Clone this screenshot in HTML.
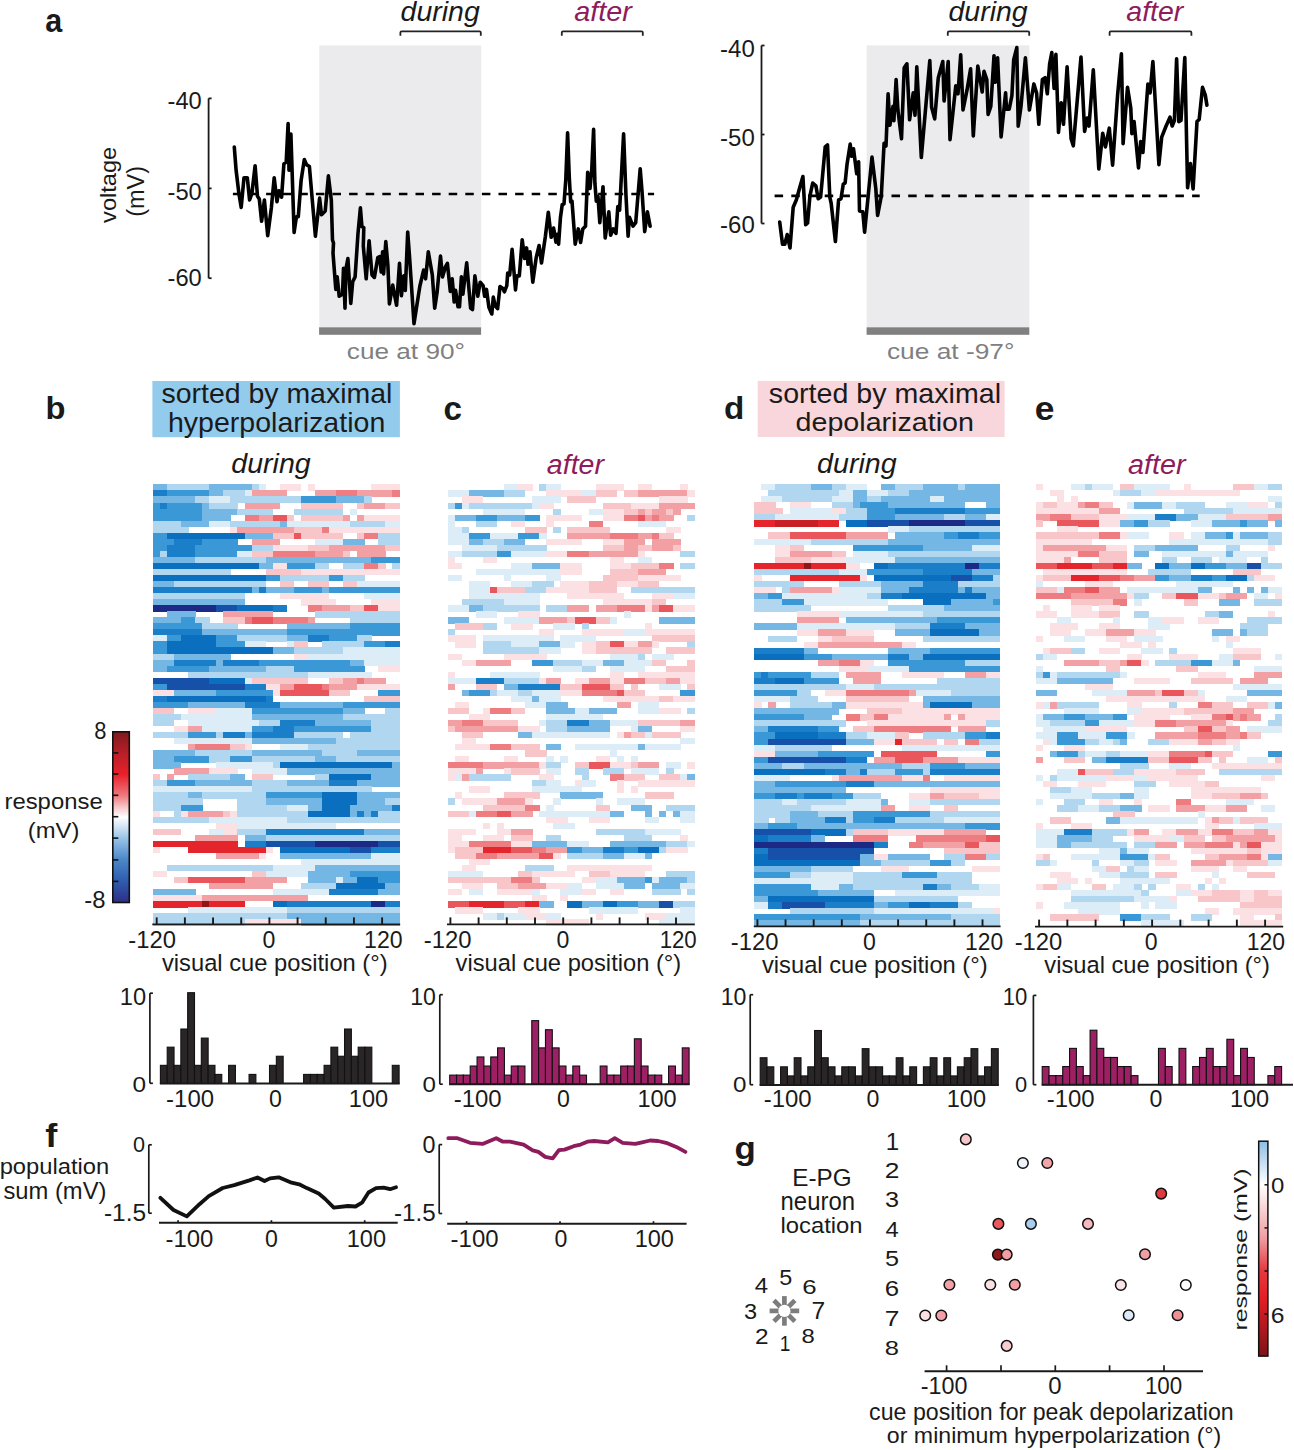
<!DOCTYPE html>
<html><head><meta charset="utf-8"><style>
html,body{margin:0;padding:0;background:#fff;}
svg{display:block;}
text{font-family:"Liberation Sans",sans-serif;fill:#1a1a1a;}
.b{font-weight:bold;} .i{font-style:italic;}
</style></head><body>
<svg width="1294" height="1450" viewBox="0 0 1294 1450">
<rect width="1294" height="1450" fill="#fff"/>
<text class="b" transform="translate(45.29,31.86) scale(0.906,1)" font-size="33.64">a</text>
<rect x="319.30" y="45.40" width="161.90" height="281.90" fill="#ebebed"/>
<rect x="319.10" y="327.30" width="162.00" height="7.50" fill="#808080"/>
<rect x="866.70" y="45.40" width="162.70" height="281.90" fill="#ebebed"/>
<rect x="866.60" y="327.30" width="162.70" height="7.50" fill="#808080"/>
<path d="M400.4,35.8 V32.6 Q400.4,31.4 401.6,31.4 H479.6 Q480.8,31.4 480.8,32.6 V35.8" fill="none" stroke="#222" stroke-width="1.8"/>
<path d="M561.8,35.8 V32.6 Q561.8,31.4 563.0,31.4 H641.6 Q642.8,31.4 642.8,32.6 V35.8" fill="none" stroke="#222" stroke-width="1.8"/>
<path d="M947.8,35.8 V32.6 Q947.8,31.4 949.0,31.4 H1028.0 Q1029.2,31.4 1029.2,32.6 V35.8" fill="none" stroke="#222" stroke-width="1.8"/>
<path d="M1109.6,35.8 V32.6 Q1109.6,31.4 1110.8,31.4 H1190.2 Q1191.4,31.4 1191.4,32.6 V35.8" fill="none" stroke="#222" stroke-width="1.8"/>
<text class="i" transform="translate(400.60,21.24) scale(1.020,1)" font-size="27.91">during</text>
<text class="i" transform="translate(574.22,20.93) scale(1.049,1)" font-size="27.48" style="fill:#8e1b5c">after</text>
<text class="i" transform="translate(948.50,21.24) scale(1.020,1)" font-size="27.91">during</text>
<text class="i" transform="translate(1126.33,20.93) scale(1.037,1)" font-size="27.48" style="fill:#8e1b5c">after</text>
<line x1="208.60" y1="98.40" x2="208.60" y2="278.20" stroke="#1a1a1a" stroke-width="1.8"/>
<line x1="208.60" y1="98.40" x2="211.60" y2="98.40" stroke="#1a1a1a" stroke-width="1.8"/>
<line x1="208.60" y1="188.40" x2="211.60" y2="188.40" stroke="#1a1a1a" stroke-width="1.8"/>
<line x1="208.60" y1="278.20" x2="211.60" y2="278.20" stroke="#1a1a1a" stroke-width="1.8"/>
<text class="r" transform="translate(167.53,109.36) scale(0.991,1)" font-size="23.94">-40</text>
<text class="r" transform="translate(167.53,199.56) scale(1.009,1)" font-size="23.52">-50</text>
<text class="r" transform="translate(167.53,286.06) scale(0.997,1)" font-size="23.80">-60</text>
<text class="r" transform="translate(116.43,222.92) rotate(-90) scale(1.062,1)" font-size="22.25">voltage</text>
<text class="r" transform="translate(143.50,216.81) rotate(-90) scale(1.009,1)" font-size="23.32">(mV)</text>
<line x1="761.50" y1="45.50" x2="761.50" y2="223.50" stroke="#1a1a1a" stroke-width="1.8"/>
<line x1="761.50" y1="45.50" x2="764.50" y2="45.50" stroke="#1a1a1a" stroke-width="1.8"/>
<line x1="761.50" y1="134.50" x2="764.50" y2="134.50" stroke="#1a1a1a" stroke-width="1.8"/>
<line x1="761.50" y1="223.50" x2="764.50" y2="223.50" stroke="#1a1a1a" stroke-width="1.8"/>
<text class="r" transform="translate(720.12,56.76) scale(1.004,1)" font-size="23.94">-40</text>
<text class="r" transform="translate(720.12,146.46) scale(1.022,1)" font-size="23.52">-50</text>
<text class="r" transform="translate(720.12,233.16) scale(1.010,1)" font-size="23.80">-60</text>
<line x1="232.9" y1="194" x2="654.1" y2="194" stroke="#000" stroke-width="2.7" stroke-dasharray="8.5 8.1"/>
<line x1="774.6" y1="195.8" x2="1199.7" y2="195.8" stroke="#000" stroke-width="2.7" stroke-dasharray="8.5 8.2"/>
<polyline points="234.3,147.1 236.1,170.3 238.9,193.5 241.2,207.4 244.0,177.7 247.3,177.7 249.6,200.0 251.9,193.5 255.1,165.7 257.5,196.3 259.3,199.0 261.6,221.3 264.4,200.0 267.7,235.7 271.4,207.4 274.2,177.7 277.0,201.8 278.8,190.7 281.6,197.2 283.9,163.8 286.2,162.0 288.1,123.5 289.0,170.3 290.9,134.1 294.1,232.4 296.4,216.7 298.3,216.7 301.1,180.5 304.3,159.6 306.6,164.7 309.4,166.6 315.4,236.2 319.6,198.1 321.5,214.8 325.2,211.1 328.4,175.9 331.3,200.0 332.5,240.0 333.5,243.0 333.0,253.0 335.8,289.4 337.2,276.9 339.2,296.2 342.5,294.2 343.5,268.2 345.0,308.2 345.9,269.2 347.9,258.5 350.8,303.4 352.7,281.7 355.1,276.9 358.0,233.4 360.4,207.9 361.9,226.7 363.8,227.6 363.3,246.0 366.2,278.8 369.1,240.7 372.0,274.9 374.4,277.4 377.8,257.6 379.7,256.6 381.2,272.0 382.6,251.8 383.6,274.0 385.8,241.6 387.9,265.3 389.4,303.9 392.7,285.1 396.6,305.3 399.5,263.4 401.4,295.7 403.8,275.9 405.3,290.4 407.7,232.0 409.6,257.6 414.0,323.7 419.8,286.5 423.6,270.1 425.6,278.8 428.3,251.8 432.3,274.9 434.7,308.2 437.1,292.3 440.5,256.1 442.5,276.9 445.3,267.2 447.4,263.4 450.3,291.4 452.2,278.8 454.2,302.0 455.6,290.4 458.0,306.8 459.5,306.8 461.4,276.9 462.9,294.2 466.7,262.9 470.6,308.2 472.5,309.7 474.9,275.9 477.8,296.2 480.2,282.2 483.1,285.6 484.6,296.2 486.5,289.4 488.9,307.3 491.8,314.0 493.3,297.1 495.2,305.8 497.6,308.7 500.0,286.5 502.9,288.5 504.4,291.8 506.8,285.6 507.7,273.0 509.7,274.9 512.1,249.4 515.5,289.9 516.9,275.9 519.3,275.9 522.2,239.7 524.6,258.5 526.6,247.9 528.0,264.3 530.0,251.8 532.8,282.2 536.2,257.6 539.1,245.5 541.5,262.9 545.4,236.3 548.3,212.2 551.2,237.3 553.6,228.1 556.0,242.1 557.5,234.4 558.6,244.1 560.4,218.1 562.2,204.7 564.0,203.8 565.8,179.6 567.6,132.9 569.3,177.8 570.7,202.0 572.0,201.1 575.2,244.1 578.3,228.9 580.6,242.4 582.8,228.9 585.5,226.2 587.7,172.4 590.0,188.5 591.8,168.8 593.6,129.3 594.9,183.2 596.3,201.1 598.0,196.6 599.8,222.6 603.0,186.7 605.2,237.9 608.8,211.9 610.6,235.2 613.3,228.9 616.0,233.4 617.8,206.5 619.6,210.1 623.6,133.8 625.9,193.9 628.1,236.1 629.4,217.2 633.0,226.2 635.7,222.6 640.2,168.8 642.0,191.2 644.7,231.6 647.4,211.9 650.1,226.2" fill="none" stroke="#000" stroke-width="3.6" stroke-linejoin="round" stroke-linecap="round"/>
<polyline points="779.7,222.0 782.5,244.3 784.8,244.3 787.2,234.6 790.0,248.0 793.2,207.2 796.4,199.8 799.2,189.6 802.9,176.6 805.7,224.8 807.6,223.0 809.9,196.1 812.7,183.1 815.9,185.9 818.2,198.8 820.6,197.0 821.9,183.1 825.2,146.9 827.5,145.0 829.8,197.0 831.2,203.5 835.4,241.5 838.6,199.8 841.0,198.8 843.3,184.0 845.1,183.1 847.0,164.5 850.2,144.1 851.6,156.2 853.5,148.8 856.7,173.8 858.6,161.7 859.5,210.9 862.8,211.8 864.6,232.2 872.0,157.1 875.8,188.6 877.6,215.5 881.3,196.1 884.1,143.2 886.0,146.0 888.1,93.8 889.9,125.2 893.0,106.4 893.9,120.7 896.1,79.5 897.9,110.0 901.5,138.7 904.2,67.8 906.9,63.8 909.6,119.8 913.2,92.9 915.0,115.3 916.8,66.9 921.3,157.5 929.8,60.6 931.6,107.3 934.7,118.9 938.3,77.7 942.8,61.5 944.1,101.0 948.2,61.5 950.0,139.6 955.8,85.7 958.0,93.8 960.7,54.8 963.0,110.0 967.0,90.2 970.6,68.7 973.3,136.0 977.8,66.0 982.2,92.0 984.0,71.4 986.8,79.5 988.1,114.4 990.8,106.4 992.2,84.8 994.0,55.7 995.3,82.2 997.6,57.9 1001.1,136.9 1005.6,92.9 1006.5,109.1 1009.2,109.1 1011.9,95.6 1013.7,59.7 1016.8,47.6 1018.2,126.1 1020.9,107.3 1025.4,57.9 1029.4,110.0 1033.9,83.9 1036.6,92.9 1038.8,124.3 1042.4,79.5 1045.1,77.7 1047.3,93.8 1049.6,64.2 1051.8,52.6 1054.1,88.4 1055.9,54.3 1058.5,132.4 1061.2,102.8 1063.5,124.3 1067.1,66.9 1071.1,138.7 1073.3,145.8 1081.0,57.0 1084.6,131.5 1087.2,118.0 1089.0,126.1 1093.3,69.8 1098.8,169.0 1102.7,133.2 1105.4,147.0 1109.3,128.2 1112.6,165.2 1117.6,95.1 1121.4,53.8 1123.1,143.7 1127.5,87.4 1130.8,108.4 1131.9,133.7 1134.1,121.6 1138.5,167.9 1140.7,141.5 1142.9,152.5 1147.9,84.1 1150.1,92.9 1152.9,61.5 1158.9,164.6 1161.7,137.1 1166.1,126.0 1170.0,117.2 1172.2,126.0 1174.4,120.5 1176.6,58.7 1178.8,121.6 1181.0,120.5 1184.8,57.6 1187.6,187.8 1190.4,163.5 1193.1,188.9 1197.0,121.6 1199.2,119.4 1202.5,87.4 1205.3,95.1 1206.9,105.1" fill="none" stroke="#000" stroke-width="3.6" stroke-linejoin="round" stroke-linecap="round"/>
<text class="r" transform="translate(346.85,358.58) scale(1.169,1)" font-size="22.39" style="fill:#808080">cue at 90°</text>
<text class="r" transform="translate(886.95,358.58) scale(1.176,1)" font-size="22.39" style="fill:#808080">cue at -97°</text>
<g shape-rendering="crispEdges"><rect x="153.00" y="484.40" width="14.38" height="6.34" fill="#74b7e4"/><rect x="167.08" y="484.40" width="42.54" height="6.34" fill="#b0d6f0"/><rect x="209.32" y="484.40" width="42.54" height="6.34" fill="#74b7e4"/><rect x="251.56" y="484.40" width="7.34" height="6.34" fill="#b0d6f0"/><rect x="258.60" y="484.40" width="7.34" height="6.34" fill="#dcedf8"/><rect x="279.72" y="484.40" width="21.42" height="6.34" fill="#fbe1e3"/><rect x="307.88" y="484.40" width="7.34" height="6.34" fill="#fbe1e3"/><rect x="371.24" y="484.40" width="28.46" height="6.34" fill="#fbe1e3"/><rect x="153.00" y="490.44" width="14.38" height="6.34" fill="#1a7fc8"/><rect x="167.08" y="490.44" width="42.54" height="6.34" fill="#3b98d6"/><rect x="209.32" y="490.44" width="14.38" height="6.34" fill="#74b7e4"/><rect x="223.40" y="490.44" width="21.42" height="6.34" fill="#b0d6f0"/><rect x="244.52" y="490.44" width="7.34" height="6.34" fill="#dcedf8"/><rect x="251.56" y="490.44" width="35.50" height="6.34" fill="#f3a0a4"/><rect x="314.92" y="490.44" width="21.42" height="6.34" fill="#f3a0a4"/><rect x="336.04" y="490.44" width="21.42" height="6.34" fill="#ee7d82"/><rect x="357.16" y="490.44" width="35.50" height="6.34" fill="#f3a0a4"/><rect x="392.36" y="490.44" width="7.34" height="6.34" fill="#ee7d82"/><rect x="153.00" y="496.48" width="42.54" height="6.34" fill="#74b7e4"/><rect x="195.24" y="496.48" width="14.38" height="6.34" fill="#b0d6f0"/><rect x="209.32" y="496.48" width="21.42" height="6.34" fill="#dcedf8"/><rect x="230.44" y="496.48" width="70.70" height="6.34" fill="#b0d6f0"/><rect x="300.84" y="496.48" width="35.50" height="6.34" fill="#3b98d6"/><rect x="336.04" y="496.48" width="28.46" height="6.34" fill="#74b7e4"/><rect x="364.20" y="496.48" width="7.34" height="6.34" fill="#b0d6f0"/><rect x="153.00" y="502.52" width="7.34" height="6.34" fill="#3b98d6"/><rect x="160.04" y="502.52" width="7.34" height="6.34" fill="#1a7fc8"/><rect x="167.08" y="502.52" width="35.50" height="6.34" fill="#3b98d6"/><rect x="202.28" y="502.52" width="7.34" height="6.34" fill="#74b7e4"/><rect x="209.32" y="502.52" width="28.46" height="6.34" fill="#b0d6f0"/><rect x="244.52" y="502.52" width="35.50" height="6.34" fill="#f3a0a4"/><rect x="300.84" y="502.52" width="42.54" height="6.34" fill="#f8c6c9"/><rect x="357.16" y="502.52" width="7.34" height="6.34" fill="#f8c6c9"/><rect x="364.20" y="502.52" width="21.42" height="6.34" fill="#f3a0a4"/><rect x="385.32" y="502.52" width="14.38" height="6.34" fill="#f8c6c9"/><rect x="153.00" y="508.56" width="49.58" height="6.34" fill="#3b98d6"/><rect x="202.28" y="508.56" width="35.50" height="6.34" fill="#74b7e4"/><rect x="237.48" y="508.56" width="35.50" height="6.34" fill="#b0d6f0"/><rect x="293.80" y="508.56" width="49.58" height="6.34" fill="#b0d6f0"/><rect x="350.12" y="508.56" width="7.34" height="6.34" fill="#dcedf8"/><rect x="153.00" y="514.60" width="49.58" height="6.34" fill="#3b98d6"/><rect x="202.28" y="514.60" width="28.46" height="6.34" fill="#74b7e4"/><rect x="244.52" y="514.60" width="14.38" height="6.34" fill="#ee7d82"/><rect x="258.60" y="514.60" width="14.38" height="6.34" fill="#f3a0a4"/><rect x="272.68" y="514.60" width="14.38" height="6.34" fill="#e9575d"/><rect x="286.76" y="514.60" width="7.34" height="6.34" fill="#f8c6c9"/><rect x="300.84" y="514.60" width="42.54" height="6.34" fill="#f8c6c9"/><rect x="343.08" y="514.60" width="7.34" height="6.34" fill="#f3a0a4"/><rect x="357.16" y="514.60" width="7.34" height="6.34" fill="#f3a0a4"/><rect x="364.20" y="514.60" width="35.50" height="6.34" fill="#fbe1e3"/><rect x="153.00" y="520.64" width="28.46" height="6.34" fill="#b0d6f0"/><rect x="181.16" y="520.64" width="28.46" height="6.34" fill="#74b7e4"/><rect x="209.32" y="520.64" width="21.42" height="6.34" fill="#dcedf8"/><rect x="230.44" y="520.64" width="49.58" height="6.34" fill="#b0d6f0"/><rect x="279.72" y="520.64" width="7.34" height="6.34" fill="#74b7e4"/><rect x="286.76" y="520.64" width="63.66" height="6.34" fill="#dcedf8"/><rect x="350.12" y="520.64" width="35.50" height="6.34" fill="#b0d6f0"/><rect x="385.32" y="520.64" width="14.38" height="6.34" fill="#dcedf8"/><rect x="153.00" y="526.68" width="35.50" height="6.34" fill="#b0d6f0"/><rect x="230.44" y="526.68" width="7.34" height="6.34" fill="#fbe1e3"/><rect x="237.48" y="526.68" width="56.62" height="6.34" fill="#f3a0a4"/><rect x="293.80" y="526.68" width="28.46" height="6.34" fill="#f8c6c9"/><rect x="321.96" y="526.68" width="7.34" height="6.34" fill="#ee7d82"/><rect x="329.00" y="526.68" width="70.70" height="6.34" fill="#fbe1e3"/><rect x="153.00" y="532.72" width="14.38" height="6.34" fill="#3b98d6"/><rect x="167.08" y="532.72" width="77.74" height="6.34" fill="#0b6fc0"/><rect x="244.52" y="532.72" width="28.46" height="6.34" fill="#74b7e4"/><rect x="272.68" y="532.72" width="21.42" height="6.34" fill="#f8c6c9"/><rect x="293.80" y="532.72" width="7.34" height="6.34" fill="#e9575d"/><rect x="300.84" y="532.72" width="42.54" height="6.34" fill="#f8c6c9"/><rect x="357.16" y="532.72" width="7.34" height="6.34" fill="#f8c6c9"/><rect x="364.20" y="532.72" width="14.38" height="6.34" fill="#ee7d82"/><rect x="378.28" y="532.72" width="21.42" height="6.34" fill="#b0d6f0"/><rect x="153.00" y="538.76" width="21.42" height="6.34" fill="#3b98d6"/><rect x="174.12" y="538.76" width="28.46" height="6.34" fill="#1a7fc8"/><rect x="202.28" y="538.76" width="35.50" height="6.34" fill="#3b98d6"/><rect x="251.56" y="538.76" width="28.46" height="6.34" fill="#f3a0a4"/><rect x="314.92" y="538.76" width="28.46" height="6.34" fill="#dcedf8"/><rect x="343.08" y="538.76" width="21.42" height="6.34" fill="#74b7e4"/><rect x="378.28" y="538.76" width="21.42" height="6.34" fill="#b0d6f0"/><rect x="153.00" y="544.80" width="14.38" height="6.34" fill="#3b98d6"/><rect x="167.08" y="544.80" width="28.46" height="6.34" fill="#1a7fc8"/><rect x="195.24" y="544.80" width="56.62" height="6.34" fill="#3b98d6"/><rect x="251.56" y="544.80" width="21.42" height="6.34" fill="#b0d6f0"/><rect x="272.68" y="544.80" width="35.50" height="6.34" fill="#fbe1e3"/><rect x="307.88" y="544.80" width="21.42" height="6.34" fill="#f8c6c9"/><rect x="329.00" y="544.80" width="56.62" height="6.34" fill="#f3a0a4"/><rect x="385.32" y="544.80" width="14.38" height="6.34" fill="#f8c6c9"/><rect x="153.00" y="550.84" width="7.34" height="6.34" fill="#3b98d6"/><rect x="160.04" y="550.84" width="7.34" height="6.34" fill="#b0d6f0"/><rect x="167.08" y="550.84" width="28.46" height="6.34" fill="#1a7fc8"/><rect x="195.24" y="550.84" width="42.54" height="6.34" fill="#3b98d6"/><rect x="237.48" y="550.84" width="14.38" height="6.34" fill="#dcedf8"/><rect x="251.56" y="550.84" width="21.42" height="6.34" fill="#f8c6c9"/><rect x="272.68" y="550.84" width="42.54" height="6.34" fill="#ee7d82"/><rect x="314.92" y="550.84" width="28.46" height="6.34" fill="#f3a0a4"/><rect x="343.08" y="550.84" width="7.34" height="6.34" fill="#f8c6c9"/><rect x="357.16" y="550.84" width="28.46" height="6.34" fill="#f3a0a4"/><rect x="153.00" y="556.88" width="42.54" height="6.34" fill="#74b7e4"/><rect x="195.24" y="556.88" width="70.70" height="6.34" fill="#b0d6f0"/><rect x="265.64" y="556.88" width="105.90" height="6.34" fill="#74b7e4"/><rect x="371.24" y="556.88" width="28.46" height="6.34" fill="#3b98d6"/><rect x="153.00" y="562.92" width="105.90" height="6.34" fill="#0b6fc0"/><rect x="258.60" y="562.92" width="14.38" height="6.34" fill="#74b7e4"/><rect x="272.68" y="562.92" width="14.38" height="6.34" fill="#fbe1e3"/><rect x="286.76" y="562.92" width="28.46" height="6.34" fill="#3b98d6"/><rect x="314.92" y="562.92" width="14.38" height="6.34" fill="#b0d6f0"/><rect x="343.08" y="562.92" width="21.42" height="6.34" fill="#b0d6f0"/><rect x="364.20" y="562.92" width="14.38" height="6.34" fill="#ee7d82"/><rect x="378.28" y="562.92" width="7.34" height="6.34" fill="#f8c6c9"/><rect x="392.36" y="562.92" width="7.34" height="6.34" fill="#b0d6f0"/><rect x="153.00" y="568.96" width="77.74" height="6.34" fill="#b0d6f0"/><rect x="265.64" y="568.96" width="35.50" height="6.34" fill="#f8c6c9"/><rect x="300.84" y="568.96" width="98.86" height="6.34" fill="#fbe1e3"/><rect x="153.00" y="575.00" width="112.94" height="6.34" fill="#0b6fc0"/><rect x="265.64" y="575.00" width="14.38" height="6.34" fill="#3b98d6"/><rect x="279.72" y="575.00" width="49.58" height="6.34" fill="#b0d6f0"/><rect x="329.00" y="575.00" width="14.38" height="6.34" fill="#3b98d6"/><rect x="343.08" y="575.00" width="21.42" height="6.34" fill="#b0d6f0"/><rect x="153.00" y="581.04" width="21.42" height="6.34" fill="#74b7e4"/><rect x="174.12" y="581.04" width="91.82" height="6.34" fill="#b0d6f0"/><rect x="279.72" y="581.04" width="14.38" height="6.34" fill="#f8c6c9"/><rect x="307.88" y="581.04" width="21.42" height="6.34" fill="#f8c6c9"/><rect x="343.08" y="581.04" width="14.38" height="6.34" fill="#f8c6c9"/><rect x="357.16" y="581.04" width="42.54" height="6.34" fill="#dcedf8"/><rect x="153.00" y="587.08" width="98.86" height="6.34" fill="#1a7fc8"/><rect x="251.56" y="587.08" width="7.34" height="6.34" fill="#74b7e4"/><rect x="258.60" y="587.08" width="7.34" height="6.34" fill="#1a7fc8"/><rect x="265.64" y="587.08" width="28.46" height="6.34" fill="#74b7e4"/><rect x="293.80" y="587.08" width="28.46" height="6.34" fill="#3b98d6"/><rect x="321.96" y="587.08" width="7.34" height="6.34" fill="#74b7e4"/><rect x="329.00" y="587.08" width="70.70" height="6.34" fill="#3b98d6"/><rect x="153.00" y="593.12" width="91.82" height="6.34" fill="#b0d6f0"/><rect x="279.72" y="593.12" width="49.58" height="6.34" fill="#fbe1e3"/><rect x="364.20" y="593.12" width="35.50" height="6.34" fill="#dcedf8"/><rect x="153.00" y="599.16" width="91.82" height="6.34" fill="#74b7e4"/><rect x="300.84" y="599.16" width="35.50" height="6.34" fill="#fbe1e3"/><rect x="371.24" y="599.16" width="28.46" height="6.34" fill="#fbe1e3"/><rect x="153.00" y="605.20" width="63.66" height="6.34" fill="#1c2a86"/><rect x="216.36" y="605.20" width="21.42" height="6.34" fill="#1750a8"/><rect x="237.48" y="605.20" width="35.50" height="6.34" fill="#0b6fc0"/><rect x="272.68" y="605.20" width="14.38" height="6.34" fill="#1a7fc8"/><rect x="307.88" y="605.20" width="14.38" height="6.34" fill="#ee7d82"/><rect x="321.96" y="605.20" width="28.46" height="6.34" fill="#f3a0a4"/><rect x="350.12" y="605.20" width="14.38" height="6.34" fill="#f8c6c9"/><rect x="364.20" y="605.20" width="14.38" height="6.34" fill="#e9575d"/><rect x="378.28" y="605.20" width="21.42" height="6.34" fill="#fbe1e3"/><rect x="167.08" y="611.24" width="28.46" height="6.34" fill="#74b7e4"/><rect x="223.40" y="611.24" width="49.58" height="6.34" fill="#f3a0a4"/><rect x="314.92" y="611.24" width="84.78" height="6.34" fill="#b0d6f0"/><rect x="153.00" y="617.28" width="28.46" height="6.34" fill="#74b7e4"/><rect x="181.16" y="617.28" width="14.38" height="6.34" fill="#3b98d6"/><rect x="195.24" y="617.28" width="14.38" height="6.34" fill="#b0d6f0"/><rect x="223.40" y="617.28" width="21.42" height="6.34" fill="#f8c6c9"/><rect x="244.52" y="617.28" width="7.34" height="6.34" fill="#ee7d82"/><rect x="251.56" y="617.28" width="21.42" height="6.34" fill="#e9575d"/><rect x="272.68" y="617.28" width="35.50" height="6.34" fill="#ee7d82"/><rect x="307.88" y="617.28" width="7.34" height="6.34" fill="#f3a0a4"/><rect x="350.12" y="617.28" width="49.58" height="6.34" fill="#b0d6f0"/><rect x="153.00" y="623.32" width="49.58" height="6.34" fill="#3b98d6"/><rect x="202.28" y="623.32" width="35.50" height="6.34" fill="#b0d6f0"/><rect x="286.76" y="623.32" width="63.66" height="6.34" fill="#74b7e4"/><rect x="350.12" y="623.32" width="49.58" height="6.34" fill="#3b98d6"/><rect x="153.00" y="629.36" width="49.58" height="6.34" fill="#1a7fc8"/><rect x="202.28" y="629.36" width="84.78" height="6.34" fill="#74b7e4"/><rect x="286.76" y="629.36" width="112.94" height="6.34" fill="#3b98d6"/><rect x="153.00" y="635.40" width="14.38" height="6.34" fill="#dcedf8"/><rect x="167.08" y="635.40" width="14.38" height="6.34" fill="#3b98d6"/><rect x="181.16" y="635.40" width="35.50" height="6.34" fill="#0b6fc0"/><rect x="216.36" y="635.40" width="21.42" height="6.34" fill="#3b98d6"/><rect x="237.48" y="635.40" width="49.58" height="6.34" fill="#b0d6f0"/><rect x="286.76" y="635.40" width="21.42" height="6.34" fill="#74b7e4"/><rect x="307.88" y="635.40" width="21.42" height="6.34" fill="#1a7fc8"/><rect x="329.00" y="635.40" width="28.46" height="6.34" fill="#3b98d6"/><rect x="357.16" y="635.40" width="14.38" height="6.34" fill="#b0d6f0"/><rect x="153.00" y="641.44" width="14.38" height="6.34" fill="#3b98d6"/><rect x="167.08" y="641.44" width="49.58" height="6.34" fill="#0b6fc0"/><rect x="216.36" y="641.44" width="28.46" height="6.34" fill="#3b98d6"/><rect x="244.52" y="641.44" width="21.42" height="6.34" fill="#dcedf8"/><rect x="286.76" y="641.44" width="7.34" height="6.34" fill="#dcedf8"/><rect x="293.80" y="641.44" width="14.38" height="6.34" fill="#f8c6c9"/><rect x="321.96" y="641.44" width="42.54" height="6.34" fill="#b0d6f0"/><rect x="364.20" y="641.44" width="21.42" height="6.34" fill="#3b98d6"/><rect x="385.32" y="641.44" width="14.38" height="6.34" fill="#1a7fc8"/><rect x="153.00" y="647.48" width="14.38" height="6.34" fill="#3b98d6"/><rect x="167.08" y="647.48" width="105.90" height="6.34" fill="#0b6fc0"/><rect x="272.68" y="647.48" width="21.42" height="6.34" fill="#74b7e4"/><rect x="293.80" y="647.48" width="49.58" height="6.34" fill="#b0d6f0"/><rect x="343.08" y="647.48" width="56.62" height="6.34" fill="#dcedf8"/><rect x="153.00" y="653.52" width="21.42" height="6.34" fill="#b0d6f0"/><rect x="174.12" y="653.52" width="56.62" height="6.34" fill="#74b7e4"/><rect x="293.80" y="653.52" width="14.38" height="6.34" fill="#fbe1e3"/><rect x="307.88" y="653.52" width="91.82" height="6.34" fill="#dcedf8"/><rect x="153.00" y="659.56" width="21.42" height="6.34" fill="#74b7e4"/><rect x="174.12" y="659.56" width="42.54" height="6.34" fill="#1a7fc8"/><rect x="216.36" y="659.56" width="7.34" height="6.34" fill="#74b7e4"/><rect x="223.40" y="659.56" width="35.50" height="6.34" fill="#1a7fc8"/><rect x="258.60" y="659.56" width="91.82" height="6.34" fill="#3b98d6"/><rect x="350.12" y="659.56" width="14.38" height="6.34" fill="#74b7e4"/><rect x="364.20" y="659.56" width="35.50" height="6.34" fill="#dcedf8"/><rect x="153.00" y="665.60" width="14.38" height="6.34" fill="#74b7e4"/><rect x="167.08" y="665.60" width="42.54" height="6.34" fill="#3b98d6"/><rect x="209.32" y="665.60" width="56.62" height="6.34" fill="#74b7e4"/><rect x="265.64" y="665.60" width="28.46" height="6.34" fill="#b0d6f0"/><rect x="293.80" y="665.60" width="70.70" height="6.34" fill="#3b98d6"/><rect x="378.28" y="665.60" width="21.42" height="6.34" fill="#fbe1e3"/><rect x="188.20" y="671.64" width="119.98" height="6.34" fill="#b0d6f0"/><rect x="307.88" y="671.64" width="63.66" height="6.34" fill="#dcedf8"/><rect x="153.00" y="677.68" width="56.62" height="6.34" fill="#1750a8"/><rect x="209.32" y="677.68" width="35.50" height="6.34" fill="#0b6fc0"/><rect x="244.52" y="677.68" width="7.34" height="6.34" fill="#dcedf8"/><rect x="251.56" y="677.68" width="56.62" height="6.34" fill="#f8c6c9"/><rect x="329.00" y="677.68" width="14.38" height="6.34" fill="#f8c6c9"/><rect x="343.08" y="677.68" width="14.38" height="6.34" fill="#f3a0a4"/><rect x="357.16" y="677.68" width="7.34" height="6.34" fill="#ee7d82"/><rect x="364.20" y="677.68" width="21.42" height="6.34" fill="#f3a0a4"/><rect x="153.00" y="683.72" width="14.38" height="6.34" fill="#3b98d6"/><rect x="167.08" y="683.72" width="77.74" height="6.34" fill="#1750a8"/><rect x="244.52" y="683.72" width="21.42" height="6.34" fill="#1a7fc8"/><rect x="265.64" y="683.72" width="14.38" height="6.34" fill="#fbe1e3"/><rect x="279.72" y="683.72" width="14.38" height="6.34" fill="#f3a0a4"/><rect x="293.80" y="683.72" width="28.46" height="6.34" fill="#e9575d"/><rect x="321.96" y="683.72" width="7.34" height="6.34" fill="#ee7d82"/><rect x="329.00" y="683.72" width="28.46" height="6.34" fill="#f3a0a4"/><rect x="357.16" y="683.72" width="42.54" height="6.34" fill="#fbe1e3"/><rect x="153.00" y="689.76" width="21.42" height="6.34" fill="#fbe1e3"/><rect x="174.12" y="689.76" width="42.54" height="6.34" fill="#74b7e4"/><rect x="216.36" y="689.76" width="56.62" height="6.34" fill="#3b98d6"/><rect x="272.68" y="689.76" width="7.34" height="6.34" fill="#fbe1e3"/><rect x="279.72" y="689.76" width="49.58" height="6.34" fill="#e9575d"/><rect x="329.00" y="689.76" width="21.42" height="6.34" fill="#f8c6c9"/><rect x="378.28" y="689.76" width="21.42" height="6.34" fill="#3b98d6"/><rect x="153.00" y="695.80" width="14.38" height="6.34" fill="#1a7fc8"/><rect x="167.08" y="695.80" width="98.86" height="6.34" fill="#0b6fc0"/><rect x="265.64" y="695.80" width="7.34" height="6.34" fill="#1a7fc8"/><rect x="364.20" y="695.80" width="35.50" height="6.34" fill="#f8c6c9"/><rect x="153.00" y="701.84" width="35.50" height="6.34" fill="#3b98d6"/><rect x="188.20" y="701.84" width="56.62" height="6.34" fill="#74b7e4"/><rect x="244.52" y="701.84" width="35.50" height="6.34" fill="#1a7fc8"/><rect x="279.72" y="701.84" width="63.66" height="6.34" fill="#74b7e4"/><rect x="343.08" y="701.84" width="56.62" height="6.34" fill="#3b98d6"/><rect x="153.00" y="707.88" width="21.42" height="6.34" fill="#f8c6c9"/><rect x="188.20" y="707.88" width="28.46" height="6.34" fill="#fbe1e3"/><rect x="216.36" y="707.88" width="35.50" height="6.34" fill="#dcedf8"/><rect x="251.56" y="707.88" width="91.82" height="6.34" fill="#3b98d6"/><rect x="343.08" y="707.88" width="21.42" height="6.34" fill="#74b7e4"/><rect x="385.32" y="707.88" width="14.38" height="6.34" fill="#b0d6f0"/><rect x="153.00" y="713.92" width="28.46" height="6.34" fill="#b0d6f0"/><rect x="181.16" y="713.92" width="70.70" height="6.34" fill="#dcedf8"/><rect x="251.56" y="713.92" width="91.82" height="6.34" fill="#74b7e4"/><rect x="343.08" y="713.92" width="56.62" height="6.34" fill="#b0d6f0"/><rect x="153.00" y="719.96" width="21.42" height="6.34" fill="#b0d6f0"/><rect x="188.20" y="719.96" width="70.70" height="6.34" fill="#dcedf8"/><rect x="258.60" y="719.96" width="21.42" height="6.34" fill="#b0d6f0"/><rect x="279.72" y="719.96" width="35.50" height="6.34" fill="#1a7fc8"/><rect x="314.92" y="719.96" width="56.62" height="6.34" fill="#74b7e4"/><rect x="371.24" y="719.96" width="28.46" height="6.34" fill="#b0d6f0"/><rect x="174.12" y="726.00" width="14.38" height="6.34" fill="#fbe1e3"/><rect x="188.20" y="726.00" width="14.38" height="6.34" fill="#f3a0a4"/><rect x="202.28" y="726.00" width="49.58" height="6.34" fill="#dcedf8"/><rect x="251.56" y="726.00" width="21.42" height="6.34" fill="#3b98d6"/><rect x="272.68" y="726.00" width="21.42" height="6.34" fill="#1a7fc8"/><rect x="293.80" y="726.00" width="77.74" height="6.34" fill="#3b98d6"/><rect x="371.24" y="726.00" width="28.46" height="6.34" fill="#b0d6f0"/><rect x="153.00" y="732.04" width="35.50" height="6.34" fill="#b0d6f0"/><rect x="188.20" y="732.04" width="28.46" height="6.34" fill="#3b98d6"/><rect x="216.36" y="732.04" width="7.34" height="6.34" fill="#b0d6f0"/><rect x="223.40" y="732.04" width="21.42" height="6.34" fill="#1a7fc8"/><rect x="244.52" y="732.04" width="7.34" height="6.34" fill="#74b7e4"/><rect x="251.56" y="732.04" width="42.54" height="6.34" fill="#1a7fc8"/><rect x="293.80" y="732.04" width="49.58" height="6.34" fill="#b0d6f0"/><rect x="350.12" y="732.04" width="49.58" height="6.34" fill="#b0d6f0"/><rect x="174.12" y="738.08" width="77.74" height="6.34" fill="#dcedf8"/><rect x="251.56" y="738.08" width="84.78" height="6.34" fill="#74b7e4"/><rect x="336.04" y="738.08" width="63.66" height="6.34" fill="#b0d6f0"/><rect x="188.20" y="744.12" width="7.34" height="6.34" fill="#f3a0a4"/><rect x="195.24" y="744.12" width="35.50" height="6.34" fill="#ee7d82"/><rect x="230.44" y="744.12" width="14.38" height="6.34" fill="#f8c6c9"/><rect x="244.52" y="744.12" width="7.34" height="6.34" fill="#fbe1e3"/><rect x="279.72" y="744.12" width="28.46" height="6.34" fill="#dcedf8"/><rect x="307.88" y="744.12" width="91.82" height="6.34" fill="#b0d6f0"/><rect x="153.00" y="750.16" width="42.54" height="6.34" fill="#74b7e4"/><rect x="195.24" y="750.16" width="56.62" height="6.34" fill="#b0d6f0"/><rect x="251.56" y="750.16" width="70.70" height="6.34" fill="#74b7e4"/><rect x="321.96" y="750.16" width="35.50" height="6.34" fill="#b0d6f0"/><rect x="357.16" y="750.16" width="42.54" height="6.34" fill="#74b7e4"/><rect x="153.00" y="756.20" width="21.42" height="6.34" fill="#74b7e4"/><rect x="174.12" y="756.20" width="35.50" height="6.34" fill="#3b98d6"/><rect x="209.32" y="756.20" width="21.42" height="6.34" fill="#b0d6f0"/><rect x="230.44" y="756.20" width="21.42" height="6.34" fill="#3b98d6"/><rect x="251.56" y="756.20" width="63.66" height="6.34" fill="#b0d6f0"/><rect x="314.92" y="756.20" width="21.42" height="6.34" fill="#74b7e4"/><rect x="336.04" y="756.20" width="63.66" height="6.34" fill="#b0d6f0"/><rect x="153.00" y="762.24" width="28.46" height="6.34" fill="#74b7e4"/><rect x="216.36" y="762.24" width="56.62" height="6.34" fill="#dcedf8"/><rect x="272.68" y="762.24" width="7.34" height="6.34" fill="#b0d6f0"/><rect x="279.72" y="762.24" width="112.94" height="6.34" fill="#0b6fc0"/><rect x="392.36" y="762.24" width="7.34" height="6.34" fill="#74b7e4"/><rect x="174.12" y="768.28" width="35.50" height="6.34" fill="#f3a0a4"/><rect x="209.32" y="768.28" width="28.46" height="6.34" fill="#fbe1e3"/><rect x="251.56" y="768.28" width="35.50" height="6.34" fill="#dcedf8"/><rect x="286.76" y="768.28" width="112.94" height="6.34" fill="#74b7e4"/><rect x="153.00" y="774.32" width="7.34" height="6.34" fill="#f8c6c9"/><rect x="167.08" y="774.32" width="7.34" height="6.34" fill="#f3a0a4"/><rect x="188.20" y="774.32" width="42.54" height="6.34" fill="#b0d6f0"/><rect x="230.44" y="774.32" width="14.38" height="6.34" fill="#74b7e4"/><rect x="251.56" y="774.32" width="21.42" height="6.34" fill="#f8c6c9"/><rect x="314.92" y="774.32" width="14.38" height="6.34" fill="#b0d6f0"/><rect x="329.00" y="774.32" width="42.54" height="6.34" fill="#0b6fc0"/><rect x="371.24" y="774.32" width="28.46" height="6.34" fill="#74b7e4"/><rect x="153.00" y="780.36" width="14.38" height="6.34" fill="#b0d6f0"/><rect x="167.08" y="780.36" width="28.46" height="6.34" fill="#3b98d6"/><rect x="195.24" y="780.36" width="56.62" height="6.34" fill="#74b7e4"/><rect x="251.56" y="780.36" width="35.50" height="6.34" fill="#b0d6f0"/><rect x="286.76" y="780.36" width="42.54" height="6.34" fill="#74b7e4"/><rect x="329.00" y="780.36" width="28.46" height="6.34" fill="#1a7fc8"/><rect x="357.16" y="780.36" width="42.54" height="6.34" fill="#74b7e4"/><rect x="153.00" y="786.40" width="98.86" height="6.34" fill="#dcedf8"/><rect x="251.56" y="786.40" width="119.98" height="6.34" fill="#b0d6f0"/><rect x="153.00" y="792.44" width="35.50" height="6.34" fill="#b0d6f0"/><rect x="188.20" y="792.44" width="14.38" height="6.34" fill="#74b7e4"/><rect x="202.28" y="792.44" width="63.66" height="6.34" fill="#b0d6f0"/><rect x="265.64" y="792.44" width="56.62" height="6.34" fill="#3b98d6"/><rect x="321.96" y="792.44" width="35.50" height="6.34" fill="#0b6fc0"/><rect x="357.16" y="792.44" width="42.54" height="6.34" fill="#74b7e4"/><rect x="153.00" y="798.48" width="49.58" height="6.34" fill="#b0d6f0"/><rect x="237.48" y="798.48" width="28.46" height="6.34" fill="#b0d6f0"/><rect x="265.64" y="798.48" width="56.62" height="6.34" fill="#74b7e4"/><rect x="321.96" y="798.48" width="35.50" height="6.34" fill="#0b6fc0"/><rect x="357.16" y="798.48" width="28.46" height="6.34" fill="#74b7e4"/><rect x="385.32" y="798.48" width="14.38" height="6.34" fill="#b0d6f0"/><rect x="153.00" y="804.52" width="28.46" height="6.34" fill="#b0d6f0"/><rect x="181.16" y="804.52" width="21.42" height="6.34" fill="#3b98d6"/><rect x="237.48" y="804.52" width="49.58" height="6.34" fill="#b0d6f0"/><rect x="286.76" y="804.52" width="21.42" height="6.34" fill="#dcedf8"/><rect x="307.88" y="804.52" width="14.38" height="6.34" fill="#74b7e4"/><rect x="321.96" y="804.52" width="28.46" height="6.34" fill="#0b6fc0"/><rect x="350.12" y="804.52" width="42.54" height="6.34" fill="#74b7e4"/><rect x="392.36" y="804.52" width="7.34" height="6.34" fill="#1a7fc8"/><rect x="153.00" y="810.56" width="7.34" height="6.34" fill="#fbe1e3"/><rect x="174.12" y="810.56" width="7.34" height="6.34" fill="#b0d6f0"/><rect x="181.16" y="810.56" width="7.34" height="6.34" fill="#fbe1e3"/><rect x="188.20" y="810.56" width="35.50" height="6.34" fill="#f3a0a4"/><rect x="223.40" y="810.56" width="7.34" height="6.34" fill="#f8c6c9"/><rect x="230.44" y="810.56" width="7.34" height="6.34" fill="#fbe1e3"/><rect x="237.48" y="810.56" width="70.70" height="6.34" fill="#b0d6f0"/><rect x="307.88" y="810.56" width="42.54" height="6.34" fill="#0b6fc0"/><rect x="350.12" y="810.56" width="7.34" height="6.34" fill="#74b7e4"/><rect x="357.16" y="810.56" width="7.34" height="6.34" fill="#1a7fc8"/><rect x="364.20" y="810.56" width="7.34" height="6.34" fill="#74b7e4"/><rect x="371.24" y="810.56" width="7.34" height="6.34" fill="#1a7fc8"/><rect x="378.28" y="810.56" width="21.42" height="6.34" fill="#b0d6f0"/><rect x="153.00" y="816.60" width="56.62" height="6.34" fill="#b0d6f0"/><rect x="209.32" y="816.60" width="77.74" height="6.34" fill="#dcedf8"/><rect x="286.76" y="816.60" width="112.94" height="6.34" fill="#b0d6f0"/><rect x="216.36" y="822.64" width="21.42" height="6.34" fill="#fbe1e3"/><rect x="237.48" y="822.64" width="98.86" height="6.34" fill="#dcedf8"/><rect x="153.00" y="828.68" width="28.46" height="6.34" fill="#f8c6c9"/><rect x="209.32" y="828.68" width="14.38" height="6.34" fill="#dcedf8"/><rect x="223.40" y="828.68" width="14.38" height="6.34" fill="#fbe1e3"/><rect x="237.48" y="828.68" width="28.46" height="6.34" fill="#b0d6f0"/><rect x="265.64" y="828.68" width="98.86" height="6.34" fill="#1a7fc8"/><rect x="364.20" y="828.68" width="35.50" height="6.34" fill="#74b7e4"/><rect x="195.24" y="834.72" width="42.54" height="6.34" fill="#f3a0a4"/><rect x="244.52" y="834.72" width="21.42" height="6.34" fill="#74b7e4"/><rect x="265.64" y="834.72" width="134.06" height="6.34" fill="#b0d6f0"/><rect x="153.00" y="840.76" width="84.78" height="6.34" fill="#e4262c"/><rect x="244.52" y="840.76" width="21.42" height="6.34" fill="#1a7fc8"/><rect x="265.64" y="840.76" width="49.58" height="6.34" fill="#1750a8"/><rect x="314.92" y="840.76" width="63.66" height="6.34" fill="#1c2a86"/><rect x="378.28" y="840.76" width="21.42" height="6.34" fill="#1750a8"/><rect x="153.00" y="846.80" width="7.34" height="6.34" fill="#fbe1e3"/><rect x="188.20" y="846.80" width="77.74" height="6.34" fill="#e4262c"/><rect x="265.64" y="846.80" width="7.34" height="6.34" fill="#fbe1e3"/><rect x="279.72" y="846.80" width="70.70" height="6.34" fill="#0b6fc0"/><rect x="350.12" y="846.80" width="21.42" height="6.34" fill="#1750a8"/><rect x="371.24" y="846.80" width="28.46" height="6.34" fill="#1a7fc8"/><rect x="216.36" y="852.84" width="42.54" height="6.34" fill="#f3a0a4"/><rect x="258.60" y="852.84" width="7.34" height="6.34" fill="#fbe1e3"/><rect x="279.72" y="852.84" width="91.82" height="6.34" fill="#74b7e4"/><rect x="371.24" y="852.84" width="28.46" height="6.34" fill="#dcedf8"/><rect x="300.84" y="858.88" width="98.86" height="6.34" fill="#dcedf8"/><rect x="167.08" y="864.92" width="105.90" height="6.34" fill="#b0d6f0"/><rect x="272.68" y="864.92" width="42.54" height="6.34" fill="#dcedf8"/><rect x="314.92" y="864.92" width="84.78" height="6.34" fill="#74b7e4"/><rect x="153.00" y="870.96" width="14.38" height="6.34" fill="#fbe1e3"/><rect x="251.56" y="870.96" width="14.38" height="6.34" fill="#f8c6c9"/><rect x="265.64" y="870.96" width="42.54" height="6.34" fill="#dcedf8"/><rect x="307.88" y="870.96" width="42.54" height="6.34" fill="#74b7e4"/><rect x="350.12" y="870.96" width="49.58" height="6.34" fill="#3b98d6"/><rect x="174.12" y="877.00" width="14.38" height="6.34" fill="#f8c6c9"/><rect x="188.20" y="877.00" width="56.62" height="6.34" fill="#e9575d"/><rect x="244.52" y="877.00" width="42.54" height="6.34" fill="#f3a0a4"/><rect x="307.88" y="877.00" width="28.46" height="6.34" fill="#74b7e4"/><rect x="336.04" y="877.00" width="7.34" height="6.34" fill="#dcedf8"/><rect x="343.08" y="877.00" width="14.38" height="6.34" fill="#74b7e4"/><rect x="357.16" y="877.00" width="21.42" height="6.34" fill="#0b6fc0"/><rect x="378.28" y="877.00" width="21.42" height="6.34" fill="#3b98d6"/><rect x="209.32" y="883.04" width="63.66" height="6.34" fill="#f3a0a4"/><rect x="300.84" y="883.04" width="35.50" height="6.34" fill="#b0d6f0"/><rect x="336.04" y="883.04" width="49.58" height="6.34" fill="#0b6fc0"/><rect x="385.32" y="883.04" width="14.38" height="6.34" fill="#74b7e4"/><rect x="153.00" y="889.08" width="42.54" height="6.34" fill="#74b7e4"/><rect x="272.68" y="889.08" width="56.62" height="6.34" fill="#dcedf8"/><rect x="329.00" y="889.08" width="49.58" height="6.34" fill="#1a7fc8"/><rect x="378.28" y="889.08" width="21.42" height="6.34" fill="#74b7e4"/><rect x="153.00" y="895.12" width="49.58" height="6.34" fill="#fbe1e3"/><rect x="202.28" y="895.12" width="105.90" height="6.34" fill="#f3a0a4"/><rect x="153.00" y="901.16" width="49.58" height="6.34" fill="#e4262c"/><rect x="202.28" y="901.16" width="7.34" height="6.34" fill="#8f1519"/><rect x="209.32" y="901.16" width="35.50" height="6.34" fill="#e4262c"/><rect x="272.68" y="901.16" width="14.38" height="6.34" fill="#0b6fc0"/><rect x="286.76" y="901.16" width="84.78" height="6.34" fill="#1a7fc8"/><rect x="371.24" y="901.16" width="14.38" height="6.34" fill="#1c2a86"/><rect x="385.32" y="901.16" width="14.38" height="6.34" fill="#1a7fc8"/><rect x="188.20" y="907.20" width="98.86" height="6.34" fill="#dcedf8"/><rect x="286.76" y="907.20" width="112.94" height="6.34" fill="#b0d6f0"/><rect x="153.00" y="913.24" width="134.06" height="6.34" fill="#b0d6f0"/><rect x="286.76" y="913.24" width="112.94" height="6.34" fill="#74b7e4"/><rect x="153.00" y="919.28" width="91.82" height="6.34" fill="#b0d6f0"/><rect x="244.52" y="919.28" width="56.62" height="6.34" fill="#fbe1e3"/><rect x="300.84" y="919.28" width="98.86" height="6.34" fill="#74b7e4"/></g>
<g shape-rendering="crispEdges"><rect x="504.00" y="484.40" width="14.40" height="6.34" fill="#dcedf8"/><rect x="518.10" y="484.40" width="14.40" height="6.34" fill="#fbe1e3"/><rect x="539.25" y="484.40" width="7.35" height="6.34" fill="#b0d6f0"/><rect x="546.30" y="484.40" width="14.40" height="6.34" fill="#dcedf8"/><rect x="595.65" y="484.40" width="28.50" height="6.34" fill="#fbe1e3"/><rect x="637.95" y="484.40" width="14.40" height="6.34" fill="#fbe1e3"/><rect x="680.25" y="484.40" width="7.35" height="6.34" fill="#fbe1e3"/><rect x="447.60" y="490.44" width="21.45" height="6.34" fill="#dcedf8"/><rect x="468.75" y="490.44" width="35.55" height="6.34" fill="#74b7e4"/><rect x="504.00" y="490.44" width="21.45" height="6.34" fill="#b0d6f0"/><rect x="546.30" y="490.44" width="35.55" height="6.34" fill="#fbe1e3"/><rect x="581.55" y="490.44" width="14.40" height="6.34" fill="#dcedf8"/><rect x="595.65" y="490.44" width="21.45" height="6.34" fill="#f8c6c9"/><rect x="623.85" y="490.44" width="14.40" height="6.34" fill="#f8c6c9"/><rect x="637.95" y="490.44" width="49.65" height="6.34" fill="#f3a0a4"/><rect x="687.30" y="490.44" width="7.35" height="6.34" fill="#fbe1e3"/><rect x="461.70" y="496.48" width="21.45" height="6.34" fill="#fbe1e3"/><rect x="532.20" y="496.48" width="28.50" height="6.34" fill="#dcedf8"/><rect x="567.45" y="496.48" width="28.50" height="6.34" fill="#f8c6c9"/><rect x="659.10" y="496.48" width="28.50" height="6.34" fill="#fbe1e3"/><rect x="447.60" y="502.52" width="7.35" height="6.34" fill="#b0d6f0"/><rect x="454.65" y="502.52" width="7.35" height="6.34" fill="#3b98d6"/><rect x="461.70" y="502.52" width="7.35" height="6.34" fill="#dcedf8"/><rect x="468.75" y="502.52" width="63.75" height="6.34" fill="#b0d6f0"/><rect x="532.20" y="502.52" width="7.35" height="6.34" fill="#dcedf8"/><rect x="539.25" y="502.52" width="14.40" height="6.34" fill="#fbe1e3"/><rect x="602.70" y="502.52" width="28.50" height="6.34" fill="#f8c6c9"/><rect x="630.90" y="502.52" width="28.50" height="6.34" fill="#fbe1e3"/><rect x="659.10" y="502.52" width="35.55" height="6.34" fill="#f3a0a4"/><rect x="482.85" y="508.56" width="42.60" height="6.34" fill="#dcedf8"/><rect x="553.35" y="508.56" width="7.35" height="6.34" fill="#b0d6f0"/><rect x="588.60" y="508.56" width="14.40" height="6.34" fill="#dcedf8"/><rect x="602.70" y="508.56" width="21.45" height="6.34" fill="#fbe1e3"/><rect x="623.85" y="508.56" width="14.40" height="6.34" fill="#f8c6c9"/><rect x="637.95" y="508.56" width="7.35" height="6.34" fill="#f3a0a4"/><rect x="645.00" y="508.56" width="7.35" height="6.34" fill="#f8c6c9"/><rect x="652.05" y="508.56" width="14.40" height="6.34" fill="#f3a0a4"/><rect x="666.15" y="508.56" width="7.35" height="6.34" fill="#f8c6c9"/><rect x="673.20" y="508.56" width="7.35" height="6.34" fill="#f3a0a4"/><rect x="447.60" y="514.60" width="7.35" height="6.34" fill="#dcedf8"/><rect x="454.65" y="514.60" width="21.45" height="6.34" fill="#74b7e4"/><rect x="475.80" y="514.60" width="21.45" height="6.34" fill="#3b98d6"/><rect x="496.95" y="514.60" width="28.50" height="6.34" fill="#74b7e4"/><rect x="525.15" y="514.60" width="14.40" height="6.34" fill="#3b98d6"/><rect x="546.30" y="514.60" width="35.55" height="6.34" fill="#fbe1e3"/><rect x="602.70" y="514.60" width="21.45" height="6.34" fill="#fbe1e3"/><rect x="623.85" y="514.60" width="14.40" height="6.34" fill="#ee7d82"/><rect x="637.95" y="514.60" width="7.35" height="6.34" fill="#e9575d"/><rect x="645.00" y="514.60" width="7.35" height="6.34" fill="#f3a0a4"/><rect x="652.05" y="514.60" width="7.35" height="6.34" fill="#ee7d82"/><rect x="659.10" y="514.60" width="14.40" height="6.34" fill="#f3a0a4"/><rect x="687.30" y="514.60" width="7.35" height="6.34" fill="#b0d6f0"/><rect x="447.60" y="520.64" width="7.35" height="6.34" fill="#dcedf8"/><rect x="475.80" y="520.64" width="21.45" height="6.34" fill="#b0d6f0"/><rect x="511.05" y="520.64" width="14.40" height="6.34" fill="#fbe1e3"/><rect x="546.30" y="520.64" width="7.35" height="6.34" fill="#fbe1e3"/><rect x="588.60" y="520.64" width="14.40" height="6.34" fill="#ee7d82"/><rect x="637.95" y="520.64" width="28.50" height="6.34" fill="#dcedf8"/><rect x="447.60" y="526.68" width="14.40" height="6.34" fill="#dcedf8"/><rect x="461.70" y="526.68" width="7.35" height="6.34" fill="#b0d6f0"/><rect x="525.15" y="526.68" width="21.45" height="6.34" fill="#f8c6c9"/><rect x="553.35" y="526.68" width="7.35" height="6.34" fill="#b0d6f0"/><rect x="567.45" y="526.68" width="42.60" height="6.34" fill="#f8c6c9"/><rect x="666.15" y="526.68" width="14.40" height="6.34" fill="#fbe1e3"/><rect x="447.60" y="532.72" width="21.45" height="6.34" fill="#dcedf8"/><rect x="468.75" y="532.72" width="21.45" height="6.34" fill="#3b98d6"/><rect x="489.90" y="532.72" width="28.50" height="6.34" fill="#dcedf8"/><rect x="518.10" y="532.72" width="21.45" height="6.34" fill="#3b98d6"/><rect x="539.25" y="532.72" width="7.35" height="6.34" fill="#dcedf8"/><rect x="567.45" y="532.72" width="42.60" height="6.34" fill="#f3a0a4"/><rect x="609.75" y="532.72" width="28.50" height="6.34" fill="#ee7d82"/><rect x="637.95" y="532.72" width="14.40" height="6.34" fill="#f3a0a4"/><rect x="652.05" y="532.72" width="7.35" height="6.34" fill="#ee7d82"/><rect x="659.10" y="532.72" width="14.40" height="6.34" fill="#f8c6c9"/><rect x="447.60" y="538.76" width="21.45" height="6.34" fill="#dcedf8"/><rect x="468.75" y="538.76" width="14.40" height="6.34" fill="#74b7e4"/><rect x="482.85" y="538.76" width="21.45" height="6.34" fill="#b0d6f0"/><rect x="504.00" y="538.76" width="21.45" height="6.34" fill="#74b7e4"/><rect x="546.30" y="538.76" width="35.55" height="6.34" fill="#fbe1e3"/><rect x="602.70" y="538.76" width="21.45" height="6.34" fill="#fbe1e3"/><rect x="623.85" y="538.76" width="21.45" height="6.34" fill="#f3a0a4"/><rect x="652.05" y="538.76" width="28.50" height="6.34" fill="#f3a0a4"/><rect x="461.70" y="544.80" width="35.55" height="6.34" fill="#dcedf8"/><rect x="496.95" y="544.80" width="49.65" height="6.34" fill="#b0d6f0"/><rect x="602.70" y="544.80" width="21.45" height="6.34" fill="#f8c6c9"/><rect x="623.85" y="544.80" width="14.40" height="6.34" fill="#f3a0a4"/><rect x="637.95" y="544.80" width="14.40" height="6.34" fill="#f8c6c9"/><rect x="652.05" y="544.80" width="21.45" height="6.34" fill="#f3a0a4"/><rect x="673.20" y="544.80" width="7.35" height="6.34" fill="#f8c6c9"/><rect x="447.60" y="550.84" width="14.40" height="6.34" fill="#dcedf8"/><rect x="461.70" y="550.84" width="35.55" height="6.34" fill="#b0d6f0"/><rect x="496.95" y="550.84" width="14.40" height="6.34" fill="#3b98d6"/><rect x="511.05" y="550.84" width="35.55" height="6.34" fill="#dcedf8"/><rect x="546.30" y="550.84" width="21.45" height="6.34" fill="#fbe1e3"/><rect x="567.45" y="550.84" width="21.45" height="6.34" fill="#ee7d82"/><rect x="588.60" y="550.84" width="49.65" height="6.34" fill="#f3a0a4"/><rect x="637.95" y="550.84" width="7.35" height="6.34" fill="#fbe1e3"/><rect x="680.25" y="550.84" width="14.40" height="6.34" fill="#b0d6f0"/><rect x="447.60" y="556.88" width="7.35" height="6.34" fill="#fbe1e3"/><rect x="482.85" y="556.88" width="14.40" height="6.34" fill="#fbe1e3"/><rect x="609.75" y="556.88" width="14.40" height="6.34" fill="#fbe1e3"/><rect x="637.95" y="556.88" width="14.40" height="6.34" fill="#dcedf8"/><rect x="447.60" y="562.92" width="14.40" height="6.34" fill="#fbe1e3"/><rect x="511.05" y="562.92" width="21.45" height="6.34" fill="#dcedf8"/><rect x="532.20" y="562.92" width="28.50" height="6.34" fill="#74b7e4"/><rect x="560.40" y="562.92" width="21.45" height="6.34" fill="#fbe1e3"/><rect x="609.75" y="562.92" width="21.45" height="6.34" fill="#fbe1e3"/><rect x="630.90" y="562.92" width="28.50" height="6.34" fill="#f8c6c9"/><rect x="659.10" y="562.92" width="14.40" height="6.34" fill="#ee7d82"/><rect x="680.25" y="562.92" width="14.40" height="6.34" fill="#b0d6f0"/><rect x="475.80" y="568.96" width="84.90" height="6.34" fill="#dcedf8"/><rect x="560.40" y="568.96" width="21.45" height="6.34" fill="#fbe1e3"/><rect x="609.75" y="568.96" width="28.50" height="6.34" fill="#f8c6c9"/><rect x="637.95" y="568.96" width="28.50" height="6.34" fill="#f3a0a4"/><rect x="447.60" y="575.00" width="14.40" height="6.34" fill="#dcedf8"/><rect x="504.00" y="575.00" width="7.35" height="6.34" fill="#dcedf8"/><rect x="546.30" y="575.00" width="14.40" height="6.34" fill="#dcedf8"/><rect x="602.70" y="575.00" width="35.55" height="6.34" fill="#f8c6c9"/><rect x="637.95" y="575.00" width="42.60" height="6.34" fill="#fbe1e3"/><rect x="468.75" y="581.04" width="21.45" height="6.34" fill="#dcedf8"/><rect x="511.05" y="581.04" width="21.45" height="6.34" fill="#dcedf8"/><rect x="532.20" y="581.04" width="21.45" height="6.34" fill="#b0d6f0"/><rect x="560.40" y="581.04" width="28.50" height="6.34" fill="#fbe1e3"/><rect x="588.60" y="581.04" width="28.50" height="6.34" fill="#f8c6c9"/><rect x="616.80" y="581.04" width="21.45" height="6.34" fill="#fbe1e3"/><rect x="637.95" y="581.04" width="21.45" height="6.34" fill="#f8c6c9"/><rect x="468.75" y="587.08" width="21.45" height="6.34" fill="#dcedf8"/><rect x="489.90" y="587.08" width="7.35" height="6.34" fill="#e9575d"/><rect x="496.95" y="587.08" width="28.50" height="6.34" fill="#f8c6c9"/><rect x="525.15" y="587.08" width="21.45" height="6.34" fill="#b0d6f0"/><rect x="546.30" y="587.08" width="42.60" height="6.34" fill="#fbe1e3"/><rect x="588.60" y="587.08" width="28.50" height="6.34" fill="#f8c6c9"/><rect x="630.90" y="587.08" width="63.75" height="6.34" fill="#b0d6f0"/><rect x="468.75" y="593.12" width="70.80" height="6.34" fill="#dcedf8"/><rect x="567.45" y="593.12" width="56.70" height="6.34" fill="#fbe1e3"/><rect x="652.05" y="593.12" width="21.45" height="6.34" fill="#fbe1e3"/><rect x="673.20" y="593.12" width="21.45" height="6.34" fill="#dcedf8"/><rect x="461.70" y="599.16" width="42.60" height="6.34" fill="#b0d6f0"/><rect x="504.00" y="599.16" width="35.55" height="6.34" fill="#dcedf8"/><rect x="602.70" y="599.16" width="49.65" height="6.34" fill="#fbe1e3"/><rect x="652.05" y="599.16" width="14.40" height="6.34" fill="#f8c6c9"/><rect x="447.60" y="605.20" width="21.45" height="6.34" fill="#dcedf8"/><rect x="468.75" y="605.20" width="14.40" height="6.34" fill="#74b7e4"/><rect x="482.85" y="605.20" width="56.70" height="6.34" fill="#b0d6f0"/><rect x="546.30" y="605.20" width="21.45" height="6.34" fill="#b0d6f0"/><rect x="567.45" y="605.20" width="21.45" height="6.34" fill="#f3a0a4"/><rect x="595.65" y="605.20" width="21.45" height="6.34" fill="#f3a0a4"/><rect x="616.80" y="605.20" width="28.50" height="6.34" fill="#ee7d82"/><rect x="645.00" y="605.20" width="7.35" height="6.34" fill="#fbe1e3"/><rect x="652.05" y="605.20" width="7.35" height="6.34" fill="#f3a0a4"/><rect x="659.10" y="605.20" width="14.40" height="6.34" fill="#e9575d"/><rect x="673.20" y="605.20" width="21.45" height="6.34" fill="#fbe1e3"/><rect x="475.80" y="611.24" width="21.45" height="6.34" fill="#dcedf8"/><rect x="518.10" y="611.24" width="21.45" height="6.34" fill="#fbe1e3"/><rect x="623.85" y="611.24" width="7.35" height="6.34" fill="#dcedf8"/><rect x="447.60" y="617.28" width="21.45" height="6.34" fill="#74b7e4"/><rect x="504.00" y="617.28" width="35.55" height="6.34" fill="#dcedf8"/><rect x="539.25" y="617.28" width="28.50" height="6.34" fill="#f3a0a4"/><rect x="567.45" y="617.28" width="7.35" height="6.34" fill="#f8c6c9"/><rect x="574.50" y="617.28" width="21.45" height="6.34" fill="#e9575d"/><rect x="595.65" y="617.28" width="14.40" height="6.34" fill="#f8c6c9"/><rect x="609.75" y="617.28" width="7.35" height="6.34" fill="#dcedf8"/><rect x="659.10" y="617.28" width="35.55" height="6.34" fill="#74b7e4"/><rect x="454.65" y="623.32" width="28.50" height="6.34" fill="#f8c6c9"/><rect x="482.85" y="623.32" width="14.40" height="6.34" fill="#b0d6f0"/><rect x="511.05" y="623.32" width="21.45" height="6.34" fill="#fbe1e3"/><rect x="553.35" y="623.32" width="21.45" height="6.34" fill="#dcedf8"/><rect x="581.55" y="623.32" width="7.35" height="6.34" fill="#b0d6f0"/><rect x="645.00" y="623.32" width="7.35" height="6.34" fill="#fbe1e3"/><rect x="447.60" y="629.36" width="7.35" height="6.34" fill="#b0d6f0"/><rect x="539.25" y="629.36" width="14.40" height="6.34" fill="#fbe1e3"/><rect x="581.55" y="629.36" width="42.60" height="6.34" fill="#fbe1e3"/><rect x="623.85" y="629.36" width="21.45" height="6.34" fill="#dcedf8"/><rect x="645.00" y="629.36" width="49.65" height="6.34" fill="#fbe1e3"/><rect x="447.60" y="635.40" width="28.50" height="6.34" fill="#fbe1e3"/><rect x="482.85" y="635.40" width="70.80" height="6.34" fill="#dcedf8"/><rect x="560.40" y="635.40" width="35.55" height="6.34" fill="#dcedf8"/><rect x="652.05" y="635.40" width="42.60" height="6.34" fill="#f8c6c9"/><rect x="454.65" y="641.44" width="21.45" height="6.34" fill="#fbe1e3"/><rect x="482.85" y="641.44" width="28.50" height="6.34" fill="#b0d6f0"/><rect x="511.05" y="641.44" width="28.50" height="6.34" fill="#dcedf8"/><rect x="539.25" y="641.44" width="21.45" height="6.34" fill="#74b7e4"/><rect x="560.40" y="641.44" width="14.40" height="6.34" fill="#dcedf8"/><rect x="581.55" y="641.44" width="14.40" height="6.34" fill="#fbe1e3"/><rect x="595.65" y="641.44" width="14.40" height="6.34" fill="#f8c6c9"/><rect x="609.75" y="641.44" width="14.40" height="6.34" fill="#e9575d"/><rect x="623.85" y="641.44" width="14.40" height="6.34" fill="#fbe1e3"/><rect x="637.95" y="641.44" width="14.40" height="6.34" fill="#f3a0a4"/><rect x="652.05" y="641.44" width="7.35" height="6.34" fill="#fbe1e3"/><rect x="687.30" y="641.44" width="7.35" height="6.34" fill="#b0d6f0"/><rect x="482.85" y="647.48" width="56.70" height="6.34" fill="#b0d6f0"/><rect x="539.25" y="647.48" width="21.45" height="6.34" fill="#dcedf8"/><rect x="581.55" y="647.48" width="14.40" height="6.34" fill="#fbe1e3"/><rect x="595.65" y="647.48" width="56.70" height="6.34" fill="#f8c6c9"/><rect x="666.15" y="647.48" width="28.50" height="6.34" fill="#f8c6c9"/><rect x="447.60" y="653.52" width="14.40" height="6.34" fill="#fbe1e3"/><rect x="504.00" y="653.52" width="42.60" height="6.34" fill="#fbe1e3"/><rect x="609.75" y="653.52" width="28.50" height="6.34" fill="#dcedf8"/><rect x="637.95" y="653.52" width="7.35" height="6.34" fill="#b0d6f0"/><rect x="652.05" y="653.52" width="21.45" height="6.34" fill="#dcedf8"/><rect x="461.70" y="659.56" width="14.40" height="6.34" fill="#fbe1e3"/><rect x="475.80" y="659.56" width="35.55" height="6.34" fill="#f3a0a4"/><rect x="532.20" y="659.56" width="21.45" height="6.34" fill="#3b98d6"/><rect x="553.35" y="659.56" width="28.50" height="6.34" fill="#b0d6f0"/><rect x="581.55" y="659.56" width="21.45" height="6.34" fill="#dcedf8"/><rect x="602.70" y="659.56" width="21.45" height="6.34" fill="#74b7e4"/><rect x="623.85" y="659.56" width="28.50" height="6.34" fill="#dcedf8"/><rect x="652.05" y="659.56" width="14.40" height="6.34" fill="#f8c6c9"/><rect x="687.30" y="659.56" width="7.35" height="6.34" fill="#f8c6c9"/><rect x="553.35" y="665.60" width="28.50" height="6.34" fill="#dcedf8"/><rect x="581.55" y="665.60" width="14.40" height="6.34" fill="#b0d6f0"/><rect x="609.75" y="665.60" width="35.55" height="6.34" fill="#dcedf8"/><rect x="666.15" y="665.60" width="28.50" height="6.34" fill="#f8c6c9"/><rect x="447.60" y="671.64" width="7.35" height="6.34" fill="#fbe1e3"/><rect x="489.90" y="671.64" width="49.65" height="6.34" fill="#dcedf8"/><rect x="609.75" y="671.64" width="14.40" height="6.34" fill="#fbe1e3"/><rect x="637.95" y="671.64" width="56.70" height="6.34" fill="#fbe1e3"/><rect x="447.60" y="677.68" width="28.50" height="6.34" fill="#dcedf8"/><rect x="475.80" y="677.68" width="28.50" height="6.34" fill="#1a7fc8"/><rect x="504.00" y="677.68" width="35.55" height="6.34" fill="#b0d6f0"/><rect x="539.25" y="677.68" width="7.35" height="6.34" fill="#fbe1e3"/><rect x="546.30" y="677.68" width="14.40" height="6.34" fill="#f3a0a4"/><rect x="574.50" y="677.68" width="14.40" height="6.34" fill="#fbe1e3"/><rect x="588.60" y="677.68" width="21.45" height="6.34" fill="#f3a0a4"/><rect x="609.75" y="677.68" width="14.40" height="6.34" fill="#fbe1e3"/><rect x="623.85" y="677.68" width="21.45" height="6.34" fill="#ee7d82"/><rect x="645.00" y="677.68" width="21.45" height="6.34" fill="#f8c6c9"/><rect x="666.15" y="677.68" width="14.40" height="6.34" fill="#f3a0a4"/><rect x="680.25" y="677.68" width="14.40" height="6.34" fill="#fbe1e3"/><rect x="447.60" y="683.72" width="7.35" height="6.34" fill="#f3a0a4"/><rect x="475.80" y="683.72" width="21.45" height="6.34" fill="#f8c6c9"/><rect x="504.00" y="683.72" width="14.40" height="6.34" fill="#74b7e4"/><rect x="518.10" y="683.72" width="42.60" height="6.34" fill="#1a7fc8"/><rect x="560.40" y="683.72" width="21.45" height="6.34" fill="#f8c6c9"/><rect x="581.55" y="683.72" width="28.50" height="6.34" fill="#e9575d"/><rect x="609.75" y="683.72" width="14.40" height="6.34" fill="#f8c6c9"/><rect x="630.90" y="683.72" width="7.35" height="6.34" fill="#f8c6c9"/><rect x="659.10" y="683.72" width="21.45" height="6.34" fill="#dcedf8"/><rect x="687.30" y="683.72" width="7.35" height="6.34" fill="#f8c6c9"/><rect x="461.70" y="689.76" width="7.35" height="6.34" fill="#74b7e4"/><rect x="468.75" y="689.76" width="21.45" height="6.34" fill="#3b98d6"/><rect x="489.90" y="689.76" width="7.35" height="6.34" fill="#b0d6f0"/><rect x="496.95" y="689.76" width="21.45" height="6.34" fill="#dcedf8"/><rect x="518.10" y="689.76" width="14.40" height="6.34" fill="#b0d6f0"/><rect x="532.20" y="689.76" width="28.50" height="6.34" fill="#dcedf8"/><rect x="560.40" y="689.76" width="21.45" height="6.34" fill="#fbe1e3"/><rect x="581.55" y="689.76" width="35.55" height="6.34" fill="#ee7d82"/><rect x="616.80" y="689.76" width="7.35" height="6.34" fill="#e9575d"/><rect x="623.85" y="689.76" width="21.45" height="6.34" fill="#f8c6c9"/><rect x="680.25" y="689.76" width="14.40" height="6.34" fill="#3b98d6"/><rect x="511.05" y="695.80" width="21.45" height="6.34" fill="#dcedf8"/><rect x="532.20" y="695.80" width="7.35" height="6.34" fill="#74b7e4"/><rect x="539.25" y="695.80" width="21.45" height="6.34" fill="#dcedf8"/><rect x="602.70" y="695.80" width="56.70" height="6.34" fill="#fbe1e3"/><rect x="659.10" y="695.80" width="14.40" height="6.34" fill="#f8c6c9"/><rect x="673.20" y="695.80" width="21.45" height="6.34" fill="#fbe1e3"/><rect x="454.65" y="701.84" width="14.40" height="6.34" fill="#fbe1e3"/><rect x="525.15" y="701.84" width="21.45" height="6.34" fill="#dcedf8"/><rect x="546.30" y="701.84" width="21.45" height="6.34" fill="#74b7e4"/><rect x="616.80" y="701.84" width="14.40" height="6.34" fill="#f3a0a4"/><rect x="637.95" y="701.84" width="21.45" height="6.34" fill="#dcedf8"/><rect x="447.60" y="707.88" width="21.45" height="6.34" fill="#f8c6c9"/><rect x="482.85" y="707.88" width="7.35" height="6.34" fill="#fbe1e3"/><rect x="489.90" y="707.88" width="21.45" height="6.34" fill="#ee7d82"/><rect x="511.05" y="707.88" width="14.40" height="6.34" fill="#f8c6c9"/><rect x="546.30" y="707.88" width="28.50" height="6.34" fill="#74b7e4"/><rect x="574.50" y="707.88" width="14.40" height="6.34" fill="#dcedf8"/><rect x="588.60" y="707.88" width="28.50" height="6.34" fill="#74b7e4"/><rect x="637.95" y="707.88" width="21.45" height="6.34" fill="#dcedf8"/><rect x="659.10" y="707.88" width="21.45" height="6.34" fill="#fbe1e3"/><rect x="687.30" y="707.88" width="7.35" height="6.34" fill="#b0d6f0"/><rect x="468.75" y="713.92" width="21.45" height="6.34" fill="#fbe1e3"/><rect x="546.30" y="713.92" width="56.70" height="6.34" fill="#dcedf8"/><rect x="447.60" y="719.96" width="14.40" height="6.34" fill="#f3a0a4"/><rect x="461.70" y="719.96" width="21.45" height="6.34" fill="#ee7d82"/><rect x="482.85" y="719.96" width="35.55" height="6.34" fill="#f8c6c9"/><rect x="539.25" y="719.96" width="7.35" height="6.34" fill="#dcedf8"/><rect x="546.30" y="719.96" width="21.45" height="6.34" fill="#b0d6f0"/><rect x="567.45" y="719.96" width="21.45" height="6.34" fill="#1a7fc8"/><rect x="588.60" y="719.96" width="21.45" height="6.34" fill="#74b7e4"/><rect x="609.75" y="719.96" width="28.50" height="6.34" fill="#dcedf8"/><rect x="637.95" y="719.96" width="42.60" height="6.34" fill="#f8c6c9"/><rect x="680.25" y="719.96" width="14.40" height="6.34" fill="#f3a0a4"/><rect x="447.60" y="726.00" width="7.35" height="6.34" fill="#f8c6c9"/><rect x="454.65" y="726.00" width="63.75" height="6.34" fill="#f3a0a4"/><rect x="518.10" y="726.00" width="21.45" height="6.34" fill="#fbe1e3"/><rect x="546.30" y="726.00" width="21.45" height="6.34" fill="#b0d6f0"/><rect x="567.45" y="726.00" width="42.60" height="6.34" fill="#74b7e4"/><rect x="630.90" y="726.00" width="7.35" height="6.34" fill="#dcedf8"/><rect x="637.95" y="726.00" width="14.40" height="6.34" fill="#74b7e4"/><rect x="680.25" y="726.00" width="14.40" height="6.34" fill="#fbe1e3"/><rect x="461.70" y="732.04" width="21.45" height="6.34" fill="#f8c6c9"/><rect x="518.10" y="732.04" width="14.40" height="6.34" fill="#74b7e4"/><rect x="532.20" y="732.04" width="77.85" height="6.34" fill="#dcedf8"/><rect x="616.80" y="732.04" width="7.35" height="6.34" fill="#fbe1e3"/><rect x="623.85" y="732.04" width="7.35" height="6.34" fill="#f3a0a4"/><rect x="630.90" y="732.04" width="14.40" height="6.34" fill="#f8c6c9"/><rect x="645.00" y="732.04" width="7.35" height="6.34" fill="#dcedf8"/><rect x="652.05" y="732.04" width="28.50" height="6.34" fill="#f8c6c9"/><rect x="461.70" y="738.08" width="14.40" height="6.34" fill="#fbe1e3"/><rect x="680.25" y="738.08" width="14.40" height="6.34" fill="#dcedf8"/><rect x="454.65" y="744.12" width="35.55" height="6.34" fill="#fbe1e3"/><rect x="489.90" y="744.12" width="21.45" height="6.34" fill="#ee7d82"/><rect x="511.05" y="744.12" width="28.50" height="6.34" fill="#f8c6c9"/><rect x="546.30" y="744.12" width="14.40" height="6.34" fill="#74b7e4"/><rect x="574.50" y="744.12" width="63.75" height="6.34" fill="#dcedf8"/><rect x="637.95" y="744.12" width="7.35" height="6.34" fill="#74b7e4"/><rect x="645.00" y="744.12" width="35.55" height="6.34" fill="#dcedf8"/><rect x="525.15" y="750.16" width="21.45" height="6.34" fill="#f8c6c9"/><rect x="609.75" y="750.16" width="7.35" height="6.34" fill="#dcedf8"/><rect x="454.65" y="756.20" width="14.40" height="6.34" fill="#fbe1e3"/><rect x="504.00" y="756.20" width="14.40" height="6.34" fill="#fbe1e3"/><rect x="546.30" y="756.20" width="7.35" height="6.34" fill="#dcedf8"/><rect x="560.40" y="756.20" width="7.35" height="6.34" fill="#dcedf8"/><rect x="595.65" y="756.20" width="14.40" height="6.34" fill="#fbe1e3"/><rect x="616.80" y="756.20" width="7.35" height="6.34" fill="#dcedf8"/><rect x="630.90" y="756.20" width="7.35" height="6.34" fill="#dcedf8"/><rect x="447.60" y="762.24" width="35.55" height="6.34" fill="#ee7d82"/><rect x="482.85" y="762.24" width="56.70" height="6.34" fill="#f3a0a4"/><rect x="539.25" y="762.24" width="7.35" height="6.34" fill="#fbe1e3"/><rect x="546.30" y="762.24" width="14.40" height="6.34" fill="#b0d6f0"/><rect x="574.50" y="762.24" width="14.40" height="6.34" fill="#f8c6c9"/><rect x="588.60" y="762.24" width="21.45" height="6.34" fill="#e9575d"/><rect x="609.75" y="762.24" width="21.45" height="6.34" fill="#fbe1e3"/><rect x="630.90" y="762.24" width="7.35" height="6.34" fill="#f8c6c9"/><rect x="637.95" y="762.24" width="21.45" height="6.34" fill="#f3a0a4"/><rect x="666.15" y="762.24" width="14.40" height="6.34" fill="#dcedf8"/><rect x="687.30" y="762.24" width="7.35" height="6.34" fill="#fbe1e3"/><rect x="447.60" y="768.28" width="28.50" height="6.34" fill="#fbe1e3"/><rect x="475.80" y="768.28" width="7.35" height="6.34" fill="#f3a0a4"/><rect x="504.00" y="768.28" width="7.35" height="6.34" fill="#fbe1e3"/><rect x="511.05" y="768.28" width="28.50" height="6.34" fill="#f8c6c9"/><rect x="546.30" y="768.28" width="14.40" height="6.34" fill="#dcedf8"/><rect x="574.50" y="768.28" width="14.40" height="6.34" fill="#b0d6f0"/><rect x="602.70" y="768.28" width="21.45" height="6.34" fill="#b0d6f0"/><rect x="630.90" y="768.28" width="28.50" height="6.34" fill="#dcedf8"/><rect x="666.15" y="768.28" width="7.35" height="6.34" fill="#b0d6f0"/><rect x="447.60" y="774.32" width="7.35" height="6.34" fill="#fbe1e3"/><rect x="454.65" y="774.32" width="7.35" height="6.34" fill="#dcedf8"/><rect x="461.70" y="774.32" width="7.35" height="6.34" fill="#f3a0a4"/><rect x="468.75" y="774.32" width="42.60" height="6.34" fill="#b0d6f0"/><rect x="539.25" y="774.32" width="14.40" height="6.34" fill="#fbe1e3"/><rect x="581.55" y="774.32" width="7.35" height="6.34" fill="#b0d6f0"/><rect x="609.75" y="774.32" width="14.40" height="6.34" fill="#ee7d82"/><rect x="623.85" y="774.32" width="21.45" height="6.34" fill="#f8c6c9"/><rect x="659.10" y="774.32" width="21.45" height="6.34" fill="#f8c6c9"/><rect x="680.25" y="774.32" width="7.35" height="6.34" fill="#dcedf8"/><rect x="687.30" y="774.32" width="7.35" height="6.34" fill="#74b7e4"/><rect x="532.20" y="780.36" width="14.40" height="6.34" fill="#b0d6f0"/><rect x="546.30" y="780.36" width="14.40" height="6.34" fill="#dcedf8"/><rect x="574.50" y="780.36" width="7.35" height="6.34" fill="#fbe1e3"/><rect x="581.55" y="780.36" width="14.40" height="6.34" fill="#dcedf8"/><rect x="616.80" y="780.36" width="7.35" height="6.34" fill="#fbe1e3"/><rect x="637.95" y="780.36" width="56.70" height="6.34" fill="#fbe1e3"/><rect x="468.75" y="786.40" width="21.45" height="6.34" fill="#fbe1e3"/><rect x="532.20" y="786.40" width="49.65" height="6.34" fill="#dcedf8"/><rect x="616.80" y="786.40" width="7.35" height="6.34" fill="#fbe1e3"/><rect x="630.90" y="786.40" width="7.35" height="6.34" fill="#fbe1e3"/><rect x="454.65" y="792.44" width="7.35" height="6.34" fill="#fbe1e3"/><rect x="504.00" y="792.44" width="35.55" height="6.34" fill="#f8c6c9"/><rect x="560.40" y="792.44" width="42.60" height="6.34" fill="#74b7e4"/><rect x="645.00" y="792.44" width="28.50" height="6.34" fill="#f8c6c9"/><rect x="447.60" y="798.48" width="7.35" height="6.34" fill="#b0d6f0"/><rect x="461.70" y="798.48" width="35.55" height="6.34" fill="#fbe1e3"/><rect x="496.95" y="798.48" width="28.50" height="6.34" fill="#f3a0a4"/><rect x="525.15" y="798.48" width="7.35" height="6.34" fill="#fbe1e3"/><rect x="553.35" y="798.48" width="7.35" height="6.34" fill="#dcedf8"/><rect x="595.65" y="798.48" width="7.35" height="6.34" fill="#dcedf8"/><rect x="616.80" y="798.48" width="28.50" height="6.34" fill="#dcedf8"/><rect x="482.85" y="804.52" width="42.60" height="6.34" fill="#f8c6c9"/><rect x="525.15" y="804.52" width="14.40" height="6.34" fill="#ee7d82"/><rect x="546.30" y="804.52" width="7.35" height="6.34" fill="#dcedf8"/><rect x="595.65" y="804.52" width="14.40" height="6.34" fill="#f8c6c9"/><rect x="630.90" y="804.52" width="21.45" height="6.34" fill="#74b7e4"/><rect x="666.15" y="804.52" width="28.50" height="6.34" fill="#b0d6f0"/><rect x="447.60" y="810.56" width="21.45" height="6.34" fill="#f8c6c9"/><rect x="468.75" y="810.56" width="7.35" height="6.34" fill="#dcedf8"/><rect x="475.80" y="810.56" width="21.45" height="6.34" fill="#ee7d82"/><rect x="496.95" y="810.56" width="14.40" height="6.34" fill="#e9575d"/><rect x="511.05" y="810.56" width="21.45" height="6.34" fill="#f3a0a4"/><rect x="539.25" y="810.56" width="70.80" height="6.34" fill="#dcedf8"/><rect x="609.75" y="810.56" width="14.40" height="6.34" fill="#74b7e4"/><rect x="645.00" y="810.56" width="7.35" height="6.34" fill="#74b7e4"/><rect x="659.10" y="810.56" width="7.35" height="6.34" fill="#74b7e4"/><rect x="673.20" y="810.56" width="7.35" height="6.34" fill="#74b7e4"/><rect x="680.25" y="810.56" width="14.40" height="6.34" fill="#dcedf8"/><rect x="546.30" y="816.60" width="21.45" height="6.34" fill="#fbe1e3"/><rect x="588.60" y="816.60" width="21.45" height="6.34" fill="#fbe1e3"/><rect x="645.00" y="816.60" width="14.40" height="6.34" fill="#dcedf8"/><rect x="680.25" y="816.60" width="14.40" height="6.34" fill="#dcedf8"/><rect x="482.85" y="822.64" width="7.35" height="6.34" fill="#fbe1e3"/><rect x="496.95" y="822.64" width="7.35" height="6.34" fill="#fbe1e3"/><rect x="553.35" y="822.64" width="21.45" height="6.34" fill="#dcedf8"/><rect x="447.60" y="828.68" width="28.50" height="6.34" fill="#fbe1e3"/><rect x="496.95" y="828.68" width="14.40" height="6.34" fill="#fbe1e3"/><rect x="511.05" y="828.68" width="21.45" height="6.34" fill="#f3a0a4"/><rect x="595.65" y="828.68" width="49.65" height="6.34" fill="#b0d6f0"/><rect x="645.00" y="828.68" width="35.55" height="6.34" fill="#dcedf8"/><rect x="447.60" y="834.72" width="14.40" height="6.34" fill="#fbe1e3"/><rect x="482.85" y="834.72" width="21.45" height="6.34" fill="#fbe1e3"/><rect x="511.05" y="834.72" width="21.45" height="6.34" fill="#f8c6c9"/><rect x="546.30" y="834.72" width="14.40" height="6.34" fill="#b0d6f0"/><rect x="623.85" y="834.72" width="28.50" height="6.34" fill="#b0d6f0"/><rect x="680.25" y="834.72" width="7.35" height="6.34" fill="#fbe1e3"/><rect x="447.60" y="840.76" width="21.45" height="6.34" fill="#fbe1e3"/><rect x="468.75" y="840.76" width="42.60" height="6.34" fill="#ee7d82"/><rect x="511.05" y="840.76" width="21.45" height="6.34" fill="#fbe1e3"/><rect x="532.20" y="840.76" width="35.55" height="6.34" fill="#74b7e4"/><rect x="567.45" y="840.76" width="21.45" height="6.34" fill="#dcedf8"/><rect x="609.75" y="840.76" width="56.70" height="6.34" fill="#74b7e4"/><rect x="666.15" y="840.76" width="21.45" height="6.34" fill="#b0d6f0"/><rect x="687.30" y="840.76" width="7.35" height="6.34" fill="#dcedf8"/><rect x="447.60" y="846.80" width="7.35" height="6.34" fill="#fbe1e3"/><rect x="454.65" y="846.80" width="28.50" height="6.34" fill="#f8c6c9"/><rect x="482.85" y="846.80" width="28.50" height="6.34" fill="#e4262c"/><rect x="511.05" y="846.80" width="21.45" height="6.34" fill="#e9575d"/><rect x="532.20" y="846.80" width="14.40" height="6.34" fill="#ee7d82"/><rect x="546.30" y="846.80" width="21.45" height="6.34" fill="#f3a0a4"/><rect x="567.45" y="846.80" width="14.40" height="6.34" fill="#3b98d6"/><rect x="581.55" y="846.80" width="21.45" height="6.34" fill="#74b7e4"/><rect x="602.70" y="846.80" width="21.45" height="6.34" fill="#1a7fc8"/><rect x="623.85" y="846.80" width="14.40" height="6.34" fill="#3b98d6"/><rect x="637.95" y="846.80" width="21.45" height="6.34" fill="#0b6fc0"/><rect x="659.10" y="846.80" width="7.35" height="6.34" fill="#b0d6f0"/><rect x="666.15" y="846.80" width="21.45" height="6.34" fill="#fbe1e3"/><rect x="454.65" y="852.84" width="21.45" height="6.34" fill="#f8c6c9"/><rect x="475.80" y="852.84" width="21.45" height="6.34" fill="#ee7d82"/><rect x="496.95" y="852.84" width="42.60" height="6.34" fill="#f3a0a4"/><rect x="539.25" y="852.84" width="14.40" height="6.34" fill="#e9575d"/><rect x="553.35" y="852.84" width="7.35" height="6.34" fill="#fbe1e3"/><rect x="567.45" y="852.84" width="35.55" height="6.34" fill="#b0d6f0"/><rect x="602.70" y="852.84" width="21.45" height="6.34" fill="#74b7e4"/><rect x="623.85" y="852.84" width="21.45" height="6.34" fill="#dcedf8"/><rect x="645.00" y="852.84" width="7.35" height="6.34" fill="#74b7e4"/><rect x="468.75" y="858.88" width="21.45" height="6.34" fill="#fbe1e3"/><rect x="461.70" y="864.92" width="14.40" height="6.34" fill="#fbe1e3"/><rect x="525.15" y="864.92" width="28.50" height="6.34" fill="#b0d6f0"/><rect x="567.45" y="864.92" width="84.90" height="6.34" fill="#fbe1e3"/><rect x="447.60" y="870.96" width="35.55" height="6.34" fill="#dcedf8"/><rect x="518.10" y="870.96" width="14.40" height="6.34" fill="#f8c6c9"/><rect x="532.20" y="870.96" width="42.60" height="6.34" fill="#fbe1e3"/><rect x="588.60" y="870.96" width="21.45" height="6.34" fill="#f8c6c9"/><rect x="609.75" y="870.96" width="35.55" height="6.34" fill="#fbe1e3"/><rect x="666.15" y="870.96" width="28.50" height="6.34" fill="#b0d6f0"/><rect x="447.60" y="877.00" width="63.75" height="6.34" fill="#f8c6c9"/><rect x="511.05" y="877.00" width="21.45" height="6.34" fill="#ee7d82"/><rect x="532.20" y="877.00" width="7.35" height="6.34" fill="#f8c6c9"/><rect x="581.55" y="877.00" width="14.40" height="6.34" fill="#fbe1e3"/><rect x="595.65" y="877.00" width="21.45" height="6.34" fill="#dcedf8"/><rect x="616.80" y="877.00" width="28.50" height="6.34" fill="#74b7e4"/><rect x="645.00" y="877.00" width="7.35" height="6.34" fill="#3b98d6"/><rect x="652.05" y="877.00" width="7.35" height="6.34" fill="#dcedf8"/><rect x="659.10" y="877.00" width="28.50" height="6.34" fill="#74b7e4"/><rect x="687.30" y="877.00" width="7.35" height="6.34" fill="#b0d6f0"/><rect x="461.70" y="883.04" width="21.45" height="6.34" fill="#fbe1e3"/><rect x="496.95" y="883.04" width="21.45" height="6.34" fill="#f8c6c9"/><rect x="518.10" y="883.04" width="28.50" height="6.34" fill="#f3a0a4"/><rect x="546.30" y="883.04" width="21.45" height="6.34" fill="#fbe1e3"/><rect x="567.45" y="883.04" width="14.40" height="6.34" fill="#dcedf8"/><rect x="595.65" y="883.04" width="28.50" height="6.34" fill="#dcedf8"/><rect x="623.85" y="883.04" width="21.45" height="6.34" fill="#74b7e4"/><rect x="652.05" y="883.04" width="28.50" height="6.34" fill="#74b7e4"/><rect x="680.25" y="883.04" width="14.40" height="6.34" fill="#dcedf8"/><rect x="447.60" y="889.08" width="14.40" height="6.34" fill="#fbe1e3"/><rect x="468.75" y="889.08" width="14.40" height="6.34" fill="#dcedf8"/><rect x="496.95" y="889.08" width="35.55" height="6.34" fill="#fbe1e3"/><rect x="532.20" y="889.08" width="7.35" height="6.34" fill="#dcedf8"/><rect x="560.40" y="889.08" width="21.45" height="6.34" fill="#dcedf8"/><rect x="581.55" y="889.08" width="14.40" height="6.34" fill="#fbe1e3"/><rect x="609.75" y="889.08" width="14.40" height="6.34" fill="#fbe1e3"/><rect x="652.05" y="889.08" width="28.50" height="6.34" fill="#b0d6f0"/><rect x="687.30" y="889.08" width="7.35" height="6.34" fill="#b0d6f0"/><rect x="532.20" y="895.12" width="14.40" height="6.34" fill="#fbe1e3"/><rect x="560.40" y="895.12" width="7.35" height="6.34" fill="#fbe1e3"/><rect x="447.60" y="901.16" width="21.45" height="6.34" fill="#e9575d"/><rect x="468.75" y="901.16" width="35.55" height="6.34" fill="#e4262c"/><rect x="504.00" y="901.16" width="21.45" height="6.34" fill="#e9575d"/><rect x="525.15" y="901.16" width="14.40" height="6.34" fill="#e4262c"/><rect x="539.25" y="901.16" width="14.40" height="6.34" fill="#74b7e4"/><rect x="567.45" y="901.16" width="14.40" height="6.34" fill="#0b6fc0"/><rect x="581.55" y="901.16" width="21.45" height="6.34" fill="#74b7e4"/><rect x="602.70" y="901.16" width="14.40" height="6.34" fill="#0b6fc0"/><rect x="616.80" y="901.16" width="21.45" height="6.34" fill="#3b98d6"/><rect x="637.95" y="901.16" width="21.45" height="6.34" fill="#74b7e4"/><rect x="659.10" y="901.16" width="14.40" height="6.34" fill="#1750a8"/><rect x="673.20" y="901.16" width="21.45" height="6.34" fill="#b0d6f0"/><rect x="454.65" y="907.20" width="28.50" height="6.34" fill="#fbe1e3"/><rect x="518.10" y="907.20" width="21.45" height="6.34" fill="#fbe1e3"/><rect x="588.60" y="907.20" width="49.65" height="6.34" fill="#dcedf8"/><rect x="680.25" y="907.20" width="14.40" height="6.34" fill="#dcedf8"/><rect x="482.85" y="913.24" width="14.40" height="6.34" fill="#dcedf8"/><rect x="496.95" y="913.24" width="7.35" height="6.34" fill="#b0d6f0"/><rect x="504.00" y="913.24" width="21.45" height="6.34" fill="#dcedf8"/><rect x="525.15" y="913.24" width="21.45" height="6.34" fill="#fbe1e3"/><rect x="546.30" y="913.24" width="14.40" height="6.34" fill="#dcedf8"/><rect x="595.65" y="913.24" width="7.35" height="6.34" fill="#fbe1e3"/><rect x="645.00" y="913.24" width="21.45" height="6.34" fill="#fbe1e3"/><rect x="666.15" y="913.24" width="28.50" height="6.34" fill="#dcedf8"/><rect x="546.30" y="919.28" width="42.60" height="6.34" fill="#fbe1e3"/><rect x="659.10" y="919.28" width="35.55" height="6.34" fill="#dcedf8"/></g>
<g shape-rendering="crispEdges"><rect x="761.42" y="484.00" width="14.34" height="6.36" fill="#dcedf8"/><rect x="775.46" y="484.00" width="35.40" height="6.36" fill="#b0d6f0"/><rect x="810.56" y="484.00" width="21.36" height="6.36" fill="#74b7e4"/><rect x="831.62" y="484.00" width="14.34" height="6.36" fill="#b0d6f0"/><rect x="845.66" y="484.00" width="21.36" height="6.36" fill="#dcedf8"/><rect x="880.76" y="484.00" width="14.34" height="6.36" fill="#74b7e4"/><rect x="894.80" y="484.00" width="28.38" height="6.36" fill="#b0d6f0"/><rect x="922.88" y="484.00" width="35.40" height="6.36" fill="#74b7e4"/><rect x="957.98" y="484.00" width="7.32" height="6.36" fill="#b0d6f0"/><rect x="965.00" y="484.00" width="35.40" height="6.36" fill="#74b7e4"/><rect x="768.44" y="490.06" width="70.50" height="6.36" fill="#b0d6f0"/><rect x="838.64" y="490.06" width="14.34" height="6.36" fill="#dcedf8"/><rect x="852.68" y="490.06" width="14.34" height="6.36" fill="#74b7e4"/><rect x="866.72" y="490.06" width="21.36" height="6.36" fill="#dcedf8"/><rect x="887.78" y="490.06" width="21.36" height="6.36" fill="#b0d6f0"/><rect x="908.84" y="490.06" width="91.56" height="6.36" fill="#74b7e4"/><rect x="761.42" y="496.12" width="21.36" height="6.36" fill="#dcedf8"/><rect x="782.48" y="496.12" width="49.44" height="6.36" fill="#b0d6f0"/><rect x="831.62" y="496.12" width="21.36" height="6.36" fill="#dcedf8"/><rect x="852.68" y="496.12" width="14.34" height="6.36" fill="#74b7e4"/><rect x="866.72" y="496.12" width="14.34" height="6.36" fill="#b0d6f0"/><rect x="880.76" y="496.12" width="49.44" height="6.36" fill="#74b7e4"/><rect x="929.90" y="496.12" width="14.34" height="6.36" fill="#dcedf8"/><rect x="943.94" y="496.12" width="56.46" height="6.36" fill="#74b7e4"/><rect x="754.40" y="502.18" width="21.36" height="6.36" fill="#f8c6c9"/><rect x="789.50" y="502.18" width="21.36" height="6.36" fill="#fbe1e3"/><rect x="831.62" y="502.18" width="21.36" height="6.36" fill="#b0d6f0"/><rect x="852.68" y="502.18" width="7.32" height="6.36" fill="#74b7e4"/><rect x="859.70" y="502.18" width="28.38" height="6.36" fill="#3b98d6"/><rect x="887.78" y="502.18" width="77.52" height="6.36" fill="#74b7e4"/><rect x="986.06" y="502.18" width="14.34" height="6.36" fill="#74b7e4"/><rect x="754.40" y="508.24" width="28.38" height="6.36" fill="#f8c6c9"/><rect x="789.50" y="508.24" width="42.42" height="6.36" fill="#dcedf8"/><rect x="831.62" y="508.24" width="14.34" height="6.36" fill="#fbe1e3"/><rect x="845.66" y="508.24" width="21.36" height="6.36" fill="#b0d6f0"/><rect x="866.72" y="508.24" width="28.38" height="6.36" fill="#3b98d6"/><rect x="894.80" y="508.24" width="70.50" height="6.36" fill="#1a7fc8"/><rect x="965.00" y="508.24" width="35.40" height="6.36" fill="#3b98d6"/><rect x="754.40" y="514.30" width="21.36" height="6.36" fill="#b0d6f0"/><rect x="775.46" y="514.30" width="63.48" height="6.36" fill="#dcedf8"/><rect x="838.64" y="514.30" width="28.38" height="6.36" fill="#b0d6f0"/><rect x="866.72" y="514.30" width="28.38" height="6.36" fill="#3b98d6"/><rect x="894.80" y="514.30" width="49.44" height="6.36" fill="#74b7e4"/><rect x="943.94" y="514.30" width="21.36" height="6.36" fill="#b0d6f0"/><rect x="965.00" y="514.30" width="21.36" height="6.36" fill="#74b7e4"/><rect x="986.06" y="514.30" width="14.34" height="6.36" fill="#dcedf8"/><rect x="754.40" y="520.36" width="21.36" height="6.36" fill="#e4262c"/><rect x="775.46" y="520.36" width="42.42" height="6.36" fill="#c81e25"/><rect x="817.58" y="520.36" width="21.36" height="6.36" fill="#e4262c"/><rect x="845.66" y="520.36" width="21.36" height="6.36" fill="#0b6fc0"/><rect x="866.72" y="520.36" width="42.42" height="6.36" fill="#1750a8"/><rect x="908.84" y="520.36" width="56.46" height="6.36" fill="#1c2a86"/><rect x="965.00" y="520.36" width="35.40" height="6.36" fill="#1750a8"/><rect x="887.78" y="526.42" width="21.36" height="6.36" fill="#dcedf8"/><rect x="908.84" y="526.42" width="91.56" height="6.36" fill="#b0d6f0"/><rect x="768.44" y="532.48" width="21.36" height="6.36" fill="#f8c6c9"/><rect x="789.50" y="532.48" width="56.46" height="6.36" fill="#e9575d"/><rect x="845.66" y="532.48" width="42.42" height="6.36" fill="#f3a0a4"/><rect x="894.80" y="532.48" width="49.44" height="6.36" fill="#74b7e4"/><rect x="943.94" y="532.48" width="14.34" height="6.36" fill="#3b98d6"/><rect x="957.98" y="532.48" width="21.36" height="6.36" fill="#1a7fc8"/><rect x="979.04" y="532.48" width="21.36" height="6.36" fill="#3b98d6"/><rect x="754.40" y="538.54" width="56.46" height="6.36" fill="#dcedf8"/><rect x="810.56" y="538.54" width="77.52" height="6.36" fill="#b0d6f0"/><rect x="887.78" y="538.54" width="112.62" height="6.36" fill="#74b7e4"/><rect x="775.46" y="544.60" width="14.34" height="6.36" fill="#fbe1e3"/><rect x="789.50" y="544.60" width="14.34" height="6.36" fill="#f8c6c9"/><rect x="852.68" y="544.60" width="70.50" height="6.36" fill="#3b98d6"/><rect x="922.88" y="544.60" width="49.44" height="6.36" fill="#74b7e4"/><rect x="972.02" y="544.60" width="28.38" height="6.36" fill="#dcedf8"/><rect x="775.46" y="550.66" width="14.34" height="6.36" fill="#fbe1e3"/><rect x="789.50" y="550.66" width="42.42" height="6.36" fill="#f3a0a4"/><rect x="831.62" y="550.66" width="14.34" height="6.36" fill="#f8c6c9"/><rect x="852.68" y="550.66" width="35.40" height="6.36" fill="#dcedf8"/><rect x="887.78" y="550.66" width="112.62" height="6.36" fill="#b0d6f0"/><rect x="775.46" y="556.72" width="35.40" height="6.36" fill="#f8c6c9"/><rect x="810.56" y="556.72" width="35.40" height="6.36" fill="#fbe1e3"/><rect x="845.66" y="556.72" width="49.44" height="6.36" fill="#dcedf8"/><rect x="894.80" y="556.72" width="105.60" height="6.36" fill="#74b7e4"/><rect x="754.40" y="562.78" width="49.44" height="6.36" fill="#e4262c"/><rect x="803.54" y="562.78" width="7.32" height="6.36" fill="#8f1519"/><rect x="810.56" y="562.78" width="35.40" height="6.36" fill="#e4262c"/><rect x="845.66" y="562.78" width="14.34" height="6.36" fill="#fbe1e3"/><rect x="873.74" y="562.78" width="14.34" height="6.36" fill="#0b6fc0"/><rect x="887.78" y="562.78" width="77.52" height="6.36" fill="#1a7fc8"/><rect x="965.00" y="562.78" width="14.34" height="6.36" fill="#1c2a86"/><rect x="979.04" y="562.78" width="21.36" height="6.36" fill="#1a7fc8"/><rect x="754.40" y="568.84" width="84.54" height="6.36" fill="#b0d6f0"/><rect x="838.64" y="568.84" width="28.38" height="6.36" fill="#dcedf8"/><rect x="866.72" y="568.84" width="56.46" height="6.36" fill="#3b98d6"/><rect x="922.88" y="568.84" width="49.44" height="6.36" fill="#1a7fc8"/><rect x="972.02" y="568.84" width="28.38" height="6.36" fill="#74b7e4"/><rect x="754.40" y="574.90" width="7.32" height="6.36" fill="#fbe1e3"/><rect x="789.50" y="574.90" width="70.50" height="6.36" fill="#e4262c"/><rect x="859.70" y="574.90" width="7.32" height="6.36" fill="#fbe1e3"/><rect x="873.74" y="574.90" width="77.52" height="6.36" fill="#0b6fc0"/><rect x="950.96" y="574.90" width="21.36" height="6.36" fill="#1750a8"/><rect x="972.02" y="574.90" width="21.36" height="6.36" fill="#1a7fc8"/><rect x="993.08" y="574.90" width="7.32" height="6.36" fill="#b0d6f0"/><rect x="754.40" y="580.96" width="49.44" height="6.36" fill="#b0d6f0"/><rect x="838.64" y="580.96" width="42.42" height="6.36" fill="#b0d6f0"/><rect x="880.76" y="580.96" width="42.42" height="6.36" fill="#74b7e4"/><rect x="922.88" y="580.96" width="35.40" height="6.36" fill="#1a7fc8"/><rect x="957.98" y="580.96" width="42.42" height="6.36" fill="#b0d6f0"/><rect x="754.40" y="587.02" width="21.36" height="6.36" fill="#fbe1e3"/><rect x="782.48" y="587.02" width="7.32" height="6.36" fill="#b0d6f0"/><rect x="789.50" y="587.02" width="42.42" height="6.36" fill="#f3a0a4"/><rect x="831.62" y="587.02" width="7.32" height="6.36" fill="#fbe1e3"/><rect x="838.64" y="587.02" width="42.42" height="6.36" fill="#dcedf8"/><rect x="880.76" y="587.02" width="28.38" height="6.36" fill="#74b7e4"/><rect x="908.84" y="587.02" width="49.44" height="6.36" fill="#1a7fc8"/><rect x="957.98" y="587.02" width="7.32" height="6.36" fill="#74b7e4"/><rect x="965.00" y="587.02" width="7.32" height="6.36" fill="#1a7fc8"/><rect x="972.02" y="587.02" width="28.38" height="6.36" fill="#74b7e4"/><rect x="754.40" y="593.08" width="14.34" height="6.36" fill="#74b7e4"/><rect x="768.44" y="593.08" width="14.34" height="6.36" fill="#3b98d6"/><rect x="782.48" y="593.08" width="84.54" height="6.36" fill="#dcedf8"/><rect x="866.72" y="593.08" width="14.34" height="6.36" fill="#b0d6f0"/><rect x="880.76" y="593.08" width="21.36" height="6.36" fill="#1a7fc8"/><rect x="901.82" y="593.08" width="84.54" height="6.36" fill="#0b6fc0"/><rect x="986.06" y="593.08" width="14.34" height="6.36" fill="#74b7e4"/><rect x="754.40" y="599.14" width="28.38" height="6.36" fill="#b0d6f0"/><rect x="782.48" y="599.14" width="21.36" height="6.36" fill="#3b98d6"/><rect x="803.54" y="599.14" width="84.54" height="6.36" fill="#dcedf8"/><rect x="922.88" y="599.14" width="28.38" height="6.36" fill="#0b6fc0"/><rect x="950.96" y="599.14" width="42.42" height="6.36" fill="#74b7e4"/><rect x="993.08" y="599.14" width="7.32" height="6.36" fill="#3b98d6"/><rect x="754.40" y="605.20" width="56.46" height="6.36" fill="#b0d6f0"/><rect x="887.78" y="605.20" width="56.46" height="6.36" fill="#b0d6f0"/><rect x="943.94" y="605.20" width="56.46" height="6.36" fill="#74b7e4"/><rect x="796.52" y="611.26" width="42.42" height="6.36" fill="#fbe1e3"/><rect x="838.64" y="611.26" width="84.54" height="6.36" fill="#dcedf8"/><rect x="922.88" y="611.26" width="77.52" height="6.36" fill="#b0d6f0"/><rect x="796.52" y="617.32" width="42.42" height="6.36" fill="#f3a0a4"/><rect x="845.66" y="617.32" width="91.56" height="6.36" fill="#74b7e4"/><rect x="936.92" y="617.32" width="63.48" height="6.36" fill="#3b98d6"/><rect x="754.40" y="623.38" width="42.42" height="6.36" fill="#74b7e4"/><rect x="796.52" y="623.38" width="98.58" height="6.36" fill="#dcedf8"/><rect x="894.80" y="623.38" width="35.40" height="6.36" fill="#b0d6f0"/><rect x="929.90" y="623.38" width="35.40" height="6.36" fill="#1a7fc8"/><rect x="965.00" y="623.38" width="35.40" height="6.36" fill="#74b7e4"/><rect x="796.52" y="629.44" width="21.36" height="6.36" fill="#fbe1e3"/><rect x="817.58" y="629.44" width="28.38" height="6.36" fill="#f3a0a4"/><rect x="845.66" y="629.44" width="28.38" height="6.36" fill="#fbe1e3"/><rect x="894.80" y="629.44" width="35.40" height="6.36" fill="#74b7e4"/><rect x="929.90" y="629.44" width="49.44" height="6.36" fill="#0b6fc0"/><rect x="979.04" y="629.44" width="21.36" height="6.36" fill="#74b7e4"/><rect x="768.44" y="635.50" width="28.38" height="6.36" fill="#b0d6f0"/><rect x="817.58" y="635.50" width="14.34" height="6.36" fill="#fbe1e3"/><rect x="831.62" y="635.50" width="42.42" height="6.36" fill="#f8c6c9"/><rect x="922.88" y="635.50" width="77.52" height="6.36" fill="#b0d6f0"/><rect x="803.54" y="641.56" width="14.34" height="6.36" fill="#fbe1e3"/><rect x="817.58" y="641.56" width="84.54" height="6.36" fill="#f3a0a4"/><rect x="901.82" y="641.56" width="14.34" height="6.36" fill="#fbe1e3"/><rect x="754.40" y="647.62" width="49.44" height="6.36" fill="#1a7fc8"/><rect x="803.54" y="647.62" width="14.34" height="6.36" fill="#74b7e4"/><rect x="887.78" y="647.62" width="42.42" height="6.36" fill="#74b7e4"/><rect x="929.90" y="647.62" width="70.50" height="6.36" fill="#3b98d6"/><rect x="754.40" y="653.68" width="49.44" height="6.36" fill="#0b6fc0"/><rect x="803.54" y="653.68" width="28.38" height="6.36" fill="#3b98d6"/><rect x="831.62" y="653.68" width="56.46" height="6.36" fill="#74b7e4"/><rect x="887.78" y="653.68" width="21.36" height="6.36" fill="#1a7fc8"/><rect x="908.84" y="653.68" width="14.34" height="6.36" fill="#74b7e4"/><rect x="922.88" y="653.68" width="77.52" height="6.36" fill="#0b6fc0"/><rect x="817.58" y="659.74" width="21.36" height="6.36" fill="#f3a0a4"/><rect x="838.64" y="659.74" width="21.36" height="6.36" fill="#ee7d82"/><rect x="859.70" y="659.74" width="14.34" height="6.36" fill="#fbe1e3"/><rect x="887.78" y="659.74" width="77.52" height="6.36" fill="#3b98d6"/><rect x="965.00" y="659.74" width="35.40" height="6.36" fill="#b0d6f0"/><rect x="838.64" y="665.80" width="28.38" height="6.36" fill="#fbe1e3"/><rect x="866.72" y="665.80" width="42.42" height="6.36" fill="#dcedf8"/><rect x="908.84" y="665.80" width="91.56" height="6.36" fill="#3b98d6"/><rect x="754.40" y="671.86" width="7.32" height="6.36" fill="#3b98d6"/><rect x="761.42" y="671.86" width="7.32" height="6.36" fill="#1a7fc8"/><rect x="768.44" y="671.86" width="42.42" height="6.36" fill="#3b98d6"/><rect x="810.56" y="671.86" width="28.38" height="6.36" fill="#b0d6f0"/><rect x="845.66" y="671.86" width="35.40" height="6.36" fill="#f3a0a4"/><rect x="901.82" y="671.86" width="42.42" height="6.36" fill="#fbe1e3"/><rect x="965.00" y="671.86" width="21.36" height="6.36" fill="#f3a0a4"/><rect x="986.06" y="671.86" width="14.34" height="6.36" fill="#fbe1e3"/><rect x="754.40" y="677.92" width="21.36" height="6.36" fill="#1a7fc8"/><rect x="775.46" y="677.92" width="28.38" height="6.36" fill="#0b6fc0"/><rect x="803.54" y="677.92" width="35.40" height="6.36" fill="#3b98d6"/><rect x="852.68" y="677.92" width="28.38" height="6.36" fill="#f3a0a4"/><rect x="936.92" y="677.92" width="63.48" height="6.36" fill="#b0d6f0"/><rect x="754.40" y="683.98" width="91.56" height="6.36" fill="#b0d6f0"/><rect x="845.66" y="683.98" width="28.38" height="6.36" fill="#dcedf8"/><rect x="873.74" y="683.98" width="126.66" height="6.36" fill="#b0d6f0"/><rect x="754.40" y="690.04" width="42.42" height="6.36" fill="#3b98d6"/><rect x="796.52" y="690.04" width="14.34" height="6.36" fill="#b0d6f0"/><rect x="824.60" y="690.04" width="21.36" height="6.36" fill="#fbe1e3"/><rect x="845.66" y="690.04" width="63.48" height="6.36" fill="#ee7d82"/><rect x="908.84" y="690.04" width="7.32" height="6.36" fill="#f3a0a4"/><rect x="915.86" y="690.04" width="35.40" height="6.36" fill="#dcedf8"/><rect x="950.96" y="690.04" width="49.44" height="6.36" fill="#b0d6f0"/><rect x="754.40" y="696.10" width="35.40" height="6.36" fill="#dcedf8"/><rect x="789.50" y="696.10" width="28.38" height="6.36" fill="#b0d6f0"/><rect x="845.66" y="696.10" width="63.48" height="6.36" fill="#f8c6c9"/><rect x="922.88" y="696.10" width="77.52" height="6.36" fill="#74b7e4"/><rect x="754.40" y="702.16" width="7.32" height="6.36" fill="#fbe1e3"/><rect x="768.44" y="702.16" width="7.32" height="6.36" fill="#f3a0a4"/><rect x="789.50" y="702.16" width="42.42" height="6.36" fill="#b0d6f0"/><rect x="831.62" y="702.16" width="14.34" height="6.36" fill="#74b7e4"/><rect x="845.66" y="702.16" width="77.52" height="6.36" fill="#fbe1e3"/><rect x="922.88" y="702.16" width="7.32" height="6.36" fill="#74b7e4"/><rect x="929.90" y="702.16" width="42.42" height="6.36" fill="#0b6fc0"/><rect x="972.02" y="702.16" width="28.38" height="6.36" fill="#74b7e4"/><rect x="754.40" y="708.22" width="84.54" height="6.36" fill="#74b7e4"/><rect x="866.72" y="708.22" width="35.40" height="6.36" fill="#f8c6c9"/><rect x="901.82" y="708.22" width="98.58" height="6.36" fill="#fbe1e3"/><rect x="754.40" y="714.28" width="49.44" height="6.36" fill="#3b98d6"/><rect x="803.54" y="714.28" width="28.38" height="6.36" fill="#74b7e4"/><rect x="845.66" y="714.28" width="14.34" height="6.36" fill="#ee7d82"/><rect x="859.70" y="714.28" width="14.34" height="6.36" fill="#f8c6c9"/><rect x="873.74" y="714.28" width="14.34" height="6.36" fill="#ee7d82"/><rect x="887.78" y="714.28" width="56.46" height="6.36" fill="#fbe1e3"/><rect x="943.94" y="714.28" width="7.32" height="6.36" fill="#f3a0a4"/><rect x="957.98" y="714.28" width="7.32" height="6.36" fill="#f3a0a4"/><rect x="965.00" y="714.28" width="35.40" height="6.36" fill="#fbe1e3"/><rect x="754.40" y="720.34" width="91.56" height="6.36" fill="#b0d6f0"/><rect x="866.72" y="720.34" width="119.64" height="6.36" fill="#fbe1e3"/><rect x="986.06" y="720.34" width="14.34" height="6.36" fill="#b0d6f0"/><rect x="754.40" y="726.40" width="14.34" height="6.36" fill="#74b7e4"/><rect x="768.44" y="726.40" width="49.44" height="6.36" fill="#1a7fc8"/><rect x="817.58" y="726.40" width="21.36" height="6.36" fill="#3b98d6"/><rect x="852.68" y="726.40" width="21.36" height="6.36" fill="#f8c6c9"/><rect x="873.74" y="726.40" width="77.52" height="6.36" fill="#ee7d82"/><rect x="957.98" y="726.40" width="28.38" height="6.36" fill="#f3a0a4"/><rect x="754.40" y="732.46" width="21.36" height="6.36" fill="#3b98d6"/><rect x="775.46" y="732.46" width="42.42" height="6.36" fill="#0b6fc0"/><rect x="817.58" y="732.46" width="28.38" height="6.36" fill="#1a7fc8"/><rect x="845.66" y="732.46" width="21.36" height="6.36" fill="#b0d6f0"/><rect x="866.72" y="732.46" width="28.38" height="6.36" fill="#dcedf8"/><rect x="894.80" y="732.46" width="14.34" height="6.36" fill="#f8c6c9"/><rect x="922.88" y="732.46" width="42.42" height="6.36" fill="#b0d6f0"/><rect x="965.00" y="732.46" width="21.36" height="6.36" fill="#3b98d6"/><rect x="986.06" y="732.46" width="14.34" height="6.36" fill="#1a7fc8"/><rect x="754.40" y="738.52" width="14.34" height="6.36" fill="#3b98d6"/><rect x="768.44" y="738.52" width="77.52" height="6.36" fill="#1750a8"/><rect x="845.66" y="738.52" width="28.38" height="6.36" fill="#74b7e4"/><rect x="873.74" y="738.52" width="21.36" height="6.36" fill="#fbe1e3"/><rect x="894.80" y="738.52" width="7.32" height="6.36" fill="#e4262c"/><rect x="901.82" y="738.52" width="35.40" height="6.36" fill="#f8c6c9"/><rect x="943.94" y="738.52" width="14.34" height="6.36" fill="#f8c6c9"/><rect x="965.00" y="738.52" width="14.34" height="6.36" fill="#ee7d82"/><rect x="979.04" y="738.52" width="21.36" height="6.36" fill="#b0d6f0"/><rect x="754.40" y="744.58" width="21.36" height="6.36" fill="#dcedf8"/><rect x="775.46" y="744.58" width="56.46" height="6.36" fill="#b0d6f0"/><rect x="901.82" y="744.58" width="98.58" height="6.36" fill="#dcedf8"/><rect x="754.40" y="750.64" width="21.36" height="6.36" fill="#fbe1e3"/><rect x="775.46" y="750.64" width="42.42" height="6.36" fill="#74b7e4"/><rect x="817.58" y="750.64" width="56.46" height="6.36" fill="#3b98d6"/><rect x="880.76" y="750.64" width="56.46" height="6.36" fill="#e9575d"/><rect x="986.06" y="750.64" width="14.34" height="6.36" fill="#3b98d6"/><rect x="754.40" y="756.70" width="14.34" height="6.36" fill="#3b98d6"/><rect x="768.44" y="756.70" width="77.52" height="6.36" fill="#1750a8"/><rect x="845.66" y="756.70" width="21.36" height="6.36" fill="#1a7fc8"/><rect x="873.74" y="756.70" width="21.36" height="6.36" fill="#f3a0a4"/><rect x="894.80" y="756.70" width="28.38" height="6.36" fill="#e9575d"/><rect x="922.88" y="756.70" width="35.40" height="6.36" fill="#f3a0a4"/><rect x="957.98" y="756.70" width="42.42" height="6.36" fill="#fbe1e3"/><rect x="754.40" y="762.76" width="28.38" height="6.36" fill="#74b7e4"/><rect x="782.48" y="762.76" width="21.36" height="6.36" fill="#b0d6f0"/><rect x="803.54" y="762.76" width="98.58" height="6.36" fill="#74b7e4"/><rect x="901.82" y="762.76" width="28.38" height="6.36" fill="#b0d6f0"/><rect x="929.90" y="762.76" width="35.40" height="6.36" fill="#3b98d6"/><rect x="965.00" y="762.76" width="35.40" height="6.36" fill="#74b7e4"/><rect x="754.40" y="768.82" width="70.50" height="6.36" fill="#0b6fc0"/><rect x="824.60" y="768.82" width="21.36" height="6.36" fill="#1a7fc8"/><rect x="845.66" y="768.82" width="14.34" height="6.36" fill="#74b7e4"/><rect x="859.70" y="768.82" width="7.32" height="6.36" fill="#1a7fc8"/><rect x="866.72" y="768.82" width="28.38" height="6.36" fill="#b0d6f0"/><rect x="894.80" y="768.82" width="28.38" height="6.36" fill="#3b98d6"/><rect x="922.88" y="768.82" width="7.32" height="6.36" fill="#b0d6f0"/><rect x="929.90" y="768.82" width="70.50" height="6.36" fill="#1a7fc8"/><rect x="754.40" y="774.88" width="35.40" height="6.36" fill="#dcedf8"/><rect x="831.62" y="774.88" width="7.32" height="6.36" fill="#fbe1e3"/><rect x="838.64" y="774.88" width="63.48" height="6.36" fill="#f3a0a4"/><rect x="901.82" y="774.88" width="21.36" height="6.36" fill="#fbe1e3"/><rect x="922.88" y="774.88" width="7.32" height="6.36" fill="#ee7d82"/><rect x="943.94" y="774.88" width="56.46" height="6.36" fill="#fbe1e3"/><rect x="754.40" y="780.94" width="21.36" height="6.36" fill="#74b7e4"/><rect x="775.46" y="780.94" width="70.50" height="6.36" fill="#3b98d6"/><rect x="845.66" y="780.94" width="28.38" height="6.36" fill="#1a7fc8"/><rect x="873.74" y="780.94" width="126.66" height="6.36" fill="#74b7e4"/><rect x="754.40" y="787.00" width="91.56" height="6.36" fill="#74b7e4"/><rect x="929.90" y="787.00" width="70.50" height="6.36" fill="#fbe1e3"/><rect x="754.40" y="793.06" width="21.36" height="6.36" fill="#3b98d6"/><rect x="775.46" y="793.06" width="21.36" height="6.36" fill="#1a7fc8"/><rect x="796.52" y="793.06" width="7.32" height="6.36" fill="#3b98d6"/><rect x="803.54" y="793.06" width="28.38" height="6.36" fill="#1a7fc8"/><rect x="831.62" y="793.06" width="21.36" height="6.36" fill="#3b98d6"/><rect x="852.68" y="793.06" width="28.38" height="6.36" fill="#b0d6f0"/><rect x="908.84" y="793.06" width="21.36" height="6.36" fill="#fbe1e3"/><rect x="929.90" y="793.06" width="14.34" height="6.36" fill="#f3a0a4"/><rect x="943.94" y="793.06" width="35.40" height="6.36" fill="#f8c6c9"/><rect x="979.04" y="793.06" width="21.36" height="6.36" fill="#fbe1e3"/><rect x="754.40" y="799.12" width="28.38" height="6.36" fill="#b0d6f0"/><rect x="782.48" y="799.12" width="14.34" height="6.36" fill="#dcedf8"/><rect x="796.52" y="799.12" width="49.44" height="6.36" fill="#b0d6f0"/><rect x="845.66" y="799.12" width="35.40" height="6.36" fill="#dcedf8"/><rect x="880.76" y="799.12" width="7.32" height="6.36" fill="#74b7e4"/><rect x="908.84" y="799.12" width="21.36" height="6.36" fill="#dcedf8"/><rect x="929.90" y="799.12" width="70.50" height="6.36" fill="#b0d6f0"/><rect x="754.40" y="805.18" width="56.46" height="6.36" fill="#b0d6f0"/><rect x="810.56" y="805.18" width="70.50" height="6.36" fill="#dcedf8"/><rect x="880.76" y="805.18" width="14.34" height="6.36" fill="#f3a0a4"/><rect x="908.84" y="805.18" width="21.36" height="6.36" fill="#fbe1e3"/><rect x="943.94" y="805.18" width="14.34" height="6.36" fill="#f8c6c9"/><rect x="754.40" y="811.24" width="35.40" height="6.36" fill="#b0d6f0"/><rect x="789.50" y="811.24" width="28.38" height="6.36" fill="#74b7e4"/><rect x="817.58" y="811.24" width="35.40" height="6.36" fill="#b0d6f0"/><rect x="852.68" y="811.24" width="77.52" height="6.36" fill="#3b98d6"/><rect x="929.90" y="811.24" width="70.50" height="6.36" fill="#b0d6f0"/><rect x="754.40" y="817.30" width="14.34" height="6.36" fill="#b0d6f0"/><rect x="775.46" y="817.30" width="14.34" height="6.36" fill="#b0d6f0"/><rect x="789.50" y="817.30" width="35.40" height="6.36" fill="#74b7e4"/><rect x="824.60" y="817.30" width="21.36" height="6.36" fill="#1a7fc8"/><rect x="845.66" y="817.30" width="7.32" height="6.36" fill="#b0d6f0"/><rect x="852.68" y="817.30" width="21.36" height="6.36" fill="#3b98d6"/><rect x="873.74" y="817.30" width="21.36" height="6.36" fill="#1a7fc8"/><rect x="894.80" y="817.30" width="49.44" height="6.36" fill="#b0d6f0"/><rect x="943.94" y="817.30" width="56.46" height="6.36" fill="#dcedf8"/><rect x="754.40" y="823.36" width="14.34" height="6.36" fill="#74b7e4"/><rect x="768.44" y="823.36" width="28.38" height="6.36" fill="#3b98d6"/><rect x="796.52" y="823.36" width="168.78" height="6.36" fill="#74b7e4"/><rect x="965.00" y="823.36" width="35.40" height="6.36" fill="#3b98d6"/><rect x="754.40" y="829.42" width="56.46" height="6.36" fill="#1750a8"/><rect x="810.56" y="829.42" width="35.40" height="6.36" fill="#0b6fc0"/><rect x="845.66" y="829.42" width="7.32" height="6.36" fill="#b0d6f0"/><rect x="852.68" y="829.42" width="35.40" height="6.36" fill="#f8c6c9"/><rect x="887.78" y="829.42" width="56.46" height="6.36" fill="#fbe1e3"/><rect x="943.94" y="829.42" width="42.42" height="6.36" fill="#f3a0a4"/><rect x="754.40" y="835.48" width="14.34" height="6.36" fill="#0b6fc0"/><rect x="768.44" y="835.48" width="42.42" height="6.36" fill="#1a7fc8"/><rect x="810.56" y="835.48" width="14.34" height="6.36" fill="#74b7e4"/><rect x="852.68" y="835.48" width="35.40" height="6.36" fill="#ee7d82"/><rect x="915.86" y="835.48" width="70.50" height="6.36" fill="#ee7d82"/><rect x="986.06" y="835.48" width="14.34" height="6.36" fill="#e9575d"/><rect x="754.40" y="841.54" width="119.64" height="6.36" fill="#1c2a86"/><rect x="873.74" y="841.54" width="14.34" height="6.36" fill="#1a7fc8"/><rect x="908.84" y="841.54" width="14.34" height="6.36" fill="#ee7d82"/><rect x="922.88" y="841.54" width="42.42" height="6.36" fill="#f3a0a4"/><rect x="965.00" y="841.54" width="14.34" height="6.36" fill="#e9575d"/><rect x="979.04" y="841.54" width="21.36" height="6.36" fill="#f8c6c9"/><rect x="754.40" y="847.60" width="14.34" height="6.36" fill="#1a7fc8"/><rect x="768.44" y="847.60" width="105.60" height="6.36" fill="#1750a8"/><rect x="943.94" y="847.60" width="56.46" height="6.36" fill="#f8c6c9"/><rect x="754.40" y="853.66" width="14.34" height="6.36" fill="#0b6fc0"/><rect x="768.44" y="853.66" width="91.56" height="6.36" fill="#1750a8"/><rect x="859.70" y="853.66" width="14.34" height="6.36" fill="#74b7e4"/><rect x="873.74" y="853.66" width="14.34" height="6.36" fill="#fbe1e3"/><rect x="887.78" y="853.66" width="42.42" height="6.36" fill="#74b7e4"/><rect x="943.94" y="853.66" width="21.36" height="6.36" fill="#b0d6f0"/><rect x="965.00" y="853.66" width="21.36" height="6.36" fill="#ee7d82"/><rect x="986.06" y="853.66" width="14.34" height="6.36" fill="#b0d6f0"/><rect x="754.40" y="859.72" width="105.60" height="6.36" fill="#0b6fc0"/><rect x="859.70" y="859.72" width="21.36" height="6.36" fill="#74b7e4"/><rect x="880.76" y="859.72" width="49.44" height="6.36" fill="#b0d6f0"/><rect x="929.90" y="859.72" width="21.36" height="6.36" fill="#3b98d6"/><rect x="950.96" y="859.72" width="14.34" height="6.36" fill="#b0d6f0"/><rect x="754.40" y="865.78" width="56.46" height="6.36" fill="#74b7e4"/><rect x="810.56" y="865.78" width="42.42" height="6.36" fill="#b0d6f0"/><rect x="880.76" y="865.78" width="28.38" height="6.36" fill="#fbe1e3"/><rect x="972.02" y="865.78" width="28.38" height="6.36" fill="#fbe1e3"/><rect x="754.40" y="871.84" width="35.40" height="6.36" fill="#3b98d6"/><rect x="789.50" y="871.84" width="21.36" height="6.36" fill="#b0d6f0"/><rect x="810.56" y="871.84" width="42.42" height="6.36" fill="#dcedf8"/><rect x="852.68" y="871.84" width="49.44" height="6.36" fill="#b0d6f0"/><rect x="901.82" y="871.84" width="35.40" height="6.36" fill="#3b98d6"/><rect x="936.92" y="871.84" width="35.40" height="6.36" fill="#b0d6f0"/><rect x="754.40" y="877.90" width="98.58" height="6.36" fill="#dcedf8"/><rect x="852.68" y="877.90" width="119.64" height="6.36" fill="#b0d6f0"/><rect x="754.40" y="883.96" width="56.46" height="6.36" fill="#3b98d6"/><rect x="810.56" y="883.96" width="28.38" height="6.36" fill="#dcedf8"/><rect x="838.64" y="883.96" width="14.34" height="6.36" fill="#74b7e4"/><rect x="852.68" y="883.96" width="70.50" height="6.36" fill="#b0d6f0"/><rect x="922.88" y="883.96" width="14.34" height="6.36" fill="#1a7fc8"/><rect x="936.92" y="883.96" width="14.34" height="6.36" fill="#74b7e4"/><rect x="950.96" y="883.96" width="28.38" height="6.36" fill="#b0d6f0"/><rect x="979.04" y="883.96" width="21.36" height="6.36" fill="#dcedf8"/><rect x="754.40" y="890.02" width="63.48" height="6.36" fill="#3b98d6"/><rect x="817.58" y="890.02" width="56.46" height="6.36" fill="#74b7e4"/><rect x="894.80" y="890.02" width="105.60" height="6.36" fill="#dcedf8"/><rect x="754.40" y="896.08" width="14.34" height="6.36" fill="#74b7e4"/><rect x="768.44" y="896.08" width="105.60" height="6.36" fill="#0b6fc0"/><rect x="873.74" y="896.08" width="84.54" height="6.36" fill="#b0d6f0"/><rect x="754.40" y="902.14" width="14.34" height="6.36" fill="#dcedf8"/><rect x="768.44" y="902.14" width="14.34" height="6.36" fill="#1a7fc8"/><rect x="782.48" y="902.14" width="42.42" height="6.36" fill="#1750a8"/><rect x="824.60" y="902.14" width="49.44" height="6.36" fill="#1a7fc8"/><rect x="873.74" y="902.14" width="14.34" height="6.36" fill="#74b7e4"/><rect x="887.78" y="902.14" width="21.36" height="6.36" fill="#3b98d6"/><rect x="908.84" y="902.14" width="21.36" height="6.36" fill="#0b6fc0"/><rect x="929.90" y="902.14" width="28.38" height="6.36" fill="#1a7fc8"/><rect x="957.98" y="902.14" width="14.34" height="6.36" fill="#b0d6f0"/><rect x="789.50" y="908.20" width="84.54" height="6.36" fill="#b0d6f0"/><rect x="873.74" y="908.20" width="119.64" height="6.36" fill="#dcedf8"/><rect x="993.08" y="908.20" width="7.32" height="6.36" fill="#fbe1e3"/><rect x="754.40" y="914.26" width="105.60" height="6.36" fill="#3b98d6"/><rect x="859.70" y="914.26" width="91.56" height="6.36" fill="#74b7e4"/><rect x="950.96" y="914.26" width="49.44" height="6.36" fill="#b0d6f0"/><rect x="754.40" y="920.32" width="105.60" height="6.36" fill="#74b7e4"/><rect x="859.70" y="920.32" width="140.70" height="6.36" fill="#b0d6f0"/></g>
<g shape-rendering="crispEdges"><rect x="1035.60" y="484.00" width="7.34" height="6.36" fill="#fbe1e3"/><rect x="1070.81" y="484.00" width="14.39" height="6.36" fill="#dcedf8"/><rect x="1084.90" y="484.00" width="7.34" height="6.36" fill="#b0d6f0"/><rect x="1091.94" y="484.00" width="21.43" height="6.36" fill="#dcedf8"/><rect x="1120.12" y="484.00" width="14.39" height="6.36" fill="#f8c6c9"/><rect x="1134.20" y="484.00" width="35.52" height="6.36" fill="#dcedf8"/><rect x="1183.50" y="484.00" width="7.34" height="6.36" fill="#fbe1e3"/><rect x="1232.80" y="484.00" width="21.43" height="6.36" fill="#f8c6c9"/><rect x="1253.93" y="484.00" width="14.39" height="6.36" fill="#dcedf8"/><rect x="1268.02" y="484.00" width="14.39" height="6.36" fill="#b0d6f0"/><rect x="1049.69" y="490.06" width="14.39" height="6.36" fill="#fbe1e3"/><rect x="1113.07" y="490.06" width="7.34" height="6.36" fill="#dcedf8"/><rect x="1120.12" y="490.06" width="21.43" height="6.36" fill="#b0d6f0"/><rect x="1141.24" y="490.06" width="14.39" height="6.36" fill="#dcedf8"/><rect x="1155.33" y="490.06" width="84.82" height="6.36" fill="#fbe1e3"/><rect x="1056.73" y="496.12" width="7.34" height="6.36" fill="#fbe1e3"/><rect x="1070.81" y="496.12" width="7.34" height="6.36" fill="#fbe1e3"/><rect x="1268.02" y="496.12" width="14.39" height="6.36" fill="#dcedf8"/><rect x="1035.60" y="502.18" width="7.34" height="6.36" fill="#fbe1e3"/><rect x="1042.64" y="502.18" width="14.39" height="6.36" fill="#f8c6c9"/><rect x="1056.73" y="502.18" width="21.43" height="6.36" fill="#fbe1e3"/><rect x="1077.86" y="502.18" width="7.34" height="6.36" fill="#f3a0a4"/><rect x="1084.90" y="502.18" width="14.39" height="6.36" fill="#ee7d82"/><rect x="1098.99" y="502.18" width="14.39" height="6.36" fill="#f8c6c9"/><rect x="1127.16" y="502.18" width="7.34" height="6.36" fill="#dcedf8"/><rect x="1134.20" y="502.18" width="28.47" height="6.36" fill="#74b7e4"/><rect x="1162.37" y="502.18" width="14.39" height="6.36" fill="#dcedf8"/><rect x="1176.46" y="502.18" width="28.47" height="6.36" fill="#b0d6f0"/><rect x="1225.76" y="502.18" width="21.43" height="6.36" fill="#dcedf8"/><rect x="1246.89" y="502.18" width="21.43" height="6.36" fill="#fbe1e3"/><rect x="1275.06" y="502.18" width="7.34" height="6.36" fill="#b0d6f0"/><rect x="1035.60" y="508.24" width="63.69" height="6.36" fill="#fbe1e3"/><rect x="1098.99" y="508.24" width="21.43" height="6.36" fill="#f3a0a4"/><rect x="1183.50" y="508.24" width="49.60" height="6.36" fill="#b0d6f0"/><rect x="1232.80" y="508.24" width="49.60" height="6.36" fill="#dcedf8"/><rect x="1035.60" y="514.30" width="14.39" height="6.36" fill="#f3a0a4"/><rect x="1049.69" y="514.30" width="21.43" height="6.36" fill="#ee7d82"/><rect x="1070.81" y="514.30" width="28.47" height="6.36" fill="#f8c6c9"/><rect x="1098.99" y="514.30" width="28.47" height="6.36" fill="#fbe1e3"/><rect x="1127.16" y="514.30" width="28.47" height="6.36" fill="#dcedf8"/><rect x="1155.33" y="514.30" width="21.43" height="6.36" fill="#1a7fc8"/><rect x="1176.46" y="514.30" width="21.43" height="6.36" fill="#74b7e4"/><rect x="1197.59" y="514.30" width="28.47" height="6.36" fill="#dcedf8"/><rect x="1225.76" y="514.30" width="42.56" height="6.36" fill="#f8c6c9"/><rect x="1268.02" y="514.30" width="14.39" height="6.36" fill="#f3a0a4"/><rect x="1035.60" y="520.36" width="7.34" height="6.36" fill="#f8c6c9"/><rect x="1056.73" y="520.36" width="42.56" height="6.36" fill="#e9575d"/><rect x="1098.99" y="520.36" width="21.43" height="6.36" fill="#fbe1e3"/><rect x="1120.12" y="520.36" width="14.39" height="6.36" fill="#74b7e4"/><rect x="1134.20" y="520.36" width="14.39" height="6.36" fill="#3b98d6"/><rect x="1148.29" y="520.36" width="21.43" height="6.36" fill="#b0d6f0"/><rect x="1190.55" y="520.36" width="21.43" height="6.36" fill="#dcedf8"/><rect x="1211.67" y="520.36" width="28.47" height="6.36" fill="#74b7e4"/><rect x="1239.85" y="520.36" width="7.34" height="6.36" fill="#3b98d6"/><rect x="1246.89" y="520.36" width="21.43" height="6.36" fill="#74b7e4"/><rect x="1275.06" y="520.36" width="7.34" height="6.36" fill="#74b7e4"/><rect x="1056.73" y="526.42" width="21.43" height="6.36" fill="#fbe1e3"/><rect x="1035.60" y="532.48" width="63.69" height="6.36" fill="#f8c6c9"/><rect x="1098.99" y="532.48" width="21.43" height="6.36" fill="#ee7d82"/><rect x="1120.12" y="532.48" width="7.34" height="6.36" fill="#fbe1e3"/><rect x="1127.16" y="532.48" width="21.43" height="6.36" fill="#dcedf8"/><rect x="1169.42" y="532.48" width="14.39" height="6.36" fill="#fbe1e3"/><rect x="1190.55" y="532.48" width="14.39" height="6.36" fill="#dcedf8"/><rect x="1204.63" y="532.48" width="21.43" height="6.36" fill="#74b7e4"/><rect x="1225.76" y="532.48" width="7.34" height="6.36" fill="#3b98d6"/><rect x="1232.80" y="532.48" width="7.34" height="6.36" fill="#dcedf8"/><rect x="1239.85" y="532.48" width="28.47" height="6.36" fill="#74b7e4"/><rect x="1268.02" y="532.48" width="14.39" height="6.36" fill="#b0d6f0"/><rect x="1035.60" y="538.54" width="56.64" height="6.36" fill="#fbe1e3"/><rect x="1169.42" y="538.54" width="98.90" height="6.36" fill="#dcedf8"/><rect x="1268.02" y="538.54" width="14.39" height="6.36" fill="#b0d6f0"/><rect x="1035.60" y="544.60" width="7.34" height="6.36" fill="#fbe1e3"/><rect x="1042.64" y="544.60" width="63.69" height="6.36" fill="#f3a0a4"/><rect x="1106.03" y="544.60" width="21.43" height="6.36" fill="#fbe1e3"/><rect x="1134.20" y="544.60" width="21.43" height="6.36" fill="#b0d6f0"/><rect x="1155.33" y="544.60" width="42.56" height="6.36" fill="#74b7e4"/><rect x="1225.76" y="544.60" width="14.39" height="6.36" fill="#b0d6f0"/><rect x="1268.02" y="544.60" width="7.34" height="6.36" fill="#fbe1e3"/><rect x="1035.60" y="550.66" width="42.56" height="6.36" fill="#fbe1e3"/><rect x="1077.86" y="550.66" width="21.43" height="6.36" fill="#ee7d82"/><rect x="1098.99" y="550.66" width="28.47" height="6.36" fill="#f8c6c9"/><rect x="1134.20" y="550.66" width="14.39" height="6.36" fill="#74b7e4"/><rect x="1162.37" y="550.66" width="63.69" height="6.36" fill="#dcedf8"/><rect x="1225.76" y="550.66" width="7.34" height="6.36" fill="#74b7e4"/><rect x="1232.80" y="550.66" width="35.52" height="6.36" fill="#dcedf8"/><rect x="1035.60" y="556.72" width="28.47" height="6.36" fill="#fbe1e3"/><rect x="1063.77" y="556.72" width="7.34" height="6.36" fill="#f3a0a4"/><rect x="1098.99" y="556.72" width="28.47" height="6.36" fill="#f8c6c9"/><rect x="1162.37" y="556.72" width="14.39" height="6.36" fill="#b0d6f0"/><rect x="1190.55" y="556.72" width="21.43" height="6.36" fill="#b0d6f0"/><rect x="1218.72" y="556.72" width="28.47" height="6.36" fill="#dcedf8"/><rect x="1260.98" y="556.72" width="7.34" height="6.36" fill="#b0d6f0"/><rect x="1035.60" y="562.78" width="21.43" height="6.36" fill="#e9575d"/><rect x="1056.73" y="562.78" width="35.52" height="6.36" fill="#e4262c"/><rect x="1091.94" y="562.78" width="21.43" height="6.36" fill="#e9575d"/><rect x="1113.07" y="562.78" width="14.39" height="6.36" fill="#e4262c"/><rect x="1127.16" y="562.78" width="14.39" height="6.36" fill="#74b7e4"/><rect x="1155.33" y="562.78" width="14.39" height="6.36" fill="#0b6fc0"/><rect x="1169.42" y="562.78" width="21.43" height="6.36" fill="#74b7e4"/><rect x="1190.55" y="562.78" width="14.39" height="6.36" fill="#0b6fc0"/><rect x="1204.63" y="562.78" width="21.43" height="6.36" fill="#3b98d6"/><rect x="1225.76" y="562.78" width="21.43" height="6.36" fill="#74b7e4"/><rect x="1246.89" y="562.78" width="14.39" height="6.36" fill="#1750a8"/><rect x="1260.98" y="562.78" width="21.43" height="6.36" fill="#b0d6f0"/><rect x="1042.64" y="568.84" width="84.82" height="6.36" fill="#fbe1e3"/><rect x="1148.29" y="568.84" width="42.56" height="6.36" fill="#b0d6f0"/><rect x="1232.80" y="568.84" width="28.47" height="6.36" fill="#f8c6c9"/><rect x="1035.60" y="574.90" width="7.34" height="6.36" fill="#fbe1e3"/><rect x="1042.64" y="574.90" width="28.47" height="6.36" fill="#f8c6c9"/><rect x="1070.81" y="574.90" width="28.47" height="6.36" fill="#e4262c"/><rect x="1098.99" y="574.90" width="21.43" height="6.36" fill="#e9575d"/><rect x="1120.12" y="574.90" width="14.39" height="6.36" fill="#ee7d82"/><rect x="1134.20" y="574.90" width="21.43" height="6.36" fill="#f3a0a4"/><rect x="1155.33" y="574.90" width="14.39" height="6.36" fill="#3b98d6"/><rect x="1169.42" y="574.90" width="21.43" height="6.36" fill="#74b7e4"/><rect x="1190.55" y="574.90" width="21.43" height="6.36" fill="#1a7fc8"/><rect x="1211.67" y="574.90" width="14.39" height="6.36" fill="#3b98d6"/><rect x="1225.76" y="574.90" width="21.43" height="6.36" fill="#0b6fc0"/><rect x="1246.89" y="574.90" width="7.34" height="6.36" fill="#b0d6f0"/><rect x="1253.93" y="574.90" width="21.43" height="6.36" fill="#fbe1e3"/><rect x="1035.60" y="580.96" width="7.34" height="6.36" fill="#dcedf8"/><rect x="1084.90" y="580.96" width="28.47" height="6.36" fill="#fbe1e3"/><rect x="1176.46" y="580.96" width="56.64" height="6.36" fill="#dcedf8"/><rect x="1035.60" y="587.02" width="21.43" height="6.36" fill="#f8c6c9"/><rect x="1056.73" y="587.02" width="7.34" height="6.36" fill="#dcedf8"/><rect x="1063.77" y="587.02" width="21.43" height="6.36" fill="#ee7d82"/><rect x="1084.90" y="587.02" width="14.39" height="6.36" fill="#e9575d"/><rect x="1098.99" y="587.02" width="21.43" height="6.36" fill="#f3a0a4"/><rect x="1127.16" y="587.02" width="70.73" height="6.36" fill="#dcedf8"/><rect x="1197.59" y="587.02" width="14.39" height="6.36" fill="#74b7e4"/><rect x="1232.80" y="587.02" width="7.34" height="6.36" fill="#74b7e4"/><rect x="1246.89" y="587.02" width="7.34" height="6.36" fill="#74b7e4"/><rect x="1260.98" y="587.02" width="7.34" height="6.36" fill="#74b7e4"/><rect x="1268.02" y="587.02" width="14.39" height="6.36" fill="#dcedf8"/><rect x="1035.60" y="593.08" width="35.52" height="6.36" fill="#ee7d82"/><rect x="1070.81" y="593.08" width="56.64" height="6.36" fill="#f3a0a4"/><rect x="1127.16" y="593.08" width="7.34" height="6.36" fill="#fbe1e3"/><rect x="1134.20" y="593.08" width="14.39" height="6.36" fill="#b0d6f0"/><rect x="1162.37" y="593.08" width="14.39" height="6.36" fill="#f8c6c9"/><rect x="1176.46" y="593.08" width="21.43" height="6.36" fill="#e9575d"/><rect x="1197.59" y="593.08" width="21.43" height="6.36" fill="#fbe1e3"/><rect x="1218.72" y="593.08" width="7.34" height="6.36" fill="#f8c6c9"/><rect x="1225.76" y="593.08" width="21.43" height="6.36" fill="#f3a0a4"/><rect x="1253.93" y="593.08" width="14.39" height="6.36" fill="#dcedf8"/><rect x="1275.06" y="593.08" width="7.34" height="6.36" fill="#fbe1e3"/><rect x="1070.81" y="599.14" width="42.56" height="6.36" fill="#f8c6c9"/><rect x="1113.07" y="599.14" width="14.39" height="6.36" fill="#ee7d82"/><rect x="1134.20" y="599.14" width="7.34" height="6.36" fill="#dcedf8"/><rect x="1183.50" y="599.14" width="14.39" height="6.36" fill="#f8c6c9"/><rect x="1218.72" y="599.14" width="21.43" height="6.36" fill="#74b7e4"/><rect x="1253.93" y="599.14" width="28.47" height="6.36" fill="#b0d6f0"/><rect x="1042.64" y="605.20" width="7.34" height="6.36" fill="#fbe1e3"/><rect x="1070.81" y="605.20" width="21.43" height="6.36" fill="#fbe1e3"/><rect x="1098.99" y="605.20" width="21.43" height="6.36" fill="#fbe1e3"/><rect x="1035.60" y="611.26" width="21.43" height="6.36" fill="#fbe1e3"/><rect x="1070.81" y="611.26" width="28.47" height="6.36" fill="#fbe1e3"/><rect x="1098.99" y="611.26" width="21.43" height="6.36" fill="#f8c6c9"/><rect x="1134.20" y="611.26" width="14.39" height="6.36" fill="#b0d6f0"/><rect x="1204.63" y="611.26" width="14.39" height="6.36" fill="#b0d6f0"/><rect x="1218.72" y="611.26" width="14.39" height="6.36" fill="#74b7e4"/><rect x="1268.02" y="611.26" width="7.34" height="6.36" fill="#fbe1e3"/><rect x="1056.73" y="617.32" width="14.39" height="6.36" fill="#dcedf8"/><rect x="1113.07" y="617.32" width="7.34" height="6.36" fill="#dcedf8"/><rect x="1148.29" y="617.32" width="14.39" height="6.36" fill="#dcedf8"/><rect x="1162.37" y="617.32" width="21.43" height="6.36" fill="#fbe1e3"/><rect x="1197.59" y="617.32" width="21.43" height="6.36" fill="#fbe1e3"/><rect x="1246.89" y="617.32" width="35.52" height="6.36" fill="#b0d6f0"/><rect x="1049.69" y="623.38" width="28.47" height="6.36" fill="#fbe1e3"/><rect x="1098.99" y="623.38" width="21.43" height="6.36" fill="#fbe1e3"/><rect x="1148.29" y="623.38" width="21.43" height="6.36" fill="#dcedf8"/><rect x="1239.85" y="623.38" width="28.47" height="6.36" fill="#b0d6f0"/><rect x="1049.69" y="629.44" width="21.43" height="6.36" fill="#fbe1e3"/><rect x="1084.90" y="629.44" width="21.43" height="6.36" fill="#fbe1e3"/><rect x="1106.03" y="629.44" width="28.47" height="6.36" fill="#f3a0a4"/><rect x="1134.20" y="629.44" width="21.43" height="6.36" fill="#fbe1e3"/><rect x="1211.67" y="629.44" width="21.43" height="6.36" fill="#74b7e4"/><rect x="1239.85" y="629.44" width="7.34" height="6.36" fill="#74b7e4"/><rect x="1246.89" y="629.44" width="21.43" height="6.36" fill="#b0d6f0"/><rect x="1035.60" y="635.50" width="7.34" height="6.36" fill="#fbe1e3"/><rect x="1063.77" y="635.50" width="21.43" height="6.36" fill="#dcedf8"/><rect x="1106.03" y="635.50" width="21.43" height="6.36" fill="#fbe1e3"/><rect x="1134.20" y="635.50" width="28.47" height="6.36" fill="#dcedf8"/><rect x="1211.67" y="635.50" width="7.34" height="6.36" fill="#dcedf8"/><rect x="1225.76" y="635.50" width="14.39" height="6.36" fill="#fbe1e3"/><rect x="1120.12" y="641.56" width="21.43" height="6.36" fill="#fbe1e3"/><rect x="1148.29" y="641.56" width="7.34" height="6.36" fill="#fbe1e3"/><rect x="1225.76" y="641.56" width="7.34" height="6.36" fill="#dcedf8"/><rect x="1042.64" y="647.62" width="7.34" height="6.36" fill="#fbe1e3"/><rect x="1049.69" y="647.62" width="21.43" height="6.36" fill="#f8c6c9"/><rect x="1070.81" y="647.62" width="14.39" height="6.36" fill="#b0d6f0"/><rect x="1098.99" y="647.62" width="21.43" height="6.36" fill="#fbe1e3"/><rect x="1141.24" y="647.62" width="21.43" height="6.36" fill="#dcedf8"/><rect x="1169.42" y="647.62" width="7.34" height="6.36" fill="#b0d6f0"/><rect x="1232.80" y="647.62" width="28.47" height="6.36" fill="#fbe1e3"/><rect x="1035.60" y="653.68" width="7.34" height="6.36" fill="#b0d6f0"/><rect x="1042.64" y="653.68" width="14.39" height="6.36" fill="#dcedf8"/><rect x="1127.16" y="653.68" width="14.39" height="6.36" fill="#fbe1e3"/><rect x="1169.42" y="653.68" width="28.47" height="6.36" fill="#fbe1e3"/><rect x="1218.72" y="653.68" width="14.39" height="6.36" fill="#dcedf8"/><rect x="1232.80" y="653.68" width="28.47" height="6.36" fill="#f8c6c9"/><rect x="1275.06" y="653.68" width="7.34" height="6.36" fill="#dcedf8"/><rect x="1063.77" y="659.74" width="35.52" height="6.36" fill="#f3a0a4"/><rect x="1098.99" y="659.74" width="21.43" height="6.36" fill="#f8c6c9"/><rect x="1120.12" y="659.74" width="7.34" height="6.36" fill="#f3a0a4"/><rect x="1127.16" y="659.74" width="14.39" height="6.36" fill="#e9575d"/><rect x="1141.24" y="659.74" width="7.34" height="6.36" fill="#fbe1e3"/><rect x="1155.33" y="659.74" width="35.52" height="6.36" fill="#b0d6f0"/><rect x="1190.55" y="659.74" width="21.43" height="6.36" fill="#3b98d6"/><rect x="1211.67" y="659.74" width="21.43" height="6.36" fill="#dcedf8"/><rect x="1232.80" y="659.74" width="7.34" height="6.36" fill="#74b7e4"/><rect x="1035.60" y="665.80" width="7.34" height="6.36" fill="#dcedf8"/><rect x="1106.03" y="665.80" width="14.39" height="6.36" fill="#f8c6c9"/><rect x="1176.46" y="665.80" width="21.43" height="6.36" fill="#f8c6c9"/><rect x="1253.93" y="665.80" width="28.47" height="6.36" fill="#dcedf8"/><rect x="1035.60" y="671.86" width="7.34" height="6.36" fill="#b0d6f0"/><rect x="1042.64" y="671.86" width="7.34" height="6.36" fill="#3b98d6"/><rect x="1049.69" y="671.86" width="7.34" height="6.36" fill="#dcedf8"/><rect x="1056.73" y="671.86" width="63.69" height="6.36" fill="#b0d6f0"/><rect x="1120.12" y="671.86" width="7.34" height="6.36" fill="#dcedf8"/><rect x="1197.59" y="671.86" width="28.47" height="6.36" fill="#fbe1e3"/><rect x="1253.93" y="671.86" width="28.47" height="6.36" fill="#f3a0a4"/><rect x="1035.60" y="677.92" width="21.43" height="6.36" fill="#dcedf8"/><rect x="1056.73" y="677.92" width="56.64" height="6.36" fill="#74b7e4"/><rect x="1134.20" y="677.92" width="35.52" height="6.36" fill="#fbe1e3"/><rect x="1190.55" y="677.92" width="42.56" height="6.36" fill="#f8c6c9"/><rect x="1239.85" y="677.92" width="28.47" height="6.36" fill="#f3a0a4"/><rect x="1084.90" y="683.98" width="28.47" height="6.36" fill="#fbe1e3"/><rect x="1232.80" y="683.98" width="49.60" height="6.36" fill="#dcedf8"/><rect x="1035.60" y="690.04" width="21.43" height="6.36" fill="#74b7e4"/><rect x="1091.94" y="690.04" width="35.52" height="6.36" fill="#dcedf8"/><rect x="1127.16" y="690.04" width="28.47" height="6.36" fill="#f3a0a4"/><rect x="1155.33" y="690.04" width="7.34" height="6.36" fill="#f8c6c9"/><rect x="1162.37" y="690.04" width="21.43" height="6.36" fill="#e9575d"/><rect x="1183.50" y="690.04" width="14.39" height="6.36" fill="#f8c6c9"/><rect x="1197.59" y="690.04" width="7.34" height="6.36" fill="#dcedf8"/><rect x="1246.89" y="690.04" width="35.52" height="6.36" fill="#74b7e4"/><rect x="1106.03" y="696.10" width="98.90" height="6.36" fill="#fbe1e3"/><rect x="1225.76" y="696.10" width="21.43" height="6.36" fill="#dcedf8"/><rect x="1035.60" y="702.16" width="7.34" height="6.36" fill="#fbe1e3"/><rect x="1042.64" y="702.16" width="7.34" height="6.36" fill="#dcedf8"/><rect x="1049.69" y="702.16" width="7.34" height="6.36" fill="#f3a0a4"/><rect x="1056.73" y="702.16" width="42.56" height="6.36" fill="#b0d6f0"/><rect x="1127.16" y="702.16" width="14.39" height="6.36" fill="#fbe1e3"/><rect x="1169.42" y="702.16" width="7.34" height="6.36" fill="#b0d6f0"/><rect x="1197.59" y="702.16" width="14.39" height="6.36" fill="#ee7d82"/><rect x="1211.67" y="702.16" width="21.43" height="6.36" fill="#f8c6c9"/><rect x="1246.89" y="702.16" width="21.43" height="6.36" fill="#f8c6c9"/><rect x="1268.02" y="702.16" width="7.34" height="6.36" fill="#dcedf8"/><rect x="1275.06" y="702.16" width="7.34" height="6.36" fill="#74b7e4"/><rect x="1063.77" y="708.22" width="35.52" height="6.36" fill="#dcedf8"/><rect x="1127.16" y="708.22" width="14.39" height="6.36" fill="#dcedf8"/><rect x="1141.24" y="708.22" width="42.56" height="6.36" fill="#fbe1e3"/><rect x="1183.50" y="708.22" width="49.60" height="6.36" fill="#f8c6c9"/><rect x="1232.80" y="708.22" width="21.43" height="6.36" fill="#f3a0a4"/><rect x="1035.60" y="714.28" width="7.34" height="6.36" fill="#dcedf8"/><rect x="1042.64" y="714.28" width="21.43" height="6.36" fill="#74b7e4"/><rect x="1063.77" y="714.28" width="21.43" height="6.36" fill="#3b98d6"/><rect x="1084.90" y="714.28" width="28.47" height="6.36" fill="#74b7e4"/><rect x="1113.07" y="714.28" width="14.39" height="6.36" fill="#3b98d6"/><rect x="1134.20" y="714.28" width="35.52" height="6.36" fill="#fbe1e3"/><rect x="1190.55" y="714.28" width="21.43" height="6.36" fill="#fbe1e3"/><rect x="1211.67" y="714.28" width="14.39" height="6.36" fill="#ee7d82"/><rect x="1225.76" y="714.28" width="7.34" height="6.36" fill="#e9575d"/><rect x="1232.80" y="714.28" width="7.34" height="6.36" fill="#f3a0a4"/><rect x="1239.85" y="714.28" width="7.34" height="6.36" fill="#ee7d82"/><rect x="1246.89" y="714.28" width="14.39" height="6.36" fill="#f3a0a4"/><rect x="1275.06" y="714.28" width="7.34" height="6.36" fill="#b0d6f0"/><rect x="1035.60" y="720.34" width="14.39" height="6.36" fill="#dcedf8"/><rect x="1049.69" y="720.34" width="35.52" height="6.36" fill="#b0d6f0"/><rect x="1084.90" y="720.34" width="14.39" height="6.36" fill="#3b98d6"/><rect x="1098.99" y="720.34" width="35.52" height="6.36" fill="#dcedf8"/><rect x="1134.20" y="720.34" width="21.43" height="6.36" fill="#fbe1e3"/><rect x="1155.33" y="720.34" width="21.43" height="6.36" fill="#ee7d82"/><rect x="1176.46" y="720.34" width="49.60" height="6.36" fill="#f3a0a4"/><rect x="1225.76" y="720.34" width="7.34" height="6.36" fill="#fbe1e3"/><rect x="1268.02" y="720.34" width="14.39" height="6.36" fill="#b0d6f0"/><rect x="1042.64" y="726.40" width="42.56" height="6.36" fill="#dcedf8"/><rect x="1084.90" y="726.40" width="42.56" height="6.36" fill="#fbe1e3"/><rect x="1183.50" y="726.40" width="14.39" height="6.36" fill="#f8c6c9"/><rect x="1197.59" y="726.40" width="14.39" height="6.36" fill="#e9575d"/><rect x="1211.67" y="726.40" width="14.39" height="6.36" fill="#f8c6c9"/><rect x="1225.76" y="726.40" width="14.39" height="6.36" fill="#f3a0a4"/><rect x="1246.89" y="726.40" width="35.52" height="6.36" fill="#dcedf8"/><rect x="1035.60" y="732.46" width="21.43" height="6.36" fill="#dcedf8"/><rect x="1056.73" y="732.46" width="21.43" height="6.36" fill="#3b98d6"/><rect x="1077.86" y="732.46" width="28.47" height="6.36" fill="#dcedf8"/><rect x="1106.03" y="732.46" width="21.43" height="6.36" fill="#3b98d6"/><rect x="1127.16" y="732.46" width="7.34" height="6.36" fill="#dcedf8"/><rect x="1155.33" y="732.46" width="42.56" height="6.36" fill="#f3a0a4"/><rect x="1197.59" y="732.46" width="28.47" height="6.36" fill="#ee7d82"/><rect x="1225.76" y="732.46" width="14.39" height="6.36" fill="#f3a0a4"/><rect x="1239.85" y="732.46" width="7.34" height="6.36" fill="#ee7d82"/><rect x="1246.89" y="732.46" width="14.39" height="6.36" fill="#f8c6c9"/><rect x="1042.64" y="738.52" width="7.34" height="6.36" fill="#fbe1e3"/><rect x="1049.69" y="738.52" width="7.34" height="6.36" fill="#dcedf8"/><rect x="1056.73" y="738.52" width="28.47" height="6.36" fill="#3b98d6"/><rect x="1084.90" y="738.52" width="14.39" height="6.36" fill="#b0d6f0"/><rect x="1098.99" y="738.52" width="14.39" height="6.36" fill="#dcedf8"/><rect x="1113.07" y="738.52" width="7.34" height="6.36" fill="#b0d6f0"/><rect x="1120.12" y="738.52" width="7.34" height="6.36" fill="#74b7e4"/><rect x="1148.29" y="738.52" width="21.43" height="6.36" fill="#b0d6f0"/><rect x="1169.42" y="738.52" width="28.47" height="6.36" fill="#fbe1e3"/><rect x="1197.59" y="738.52" width="14.39" height="6.36" fill="#f3a0a4"/><rect x="1211.67" y="738.52" width="14.39" height="6.36" fill="#f8c6c9"/><rect x="1225.76" y="738.52" width="14.39" height="6.36" fill="#fbe1e3"/><rect x="1035.60" y="744.58" width="7.34" height="6.36" fill="#fbe1e3"/><rect x="1063.77" y="744.58" width="21.43" height="6.36" fill="#fbe1e3"/><rect x="1232.80" y="744.58" width="7.34" height="6.36" fill="#dcedf8"/><rect x="1049.69" y="750.64" width="7.34" height="6.36" fill="#74b7e4"/><rect x="1056.73" y="750.64" width="21.43" height="6.36" fill="#3b98d6"/><rect x="1077.86" y="750.64" width="7.34" height="6.36" fill="#b0d6f0"/><rect x="1084.90" y="750.64" width="21.43" height="6.36" fill="#dcedf8"/><rect x="1106.03" y="750.64" width="14.39" height="6.36" fill="#b0d6f0"/><rect x="1120.12" y="750.64" width="28.47" height="6.36" fill="#dcedf8"/><rect x="1148.29" y="750.64" width="21.43" height="6.36" fill="#fbe1e3"/><rect x="1169.42" y="750.64" width="35.52" height="6.36" fill="#ee7d82"/><rect x="1204.63" y="750.64" width="7.34" height="6.36" fill="#e9575d"/><rect x="1211.67" y="750.64" width="21.43" height="6.36" fill="#f8c6c9"/><rect x="1268.02" y="750.64" width="14.39" height="6.36" fill="#3b98d6"/><rect x="1035.60" y="756.70" width="7.34" height="6.36" fill="#f3a0a4"/><rect x="1063.77" y="756.70" width="21.43" height="6.36" fill="#f8c6c9"/><rect x="1091.94" y="756.70" width="14.39" height="6.36" fill="#74b7e4"/><rect x="1106.03" y="756.70" width="42.56" height="6.36" fill="#1a7fc8"/><rect x="1148.29" y="756.70" width="21.43" height="6.36" fill="#f8c6c9"/><rect x="1169.42" y="756.70" width="28.47" height="6.36" fill="#e9575d"/><rect x="1197.59" y="756.70" width="14.39" height="6.36" fill="#f8c6c9"/><rect x="1218.72" y="756.70" width="7.34" height="6.36" fill="#f8c6c9"/><rect x="1246.89" y="756.70" width="21.43" height="6.36" fill="#dcedf8"/><rect x="1275.06" y="756.70" width="7.34" height="6.36" fill="#f8c6c9"/><rect x="1120.12" y="762.76" width="28.47" height="6.36" fill="#b0d6f0"/><rect x="1169.42" y="762.76" width="21.43" height="6.36" fill="#dcedf8"/><rect x="1211.67" y="762.76" width="70.73" height="6.36" fill="#fbe1e3"/><rect x="1056.73" y="768.82" width="21.43" height="6.36" fill="#dcedf8"/><rect x="1077.86" y="768.82" width="7.34" height="6.36" fill="#e9575d"/><rect x="1084.90" y="768.82" width="28.47" height="6.36" fill="#f8c6c9"/><rect x="1113.07" y="768.82" width="21.43" height="6.36" fill="#b0d6f0"/><rect x="1134.20" y="768.82" width="42.56" height="6.36" fill="#fbe1e3"/><rect x="1176.46" y="768.82" width="28.47" height="6.36" fill="#f8c6c9"/><rect x="1218.72" y="768.82" width="63.69" height="6.36" fill="#b0d6f0"/><rect x="1035.60" y="774.88" width="7.34" height="6.36" fill="#dcedf8"/><rect x="1049.69" y="774.88" width="7.34" height="6.36" fill="#b0d6f0"/><rect x="1056.73" y="774.88" width="49.60" height="6.36" fill="#dcedf8"/><rect x="1106.03" y="774.88" width="28.47" height="6.36" fill="#fbe1e3"/><rect x="1134.20" y="774.88" width="14.39" height="6.36" fill="#dcedf8"/><rect x="1148.29" y="774.88" width="49.60" height="6.36" fill="#fbe1e3"/><rect x="1260.98" y="774.88" width="14.39" height="6.36" fill="#fbe1e3"/><rect x="1042.64" y="780.94" width="14.39" height="6.36" fill="#fbe1e3"/><rect x="1077.86" y="780.94" width="28.47" height="6.36" fill="#fbe1e3"/><rect x="1134.20" y="780.94" width="21.43" height="6.36" fill="#b0d6f0"/><rect x="1169.42" y="780.94" width="35.52" height="6.36" fill="#fbe1e3"/><rect x="1204.63" y="780.94" width="14.39" height="6.36" fill="#f8c6c9"/><rect x="1049.69" y="787.00" width="21.43" height="6.36" fill="#b0d6f0"/><rect x="1070.81" y="787.00" width="21.43" height="6.36" fill="#dcedf8"/><rect x="1134.20" y="787.00" width="14.39" height="6.36" fill="#dcedf8"/><rect x="1190.55" y="787.00" width="70.73" height="6.36" fill="#fbe1e3"/><rect x="1049.69" y="793.06" width="42.56" height="6.36" fill="#dcedf8"/><rect x="1091.94" y="793.06" width="28.47" height="6.36" fill="#b0d6f0"/><rect x="1120.12" y="793.06" width="14.39" height="6.36" fill="#74b7e4"/><rect x="1134.20" y="793.06" width="14.39" height="6.36" fill="#dcedf8"/><rect x="1190.55" y="793.06" width="21.43" height="6.36" fill="#fbe1e3"/><rect x="1211.67" y="793.06" width="28.47" height="6.36" fill="#f8c6c9"/><rect x="1239.85" y="793.06" width="21.43" height="6.36" fill="#f3a0a4"/><rect x="1260.98" y="793.06" width="7.34" height="6.36" fill="#f8c6c9"/><rect x="1035.60" y="799.12" width="7.34" height="6.36" fill="#dcedf8"/><rect x="1063.77" y="799.12" width="21.43" height="6.36" fill="#b0d6f0"/><rect x="1098.99" y="799.12" width="14.39" height="6.36" fill="#fbe1e3"/><rect x="1134.20" y="799.12" width="7.34" height="6.36" fill="#fbe1e3"/><rect x="1176.46" y="799.12" width="14.39" height="6.36" fill="#ee7d82"/><rect x="1225.76" y="799.12" width="28.47" height="6.36" fill="#dcedf8"/><rect x="1056.73" y="805.18" width="21.43" height="6.36" fill="#b0d6f0"/><rect x="1077.86" y="805.18" width="21.43" height="6.36" fill="#dcedf8"/><rect x="1098.99" y="805.18" width="21.43" height="6.36" fill="#b0d6f0"/><rect x="1120.12" y="805.18" width="21.43" height="6.36" fill="#74b7e4"/><rect x="1148.29" y="805.18" width="21.43" height="6.36" fill="#fbe1e3"/><rect x="1176.46" y="805.18" width="28.47" height="6.36" fill="#f3a0a4"/><rect x="1204.63" y="805.18" width="21.43" height="6.36" fill="#fbe1e3"/><rect x="1225.76" y="805.18" width="21.43" height="6.36" fill="#f3a0a4"/><rect x="1260.98" y="805.18" width="14.39" height="6.36" fill="#dcedf8"/><rect x="1113.07" y="811.24" width="21.43" height="6.36" fill="#f8c6c9"/><rect x="1197.59" y="811.24" width="7.34" height="6.36" fill="#dcedf8"/><rect x="1049.69" y="817.30" width="21.43" height="6.36" fill="#f8c6c9"/><rect x="1106.03" y="817.30" width="14.39" height="6.36" fill="#74b7e4"/><rect x="1120.12" y="817.30" width="77.77" height="6.36" fill="#dcedf8"/><rect x="1204.63" y="817.30" width="7.34" height="6.36" fill="#fbe1e3"/><rect x="1211.67" y="817.30" width="7.34" height="6.36" fill="#f3a0a4"/><rect x="1218.72" y="817.30" width="14.39" height="6.36" fill="#f8c6c9"/><rect x="1232.80" y="817.30" width="7.34" height="6.36" fill="#dcedf8"/><rect x="1239.85" y="817.30" width="28.47" height="6.36" fill="#f8c6c9"/><rect x="1035.60" y="823.36" width="7.34" height="6.36" fill="#fbe1e3"/><rect x="1070.81" y="823.36" width="21.43" height="6.36" fill="#fbe1e3"/><rect x="1204.63" y="823.36" width="14.39" height="6.36" fill="#fbe1e3"/><rect x="1253.93" y="823.36" width="28.47" height="6.36" fill="#dcedf8"/><rect x="1035.60" y="829.42" width="28.47" height="6.36" fill="#dcedf8"/><rect x="1063.77" y="829.42" width="28.47" height="6.36" fill="#1a7fc8"/><rect x="1091.94" y="829.42" width="35.52" height="6.36" fill="#b0d6f0"/><rect x="1127.16" y="829.42" width="7.34" height="6.36" fill="#fbe1e3"/><rect x="1134.20" y="829.42" width="14.39" height="6.36" fill="#f3a0a4"/><rect x="1162.37" y="829.42" width="14.39" height="6.36" fill="#fbe1e3"/><rect x="1176.46" y="829.42" width="21.43" height="6.36" fill="#f3a0a4"/><rect x="1197.59" y="829.42" width="14.39" height="6.36" fill="#fbe1e3"/><rect x="1211.67" y="829.42" width="21.43" height="6.36" fill="#ee7d82"/><rect x="1232.80" y="829.42" width="21.43" height="6.36" fill="#f8c6c9"/><rect x="1253.93" y="829.42" width="14.39" height="6.36" fill="#f3a0a4"/><rect x="1268.02" y="829.42" width="14.39" height="6.36" fill="#fbe1e3"/><rect x="1035.60" y="835.48" width="21.43" height="6.36" fill="#dcedf8"/><rect x="1056.73" y="835.48" width="35.52" height="6.36" fill="#74b7e4"/><rect x="1091.94" y="835.48" width="21.43" height="6.36" fill="#b0d6f0"/><rect x="1134.20" y="835.48" width="35.52" height="6.36" fill="#fbe1e3"/><rect x="1169.42" y="835.48" width="14.39" height="6.36" fill="#dcedf8"/><rect x="1183.50" y="835.48" width="21.43" height="6.36" fill="#f8c6c9"/><rect x="1211.67" y="835.48" width="14.39" height="6.36" fill="#f8c6c9"/><rect x="1225.76" y="835.48" width="49.60" height="6.36" fill="#f3a0a4"/><rect x="1275.06" y="835.48" width="7.34" height="6.36" fill="#fbe1e3"/><rect x="1035.60" y="841.54" width="21.43" height="6.36" fill="#dcedf8"/><rect x="1056.73" y="841.54" width="14.39" height="6.36" fill="#74b7e4"/><rect x="1070.81" y="841.54" width="56.64" height="6.36" fill="#b0d6f0"/><rect x="1134.20" y="841.54" width="21.43" height="6.36" fill="#b0d6f0"/><rect x="1155.33" y="841.54" width="21.43" height="6.36" fill="#f3a0a4"/><rect x="1183.50" y="841.54" width="21.43" height="6.36" fill="#f3a0a4"/><rect x="1204.63" y="841.54" width="28.47" height="6.36" fill="#ee7d82"/><rect x="1232.80" y="841.54" width="7.34" height="6.36" fill="#fbe1e3"/><rect x="1239.85" y="841.54" width="7.34" height="6.36" fill="#f3a0a4"/><rect x="1246.89" y="841.54" width="14.39" height="6.36" fill="#e9575d"/><rect x="1260.98" y="841.54" width="21.43" height="6.36" fill="#fbe1e3"/><rect x="1098.99" y="847.60" width="21.43" height="6.36" fill="#dcedf8"/><rect x="1120.12" y="847.60" width="7.34" height="6.36" fill="#74b7e4"/><rect x="1127.16" y="847.60" width="21.43" height="6.36" fill="#dcedf8"/><rect x="1190.55" y="847.60" width="56.64" height="6.36" fill="#fbe1e3"/><rect x="1246.89" y="847.60" width="14.39" height="6.36" fill="#f8c6c9"/><rect x="1260.98" y="847.60" width="21.43" height="6.36" fill="#fbe1e3"/><rect x="1035.60" y="853.66" width="7.34" height="6.36" fill="#fbe1e3"/><rect x="1042.64" y="853.66" width="7.34" height="6.36" fill="#f8c6c9"/><rect x="1070.81" y="853.66" width="49.60" height="6.36" fill="#dcedf8"/><rect x="1120.12" y="853.66" width="28.47" height="6.36" fill="#3b98d6"/><rect x="1148.29" y="853.66" width="7.34" height="6.36" fill="#dcedf8"/><rect x="1155.33" y="853.66" width="14.39" height="6.36" fill="#f8c6c9"/><rect x="1204.63" y="853.66" width="14.39" height="6.36" fill="#f8c6c9"/><rect x="1218.72" y="853.66" width="28.47" height="6.36" fill="#f3a0a4"/><rect x="1246.89" y="853.66" width="14.39" height="6.36" fill="#ee7d82"/><rect x="1260.98" y="853.66" width="7.34" height="6.36" fill="#fbe1e3"/><rect x="1268.02" y="853.66" width="14.39" height="6.36" fill="#74b7e4"/><rect x="1035.60" y="859.72" width="14.39" height="6.36" fill="#b0d6f0"/><rect x="1049.69" y="859.72" width="7.34" height="6.36" fill="#dcedf8"/><rect x="1091.94" y="859.72" width="7.34" height="6.36" fill="#b0d6f0"/><rect x="1120.12" y="859.72" width="14.39" height="6.36" fill="#dcedf8"/><rect x="1134.20" y="859.72" width="14.39" height="6.36" fill="#b0d6f0"/><rect x="1155.33" y="859.72" width="21.43" height="6.36" fill="#fbe1e3"/><rect x="1190.55" y="859.72" width="35.52" height="6.36" fill="#f3a0a4"/><rect x="1225.76" y="859.72" width="7.34" height="6.36" fill="#fbe1e3"/><rect x="1232.80" y="859.72" width="35.52" height="6.36" fill="#f8c6c9"/><rect x="1268.02" y="859.72" width="14.39" height="6.36" fill="#dcedf8"/><rect x="1091.94" y="865.78" width="14.39" height="6.36" fill="#dcedf8"/><rect x="1106.03" y="865.78" width="14.39" height="6.36" fill="#f8c6c9"/><rect x="1127.16" y="865.78" width="7.34" height="6.36" fill="#b0d6f0"/><rect x="1134.20" y="865.78" width="14.39" height="6.36" fill="#dcedf8"/><rect x="1190.55" y="865.78" width="28.47" height="6.36" fill="#fbe1e3"/><rect x="1232.80" y="865.78" width="14.39" height="6.36" fill="#fbe1e3"/><rect x="1049.69" y="871.84" width="21.43" height="6.36" fill="#fbe1e3"/><rect x="1098.99" y="871.84" width="21.43" height="6.36" fill="#dcedf8"/><rect x="1120.12" y="871.84" width="28.47" height="6.36" fill="#b0d6f0"/><rect x="1155.33" y="871.84" width="21.43" height="6.36" fill="#f8c6c9"/><rect x="1211.67" y="871.84" width="7.34" height="6.36" fill="#dcedf8"/><rect x="1246.89" y="871.84" width="28.47" height="6.36" fill="#f8c6c9"/><rect x="1056.73" y="877.90" width="21.43" height="6.36" fill="#fbe1e3"/><rect x="1084.90" y="877.90" width="7.34" height="6.36" fill="#fbe1e3"/><rect x="1120.12" y="877.90" width="49.60" height="6.36" fill="#dcedf8"/><rect x="1204.63" y="877.90" width="7.34" height="6.36" fill="#fbe1e3"/><rect x="1218.72" y="877.90" width="7.34" height="6.36" fill="#fbe1e3"/><rect x="1035.60" y="883.96" width="7.34" height="6.36" fill="#fbe1e3"/><rect x="1042.64" y="883.96" width="14.39" height="6.36" fill="#f8c6c9"/><rect x="1056.73" y="883.96" width="14.39" height="6.36" fill="#dcedf8"/><rect x="1091.94" y="883.96" width="14.39" height="6.36" fill="#f8c6c9"/><rect x="1113.07" y="883.96" width="21.43" height="6.36" fill="#dcedf8"/><rect x="1134.20" y="883.96" width="7.34" height="6.36" fill="#b0d6f0"/><rect x="1148.29" y="883.96" width="7.34" height="6.36" fill="#b0d6f0"/><rect x="1176.46" y="883.96" width="14.39" height="6.36" fill="#fbe1e3"/><rect x="1197.59" y="883.96" width="7.34" height="6.36" fill="#b0d6f0"/><rect x="1211.67" y="883.96" width="7.34" height="6.36" fill="#dcedf8"/><rect x="1070.81" y="890.02" width="70.73" height="6.36" fill="#dcedf8"/><rect x="1141.24" y="890.02" width="7.34" height="6.36" fill="#b0d6f0"/><rect x="1176.46" y="890.02" width="14.39" height="6.36" fill="#dcedf8"/><rect x="1190.55" y="890.02" width="21.43" height="6.36" fill="#fbe1e3"/><rect x="1211.67" y="890.02" width="28.47" height="6.36" fill="#f8c6c9"/><rect x="1239.85" y="890.02" width="14.39" height="6.36" fill="#fbe1e3"/><rect x="1253.93" y="890.02" width="14.39" height="6.36" fill="#f8c6c9"/><rect x="1268.02" y="890.02" width="14.39" height="6.36" fill="#fbe1e3"/><rect x="1070.81" y="896.08" width="63.69" height="6.36" fill="#b0d6f0"/><rect x="1134.20" y="896.08" width="35.52" height="6.36" fill="#dcedf8"/><rect x="1169.42" y="896.08" width="7.34" height="6.36" fill="#fbe1e3"/><rect x="1197.59" y="896.08" width="42.56" height="6.36" fill="#f8c6c9"/><rect x="1239.85" y="896.08" width="14.39" height="6.36" fill="#fbe1e3"/><rect x="1253.93" y="896.08" width="28.47" height="6.36" fill="#f8c6c9"/><rect x="1035.60" y="902.14" width="7.34" height="6.36" fill="#fbe1e3"/><rect x="1063.77" y="902.14" width="56.64" height="6.36" fill="#dcedf8"/><rect x="1141.24" y="902.14" width="7.34" height="6.36" fill="#dcedf8"/><rect x="1155.33" y="902.14" width="21.43" height="6.36" fill="#dcedf8"/><rect x="1239.85" y="902.14" width="42.56" height="6.36" fill="#f8c6c9"/><rect x="1077.86" y="908.20" width="42.56" height="6.36" fill="#dcedf8"/><rect x="1204.63" y="908.20" width="14.39" height="6.36" fill="#fbe1e3"/><rect x="1232.80" y="908.20" width="49.60" height="6.36" fill="#fbe1e3"/><rect x="1049.69" y="914.26" width="49.60" height="6.36" fill="#f8c6c9"/><rect x="1120.12" y="914.26" width="21.43" height="6.36" fill="#3b98d6"/><rect x="1141.24" y="914.26" width="28.47" height="6.36" fill="#b0d6f0"/><rect x="1190.55" y="914.26" width="21.43" height="6.36" fill="#b0d6f0"/><rect x="1239.85" y="914.26" width="14.39" height="6.36" fill="#fbe1e3"/><rect x="1275.06" y="914.26" width="7.34" height="6.36" fill="#f8c6c9"/><rect x="1141.24" y="920.32" width="42.56" height="6.36" fill="#dcedf8"/><rect x="1239.85" y="920.32" width="42.56" height="6.36" fill="#fbe1e3"/></g>
<rect x="152.40" y="381.00" width="247.50" height="56.20" fill="#93cbec"/>
<rect x="757.70" y="380.90" width="246.90" height="56.10" fill="#f8d6db"/>
<text class="b" transform="translate(45.58,419.28) scale(1.018,1)" font-size="32.11">b</text>
<text class="b" transform="translate(443.47,419.86) scale(0.982,1)" font-size="33.82">c</text>
<text class="b" transform="translate(724.07,419.28) scale(1.032,1)" font-size="32.24">d</text>
<text class="b" transform="translate(1034.68,419.76) scale(1.053,1)" font-size="33.64">e</text>
<text class="r" transform="translate(161.45,403.26) scale(1.024,1)" font-size="27.81">sorted by maximal</text>
<text class="r" transform="translate(167.90,431.81) scale(1.035,1)" font-size="27.59">hyperpolarization</text>
<text class="r" transform="translate(768.84,403.32) scale(1.058,1)" font-size="27.06">sorted by maximal</text>
<text class="r" transform="translate(795.55,431.41) scale(1.076,1)" font-size="26.63">depolarization</text>
<text class="i" transform="translate(231.30,473.18) scale(1.031,1)" font-size="27.70">during</text>
<text class="i" transform="translate(546.83,473.72) scale(1.004,1)" font-size="28.44" style="fill:#8e1b5c">after</text>
<text class="i" transform="translate(817.10,473.18) scale(1.034,1)" font-size="27.70">during</text>
<text class="i" transform="translate(1128.03,473.72) scale(1.011,1)" font-size="28.44" style="fill:#8e1b5c">after</text>
<line x1="152.30" y1="924.40" x2="400.20" y2="924.40" stroke="#1a1a1a" stroke-width="1.9"/>
<line x1="156.70" y1="924.40" x2="156.70" y2="917.40" stroke="#1a1a1a" stroke-width="1.9"/>
<line x1="184.88" y1="924.40" x2="184.88" y2="917.40" stroke="#1a1a1a" stroke-width="1.9"/>
<line x1="213.05" y1="924.40" x2="213.05" y2="917.40" stroke="#1a1a1a" stroke-width="1.9"/>
<line x1="241.22" y1="924.40" x2="241.22" y2="917.40" stroke="#1a1a1a" stroke-width="1.9"/>
<line x1="269.40" y1="924.40" x2="269.40" y2="917.40" stroke="#1a1a1a" stroke-width="1.9"/>
<line x1="297.57" y1="924.40" x2="297.57" y2="917.40" stroke="#1a1a1a" stroke-width="1.9"/>
<line x1="325.75" y1="924.40" x2="325.75" y2="917.40" stroke="#1a1a1a" stroke-width="1.9"/>
<line x1="353.92" y1="924.40" x2="353.92" y2="917.40" stroke="#1a1a1a" stroke-width="1.9"/>
<line x1="382.10" y1="924.40" x2="382.10" y2="917.40" stroke="#1a1a1a" stroke-width="1.9"/>
<line x1="447.00" y1="924.40" x2="694.80" y2="924.40" stroke="#1a1a1a" stroke-width="1.9"/>
<line x1="450.40" y1="924.40" x2="450.40" y2="917.40" stroke="#1a1a1a" stroke-width="1.9"/>
<line x1="478.60" y1="924.40" x2="478.60" y2="917.40" stroke="#1a1a1a" stroke-width="1.9"/>
<line x1="506.80" y1="924.40" x2="506.80" y2="917.40" stroke="#1a1a1a" stroke-width="1.9"/>
<line x1="535.00" y1="924.40" x2="535.00" y2="917.40" stroke="#1a1a1a" stroke-width="1.9"/>
<line x1="563.20" y1="924.40" x2="563.20" y2="917.40" stroke="#1a1a1a" stroke-width="1.9"/>
<line x1="591.40" y1="924.40" x2="591.40" y2="917.40" stroke="#1a1a1a" stroke-width="1.9"/>
<line x1="619.60" y1="924.40" x2="619.60" y2="917.40" stroke="#1a1a1a" stroke-width="1.9"/>
<line x1="647.80" y1="924.40" x2="647.80" y2="917.40" stroke="#1a1a1a" stroke-width="1.9"/>
<line x1="676.00" y1="924.40" x2="676.00" y2="917.40" stroke="#1a1a1a" stroke-width="1.9"/>
<line x1="753.80" y1="926.40" x2="1000.60" y2="926.40" stroke="#1a1a1a" stroke-width="1.9"/>
<line x1="757.40" y1="926.40" x2="757.40" y2="919.40" stroke="#1a1a1a" stroke-width="1.9"/>
<line x1="785.54" y1="926.40" x2="785.54" y2="919.40" stroke="#1a1a1a" stroke-width="1.9"/>
<line x1="813.68" y1="926.40" x2="813.68" y2="919.40" stroke="#1a1a1a" stroke-width="1.9"/>
<line x1="841.82" y1="926.40" x2="841.82" y2="919.40" stroke="#1a1a1a" stroke-width="1.9"/>
<line x1="869.96" y1="926.40" x2="869.96" y2="919.40" stroke="#1a1a1a" stroke-width="1.9"/>
<line x1="898.10" y1="926.40" x2="898.10" y2="919.40" stroke="#1a1a1a" stroke-width="1.9"/>
<line x1="926.24" y1="926.40" x2="926.24" y2="919.40" stroke="#1a1a1a" stroke-width="1.9"/>
<line x1="954.38" y1="926.40" x2="954.38" y2="919.40" stroke="#1a1a1a" stroke-width="1.9"/>
<line x1="982.52" y1="926.40" x2="982.52" y2="919.40" stroke="#1a1a1a" stroke-width="1.9"/>
<line x1="1035.00" y1="926.60" x2="1283.20" y2="926.60" stroke="#1a1a1a" stroke-width="1.9"/>
<line x1="1039.10" y1="926.60" x2="1039.10" y2="919.60" stroke="#1a1a1a" stroke-width="1.9"/>
<line x1="1067.35" y1="926.60" x2="1067.35" y2="919.60" stroke="#1a1a1a" stroke-width="1.9"/>
<line x1="1095.60" y1="926.60" x2="1095.60" y2="919.60" stroke="#1a1a1a" stroke-width="1.9"/>
<line x1="1123.85" y1="926.60" x2="1123.85" y2="919.60" stroke="#1a1a1a" stroke-width="1.9"/>
<line x1="1152.10" y1="926.60" x2="1152.10" y2="919.60" stroke="#1a1a1a" stroke-width="1.9"/>
<line x1="1180.35" y1="926.60" x2="1180.35" y2="919.60" stroke="#1a1a1a" stroke-width="1.9"/>
<line x1="1208.60" y1="926.60" x2="1208.60" y2="919.60" stroke="#1a1a1a" stroke-width="1.9"/>
<line x1="1236.85" y1="926.60" x2="1236.85" y2="919.60" stroke="#1a1a1a" stroke-width="1.9"/>
<line x1="1265.10" y1="926.60" x2="1265.10" y2="919.60" stroke="#1a1a1a" stroke-width="1.9"/>
<text class="r" transform="translate(128.23,947.66) scale(1.014,1)" font-size="23.52">-120</text>
<text class="r" transform="translate(262.57,947.66) scale(0.983,1)" font-size="23.52">0</text>
<text class="r" transform="translate(364.07,947.66) scale(0.982,1)" font-size="23.52">120</text>
<text class="r" transform="translate(161.98,970.85) scale(1.027,1)" font-size="23.10">visual cue position (°)</text>
<text class="r" transform="translate(423.73,947.66) scale(1.014,1)" font-size="23.52">-120</text>
<text class="r" transform="translate(556.48,947.66) scale(0.983,1)" font-size="23.52">0</text>
<text class="r" transform="translate(659.63,947.66) scale(0.946,1)" font-size="23.52">120</text>
<text class="r" transform="translate(455.58,970.85) scale(1.027,1)" font-size="23.10">visual cue position (°)</text>
<text class="r" transform="translate(730.83,949.66) scale(1.014,1)" font-size="23.52">-120</text>
<text class="r" transform="translate(862.98,949.66) scale(0.983,1)" font-size="23.52">0</text>
<text class="r" transform="translate(964.99,949.66) scale(0.971,1)" font-size="23.52">120</text>
<text class="r" transform="translate(761.98,972.85) scale(1.027,1)" font-size="23.10">visual cue position (°)</text>
<text class="r" transform="translate(1014.63,949.66) scale(1.014,1)" font-size="23.52">-120</text>
<text class="r" transform="translate(1144.78,949.66) scale(0.983,1)" font-size="23.52">0</text>
<text class="r" transform="translate(1246.78,949.66) scale(0.976,1)" font-size="23.52">120</text>
<text class="r" transform="translate(1044.28,972.85) scale(1.027,1)" font-size="23.10">visual cue position (°)</text>
<defs><linearGradient id="cb" x1="0" y1="0" x2="0" y2="1"><stop offset="0" stop-color="#7e1a1f"/><stop offset="0.125" stop-color="#b81f27"/><stop offset="0.25" stop-color="#e8212b"/><stop offset="0.375" stop-color="#ef7a80"/><stop offset="0.44" stop-color="#f7c4c7"/><stop offset="0.5" stop-color="#ffffff"/><stop offset="0.56" stop-color="#cfe3f4"/><stop offset="0.625" stop-color="#97c3e8"/><stop offset="0.75" stop-color="#4a87c8"/><stop offset="0.875" stop-color="#2f5cae"/><stop offset="1" stop-color="#2c2f86"/></linearGradient><linearGradient id="cb2" x1="0" y1="0" x2="0" y2="1"><stop offset="0" stop-color="#8fbde6"/><stop offset="0.2" stop-color="#ffffff"/><stop offset="0.45" stop-color="#ef9ea2"/><stop offset="0.6" stop-color="#e53a40"/><stop offset="0.73" stop-color="#e51d25"/><stop offset="1" stop-color="#7d1418"/></linearGradient></defs>
<rect x="112.8" y="731.8" width="16.5" height="170.7" fill="url(#cb)" stroke="#111" stroke-width="1.6"/>
<line x1="112.80" y1="752.90" x2="118.30" y2="752.90" stroke="#111" stroke-width="1.6"/>
<line x1="112.80" y1="774.00" x2="118.30" y2="774.00" stroke="#111" stroke-width="1.6"/>
<line x1="112.80" y1="795.30" x2="118.30" y2="795.30" stroke="#111" stroke-width="1.6"/>
<line x1="112.80" y1="816.70" x2="118.30" y2="816.70" stroke="#111" stroke-width="1.6"/>
<line x1="112.80" y1="838.10" x2="118.30" y2="838.10" stroke="#111" stroke-width="1.6"/>
<line x1="112.80" y1="859.90" x2="118.30" y2="859.90" stroke="#111" stroke-width="1.6"/>
<line x1="112.80" y1="881.40" x2="118.30" y2="881.40" stroke="#111" stroke-width="1.6"/>
<text class="r" transform="translate(94.21,738.57) scale(0.937,1)" font-size="23.38">8</text>
<text class="r" transform="translate(84.23,907.77) scale(1.020,1)" font-size="23.38">-8</text>
<text class="r" transform="translate(4.45,808.94) scale(1.099,1)" font-size="21.73">response</text>
<text class="r" transform="translate(27.77,837.96) scale(1.055,1)" font-size="22.57">(mV)</text>
<g fill="#2a2627" stroke="#111" stroke-width="1.1"><rect x="160.40" y="1065.34" width="6.82" height="18.16"/><rect x="167.22" y="1047.18" width="6.82" height="36.32"/><rect x="174.04" y="1065.34" width="6.82" height="18.16"/><rect x="180.86" y="1029.02" width="6.82" height="54.48"/><rect x="187.68" y="992.70" width="6.82" height="90.80"/><rect x="194.50" y="1065.34" width="6.82" height="18.16"/><rect x="201.32" y="1038.10" width="6.82" height="45.40"/><rect x="208.14" y="1065.34" width="6.82" height="18.16"/><rect x="214.96" y="1074.42" width="6.82" height="9.08"/><rect x="228.60" y="1065.34" width="6.82" height="18.16"/><rect x="249.06" y="1074.42" width="6.82" height="9.08"/><rect x="269.52" y="1065.34" width="6.82" height="18.16"/><rect x="276.34" y="1056.26" width="6.82" height="27.24"/><rect x="303.62" y="1074.42" width="6.82" height="9.08"/><rect x="310.44" y="1074.42" width="6.82" height="9.08"/><rect x="317.26" y="1074.42" width="6.82" height="9.08"/><rect x="324.08" y="1065.34" width="6.82" height="18.16"/><rect x="330.90" y="1047.18" width="6.82" height="36.32"/><rect x="337.72" y="1056.26" width="6.82" height="27.24"/><rect x="344.54" y="1029.02" width="6.82" height="54.48"/><rect x="351.36" y="1056.26" width="6.82" height="27.24"/><rect x="358.18" y="1047.18" width="6.82" height="36.32"/><rect x="365.00" y="1047.18" width="6.82" height="36.32"/><rect x="392.28" y="1065.34" width="6.82" height="18.16"/></g>
<line x1="159.90" y1="1083.50" x2="399.60" y2="1083.50" stroke="#1a1a1a" stroke-width="2.0"/>
<line x1="149.90" y1="993.20" x2="149.90" y2="1083.30" stroke="#1a1a1a" stroke-width="1.7"/>
<line x1="149.90" y1="993.20" x2="152.90" y2="993.20" stroke="#1a1a1a" stroke-width="1.7"/>
<line x1="149.90" y1="1083.30" x2="152.90" y2="1083.30" stroke="#1a1a1a" stroke-width="1.7"/>
<g fill="#9c2063" stroke="#111" stroke-width="1.1"><rect x="449.70" y="1075.12" width="6.84" height="9.08"/><rect x="456.54" y="1075.12" width="6.84" height="9.08"/><rect x="463.38" y="1075.12" width="6.84" height="9.08"/><rect x="470.22" y="1066.04" width="6.84" height="18.16"/><rect x="477.06" y="1056.96" width="6.84" height="27.24"/><rect x="483.90" y="1066.04" width="6.84" height="18.16"/><rect x="490.74" y="1056.96" width="6.84" height="27.24"/><rect x="497.58" y="1047.88" width="6.84" height="36.32"/><rect x="504.42" y="1075.12" width="6.84" height="9.08"/><rect x="511.26" y="1066.04" width="6.84" height="18.16"/><rect x="518.10" y="1066.04" width="6.84" height="18.16"/><rect x="531.78" y="1020.64" width="6.84" height="63.56"/><rect x="538.62" y="1047.88" width="6.84" height="36.32"/><rect x="545.46" y="1029.72" width="6.84" height="54.48"/><rect x="552.30" y="1047.88" width="6.84" height="36.32"/><rect x="559.14" y="1066.04" width="6.84" height="18.16"/><rect x="565.98" y="1075.12" width="6.84" height="9.08"/><rect x="572.82" y="1066.04" width="6.84" height="18.16"/><rect x="579.66" y="1075.12" width="6.84" height="9.08"/><rect x="600.18" y="1066.04" width="6.84" height="18.16"/><rect x="607.02" y="1075.12" width="6.84" height="9.08"/><rect x="613.86" y="1075.12" width="6.84" height="9.08"/><rect x="620.70" y="1066.04" width="6.84" height="18.16"/><rect x="627.54" y="1066.04" width="6.84" height="18.16"/><rect x="634.38" y="1038.80" width="6.84" height="45.40"/><rect x="641.22" y="1066.04" width="6.84" height="18.16"/><rect x="648.06" y="1075.12" width="6.84" height="9.08"/><rect x="654.90" y="1075.12" width="6.84" height="9.08"/><rect x="668.58" y="1066.04" width="6.84" height="18.16"/><rect x="675.42" y="1075.12" width="6.84" height="9.08"/><rect x="682.26" y="1047.88" width="6.84" height="36.32"/></g>
<line x1="449.20" y1="1084.20" x2="689.60" y2="1084.20" stroke="#1a1a1a" stroke-width="2.0"/>
<line x1="439.80" y1="994.70" x2="439.80" y2="1084.20" stroke="#1a1a1a" stroke-width="1.7"/>
<line x1="439.80" y1="994.70" x2="442.80" y2="994.70" stroke="#1a1a1a" stroke-width="1.7"/>
<line x1="439.80" y1="1084.20" x2="442.80" y2="1084.20" stroke="#1a1a1a" stroke-width="1.7"/>
<g fill="#2a2627" stroke="#111" stroke-width="1.1"><rect x="760.20" y="1057.76" width="6.80" height="27.24"/><rect x="767.00" y="1066.84" width="6.80" height="18.16"/><rect x="780.60" y="1066.84" width="6.80" height="18.16"/><rect x="787.40" y="1075.92" width="6.80" height="9.08"/><rect x="794.20" y="1057.76" width="6.80" height="27.24"/><rect x="801.00" y="1075.92" width="6.80" height="9.08"/><rect x="807.80" y="1066.84" width="6.80" height="18.16"/><rect x="814.60" y="1030.52" width="6.80" height="54.48"/><rect x="821.40" y="1057.76" width="6.80" height="27.24"/><rect x="828.20" y="1066.84" width="6.80" height="18.16"/><rect x="835.00" y="1075.92" width="6.80" height="9.08"/><rect x="841.80" y="1066.84" width="6.80" height="18.16"/><rect x="848.60" y="1066.84" width="6.80" height="18.16"/><rect x="855.40" y="1075.92" width="6.80" height="9.08"/><rect x="862.20" y="1048.68" width="6.80" height="36.32"/><rect x="869.00" y="1066.84" width="6.80" height="18.16"/><rect x="875.80" y="1066.84" width="6.80" height="18.16"/><rect x="882.60" y="1075.92" width="6.80" height="9.08"/><rect x="889.40" y="1075.92" width="6.80" height="9.08"/><rect x="896.20" y="1057.76" width="6.80" height="27.24"/><rect x="903.00" y="1075.92" width="6.80" height="9.08"/><rect x="909.80" y="1066.84" width="6.80" height="18.16"/><rect x="923.40" y="1066.84" width="6.80" height="18.16"/><rect x="930.20" y="1057.76" width="6.80" height="27.24"/><rect x="937.00" y="1075.92" width="6.80" height="9.08"/><rect x="943.80" y="1057.76" width="6.80" height="27.24"/><rect x="950.60" y="1075.92" width="6.80" height="9.08"/><rect x="957.40" y="1066.84" width="6.80" height="18.16"/><rect x="964.20" y="1057.76" width="6.80" height="27.24"/><rect x="971.00" y="1048.68" width="6.80" height="36.32"/><rect x="977.80" y="1075.92" width="6.80" height="9.08"/><rect x="984.60" y="1066.84" width="6.80" height="18.16"/><rect x="991.40" y="1048.68" width="6.80" height="36.32"/></g>
<line x1="759.70" y1="1085.00" x2="998.70" y2="1085.00" stroke="#1a1a1a" stroke-width="2.0"/>
<line x1="750.20" y1="994.70" x2="750.20" y2="1084.70" stroke="#1a1a1a" stroke-width="1.7"/>
<line x1="750.20" y1="994.70" x2="753.20" y2="994.70" stroke="#1a1a1a" stroke-width="1.7"/>
<line x1="750.20" y1="1084.70" x2="753.20" y2="1084.70" stroke="#1a1a1a" stroke-width="1.7"/>
<g fill="#9c2063" stroke="#111" stroke-width="1.1"><rect x="1042.20" y="1066.54" width="6.84" height="18.16"/><rect x="1049.04" y="1075.62" width="6.84" height="9.08"/><rect x="1055.88" y="1075.62" width="6.84" height="9.08"/><rect x="1062.72" y="1066.54" width="6.84" height="18.16"/><rect x="1069.56" y="1048.38" width="6.84" height="36.32"/><rect x="1076.40" y="1066.54" width="6.84" height="18.16"/><rect x="1083.24" y="1075.62" width="6.84" height="9.08"/><rect x="1090.08" y="1030.22" width="6.84" height="54.48"/><rect x="1096.92" y="1048.38" width="6.84" height="36.32"/><rect x="1103.76" y="1057.46" width="6.84" height="27.24"/><rect x="1110.60" y="1057.46" width="6.84" height="27.24"/><rect x="1117.44" y="1066.54" width="6.84" height="18.16"/><rect x="1124.28" y="1066.54" width="6.84" height="18.16"/><rect x="1131.12" y="1075.62" width="6.84" height="9.08"/><rect x="1158.48" y="1048.38" width="6.84" height="36.32"/><rect x="1165.32" y="1066.54" width="6.84" height="18.16"/><rect x="1179.00" y="1048.38" width="6.84" height="36.32"/><rect x="1192.68" y="1066.54" width="6.84" height="18.16"/><rect x="1199.52" y="1057.46" width="6.84" height="27.24"/><rect x="1206.36" y="1048.38" width="6.84" height="36.32"/><rect x="1213.20" y="1066.54" width="6.84" height="18.16"/><rect x="1220.04" y="1066.54" width="6.84" height="18.16"/><rect x="1226.88" y="1039.30" width="6.84" height="45.40"/><rect x="1233.72" y="1075.62" width="6.84" height="9.08"/><rect x="1240.56" y="1048.38" width="6.84" height="36.32"/><rect x="1247.40" y="1057.46" width="6.84" height="27.24"/><rect x="1267.92" y="1075.62" width="6.84" height="9.08"/><rect x="1274.76" y="1066.54" width="6.84" height="18.16"/></g>
<line x1="1041.70" y1="1084.70" x2="1293.00" y2="1084.70" stroke="#1a1a1a" stroke-width="2.0"/>
<line x1="1033.40" y1="995.40" x2="1033.40" y2="1084.70" stroke="#1a1a1a" stroke-width="1.7"/>
<line x1="1033.40" y1="995.40" x2="1036.40" y2="995.40" stroke="#1a1a1a" stroke-width="1.7"/>
<line x1="1033.40" y1="1084.70" x2="1036.40" y2="1084.70" stroke="#1a1a1a" stroke-width="1.7"/>
<text class="r" transform="translate(119.72,1004.57) scale(1.026,1)" font-size="23.10">10</text>
<text class="r" transform="translate(132.53,1092.07) scale(1.062,1)" font-size="22.96">0</text>
<text class="r" transform="translate(166.12,1106.77) scale(1.037,1)" font-size="23.10">-100</text>
<text class="r" transform="translate(269.07,1106.77) scale(1.001,1)" font-size="23.10">0</text>
<text class="r" transform="translate(348.83,1106.77) scale(1.019,1)" font-size="23.10">100</text>
<text class="r" transform="translate(410.27,1004.57) scale(1.000,1)" font-size="23.10">10</text>
<text class="r" transform="translate(422.53,1092.07) scale(1.053,1)" font-size="22.96">0</text>
<text class="r" transform="translate(453.72,1106.77) scale(1.037,1)" font-size="23.10">-100</text>
<text class="r" transform="translate(557.08,1106.77) scale(1.001,1)" font-size="23.10">0</text>
<text class="r" transform="translate(637.43,1106.77) scale(1.019,1)" font-size="23.10">100</text>
<text class="r" transform="translate(720.66,1004.57) scale(1.004,1)" font-size="23.10">10</text>
<text class="r" transform="translate(733.03,1092.07) scale(1.053,1)" font-size="22.96">0</text>
<text class="r" transform="translate(763.72,1106.77) scale(1.037,1)" font-size="23.10">-100</text>
<text class="r" transform="translate(866.38,1106.77) scale(1.001,1)" font-size="23.10">0</text>
<text class="r" transform="translate(946.73,1106.77) scale(1.019,1)" font-size="23.10">100</text>
<text class="r" transform="translate(1002.74,1004.57) scale(0.957,1)" font-size="23.10">10</text>
<text class="r" transform="translate(1015.12,1092.07) scale(0.953,1)" font-size="22.96">0</text>
<text class="r" transform="translate(1046.72,1106.77) scale(1.037,1)" font-size="23.10">-100</text>
<text class="r" transform="translate(1149.58,1106.77) scale(1.001,1)" font-size="23.10">0</text>
<text class="r" transform="translate(1229.93,1106.77) scale(1.019,1)" font-size="23.10">100</text>
<text class="b" transform="translate(45.26,1147.20) scale(1.109,1)" font-size="32.69">f</text>
<text class="r" transform="translate(-0.34,1174.43) scale(1.068,1)" font-size="22.25">population</text>
<text class="r" transform="translate(3.39,1198.54) scale(1.006,1)" font-size="23.64">sum (mV)</text>
<polyline points="160.4,1197.8 173.5,1210.0 186.8,1216.4 199.5,1204.2 208.8,1196.1 222.7,1188.0 234.3,1185.1 249.4,1180.4 257.5,1177.5 264.5,1181.0 270.0,1178.4 278.7,1177.3 291.6,1182.7 299.2,1184.3 306.8,1188.1 318.7,1193.5 325.2,1199.0 333.8,1207.6 347.9,1206.0 355.5,1206.5 362.0,1202.7 368.5,1192.5 376.0,1188.1 383.6,1187.6 390.1,1189.2 396.0,1187.3" fill="none" stroke="#111" stroke-width="3.8" stroke-linejoin="round" stroke-linecap="round"/>
<polyline points="448.3,1138.2 457.4,1138.2 470.0,1142.8 482.5,1143.9 496.2,1138.2 503.0,1141.7 509.9,1141.7 523.6,1144.6 532.7,1150.3 538.4,1151.9 545.2,1156.9 552.7,1158.3 558.9,1150.1 564.6,1149.6 573.7,1146.2 580.6,1144.6 587.4,1141.7 594.2,1141.0 607.9,1142.3 614.8,1138.2 622.7,1142.8 635.3,1143.9 642.1,1142.3 650.1,1140.5 658.1,1141.0 666.1,1142.8 676.3,1146.9 685.4,1151.9" fill="none" stroke="#8e1b5c" stroke-width="3.8" stroke-linejoin="round" stroke-linecap="round"/>
<line x1="148.80" y1="1144.80" x2="148.80" y2="1213.20" stroke="#1a1a1a" stroke-width="1.7"/>
<line x1="148.80" y1="1144.80" x2="151.80" y2="1144.80" stroke="#1a1a1a" stroke-width="1.7"/>
<line x1="148.80" y1="1213.20" x2="151.80" y2="1213.20" stroke="#1a1a1a" stroke-width="1.7"/>
<line x1="159.00" y1="1222.70" x2="397.70" y2="1222.70" stroke="#1a1a1a" stroke-width="1.9"/>
<line x1="178.10" y1="1222.70" x2="178.10" y2="1220.20" stroke="#1a1a1a" stroke-width="1.7"/>
<line x1="271.40" y1="1222.70" x2="271.40" y2="1220.20" stroke="#1a1a1a" stroke-width="1.7"/>
<line x1="364.70" y1="1222.70" x2="364.70" y2="1220.20" stroke="#1a1a1a" stroke-width="1.7"/>
<line x1="439.20" y1="1144.60" x2="439.20" y2="1213.50" stroke="#1a1a1a" stroke-width="1.7"/>
<line x1="439.20" y1="1144.60" x2="442.20" y2="1144.60" stroke="#1a1a1a" stroke-width="1.7"/>
<line x1="439.20" y1="1213.50" x2="442.20" y2="1213.50" stroke="#1a1a1a" stroke-width="1.7"/>
<line x1="447.20" y1="1223.70" x2="686.60" y2="1223.70" stroke="#1a1a1a" stroke-width="1.9"/>
<line x1="466.60" y1="1223.70" x2="466.60" y2="1221.20" stroke="#1a1a1a" stroke-width="1.7"/>
<line x1="560.00" y1="1223.70" x2="560.00" y2="1221.20" stroke="#1a1a1a" stroke-width="1.7"/>
<line x1="653.50" y1="1223.70" x2="653.50" y2="1221.20" stroke="#1a1a1a" stroke-width="1.7"/>
<text class="r" transform="translate(133.03,1152.27) scale(0.944,1)" font-size="22.96">0</text>
<text class="r" transform="translate(103.90,1221.37) scale(1.053,1)" font-size="23.29">-1.5</text>
<text class="r" transform="translate(422.57,1152.56) scale(0.975,1)" font-size="23.94">0</text>
<text class="r" transform="translate(393.91,1221.37) scale(1.040,1)" font-size="23.29">-1.5</text>
<text class="r" transform="translate(165.42,1246.67) scale(1.037,1)" font-size="23.10">-100</text>
<text class="r" transform="translate(265.07,1246.67) scale(1.001,1)" font-size="23.10">0</text>
<text class="r" transform="translate(346.73,1246.67) scale(1.019,1)" font-size="23.10">100</text>
<text class="r" transform="translate(450.62,1246.67) scale(1.037,1)" font-size="23.10">-100</text>
<text class="r" transform="translate(554.58,1246.67) scale(1.001,1)" font-size="23.10">0</text>
<text class="r" transform="translate(634.63,1246.67) scale(1.019,1)" font-size="23.10">100</text>
<text class="b" transform="translate(734.41,1158.65) scale(1.085,1)" font-size="32.13">g</text>
<text class="r" transform="translate(792.26,1185.56) scale(1.032,1)" font-size="23.52">E-PG</text>
<text class="r" transform="translate(780.55,1209.75) scale(0.940,1)" font-size="25.45">neuron</text>
<text class="r" transform="translate(780.55,1232.89) scale(1.114,1)" font-size="21.36">location</text>
<text class="r" transform="translate(885.69,1149.70) scale(0.997,1)" font-size="24.20">1</text>
<text class="r" transform="translate(884.68,1177.50) scale(1.168,1)" font-size="22.57">2</text>
<text class="r" transform="translate(884.99,1206.98) scale(1.135,1)" font-size="22.25">3</text>
<text class="r" transform="translate(885.52,1236.80) scale(1.044,1)" font-size="22.75">4</text>
<text class="r" transform="translate(884.99,1266.27) scale(1.119,1)" font-size="22.57">5</text>
<text class="r" transform="translate(884.71,1295.98) scale(1.160,1)" font-size="22.25">6</text>
<text class="r" transform="translate(884.68,1325.90) scale(1.221,1)" font-size="21.59">7</text>
<text class="r" transform="translate(884.85,1355.29) scale(1.225,1)" font-size="20.85">8</text>
<g fill="#7d7d7f"><rect x="-2.35" y="-14.8" width="4.7" height="10" transform="translate(784.4,1310.9) rotate(0)"/><rect x="-2.35" y="-14.8" width="4.7" height="10" transform="translate(784.4,1310.9) rotate(45)"/><rect x="-2.35" y="-14.8" width="4.7" height="10" transform="translate(784.4,1310.9) rotate(90)"/><rect x="-2.35" y="-14.8" width="4.7" height="10" transform="translate(784.4,1310.9) rotate(135)"/><rect x="-2.35" y="-14.8" width="4.7" height="10" transform="translate(784.4,1310.9) rotate(180)"/><rect x="-2.35" y="-14.8" width="4.7" height="10" transform="translate(784.4,1310.9) rotate(225)"/><rect x="-2.35" y="-14.8" width="4.7" height="10" transform="translate(784.4,1310.9) rotate(270)"/><rect x="-2.35" y="-14.8" width="4.7" height="10" transform="translate(784.4,1310.9) rotate(315)"/></g><circle cx="784.4" cy="1310.9" r="6.1" fill="#fff"/>
<text class="r" transform="translate(779.37,1284.89) scale(1.098,1)" font-size="21.29">5</text>
<text class="r" transform="translate(754.72,1293.40) scale(1.117,1)" font-size="21.45">4</text>
<text class="r" transform="translate(802.21,1294.09) scale(1.238,1)" font-size="20.85">6</text>
<text class="r" transform="translate(744.06,1319.18) scale(1.060,1)" font-size="22.25">3</text>
<text class="r" transform="translate(811.47,1319.40) scale(1.017,1)" font-size="24.20">7</text>
<text class="r" transform="translate(754.98,1343.50) scale(1.146,1)" font-size="21.29">2</text>
<text class="r" transform="translate(779.77,1350.90) scale(0.833,1)" font-size="22.90">1</text>
<text class="r" transform="translate(801.43,1343.29) scale(1.136,1)" font-size="20.99">8</text>
<g stroke="#111" stroke-width="1.5"><circle cx="965.8" cy="1139.4" r="5.3" fill="#f7c6c9"/><circle cx="1022.9" cy="1163" r="5.3" fill="#eef4fa"/><circle cx="1047.3" cy="1163" r="5.3" fill="#f4a5aa"/><circle cx="1161.2" cy="1193.6" r="5.3" fill="#e03a3e"/><circle cx="998.4" cy="1223.9" r="5.3" fill="#e8585c"/><circle cx="1030.9" cy="1223.9" r="5.3" fill="#a9cdee"/><circle cx="1088" cy="1223.9" r="5.3" fill="#f6b9bd"/><circle cx="997.9" cy="1254.6" r="5.3" fill="#8e1a1d"/><circle cx="1006.7" cy="1254.6" r="5.3" fill="#f19ea2"/><circle cx="1145" cy="1254.3" r="5.3" fill="#f0a0a5"/><circle cx="949.4" cy="1284.7" r="5.3" fill="#f2a0a5"/><circle cx="990.3" cy="1284.7" r="5.3" fill="#fbe0e2"/><circle cx="1014.8" cy="1284.7" r="5.3" fill="#f2a0a5"/><circle cx="1120.8" cy="1285" r="5.3" fill="#fbe4e6"/><circle cx="1185.8" cy="1285" r="5.3" fill="#ffffff"/><circle cx="925.2" cy="1315.5" r="5.3" fill="#fbe0e2"/><circle cx="941.3" cy="1315.5" r="5.3" fill="#f2a0a5"/><circle cx="1128.7" cy="1315.3" r="5.3" fill="#dceaf7"/><circle cx="1177.6" cy="1315.3" r="5.3" fill="#ee9196"/><circle cx="1006.7" cy="1345.9" r="5.3" fill="#f9ccd0"/></g>
<line x1="924.60" y1="1371.20" x2="1203.00" y2="1371.20" stroke="#1a1a1a" stroke-width="1.9"/>
<line x1="946.60" y1="1371.20" x2="946.60" y2="1365.30" stroke="#1a1a1a" stroke-width="1.7"/>
<line x1="1001.00" y1="1371.20" x2="1001.00" y2="1365.30" stroke="#1a1a1a" stroke-width="1.7"/>
<line x1="1055.30" y1="1371.20" x2="1055.30" y2="1365.30" stroke="#1a1a1a" stroke-width="1.7"/>
<line x1="1109.60" y1="1371.20" x2="1109.60" y2="1365.30" stroke="#1a1a1a" stroke-width="1.7"/>
<line x1="1164.00" y1="1371.20" x2="1164.00" y2="1365.30" stroke="#1a1a1a" stroke-width="1.7"/>
<text class="r" transform="translate(920.75,1393.76) scale(0.975,1)" font-size="23.94">-100</text>
<text class="r" transform="translate(1048.34,1393.76) scale(1.001,1)" font-size="23.94">0</text>
<text class="r" transform="translate(1144.92,1393.76) scale(0.935,1)" font-size="23.94">100</text>
<text class="r" transform="translate(869.07,1420.03) scale(0.999,1)" font-size="23.21">cue position for peak depolarization</text>
<text class="r" transform="translate(886.87,1443.33) scale(1.040,1)" font-size="22.25">or minimum hyperpolarization (°)</text>
<rect x="1258.7" y="1141.2" width="9.2" height="214.9" fill="url(#cb2)" stroke="#111" stroke-width="1.5"/>
<line x1="1264.50" y1="1184.80" x2="1267.90" y2="1184.80" stroke="#111" stroke-width="1.5"/>
<line x1="1264.50" y1="1227.90" x2="1267.90" y2="1227.90" stroke="#111" stroke-width="1.5"/>
<line x1="1264.50" y1="1271.00" x2="1267.90" y2="1271.00" stroke="#111" stroke-width="1.5"/>
<line x1="1264.50" y1="1314.00" x2="1267.90" y2="1314.00" stroke="#111" stroke-width="1.5"/>
<text class="r" transform="translate(1271.04,1193.38) scale(1.077,1)" font-size="22.25">0</text>
<text class="r" transform="translate(1270.76,1323.48) scale(1.111,1)" font-size="22.25">6</text>
<text class="r" transform="translate(1246.95,1330.61) rotate(-90) scale(1.315,1)" font-size="18.82">response (mV)</text>
</svg>
</body></html>
